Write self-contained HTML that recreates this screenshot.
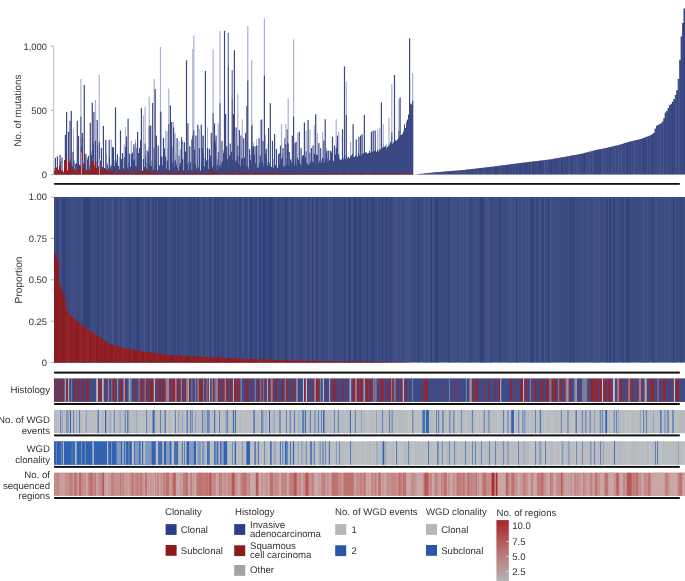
<!DOCTYPE html>
<html><head><meta charset="utf-8"><style>
html,body{margin:0;padding:0;background:#fff;width:685px;height:581px;overflow:hidden}
svg{display:block} text{text-rendering:geometricPrecision} svg{will-change:transform}
</style></head><body><svg width="685" height="581" viewBox="0 0 685 581"><path d="M54 168.1H55V171.9H54ZM55 171.5H56V173.2H55ZM56 173.1H57V173.2H56ZM57 170.8H58V171.1H57ZM59 169.3H60V172.9H59ZM63 171.5H64V171.9H63ZM66 157.6H67V164.1H66ZM67 170.8H68V172.6H67ZM68 159.9H69V162.9H68ZM69 162.3H70V165.2H69ZM73 129.6H74V161.3H73ZM74 160.5H75V171.9H74ZM75 171.2H76V171.5H75ZM81 138.0H82V146.9H81ZM84 153.4H85V157.3H84ZM85 157.9H86V162.9H85ZM86 170.6H87V171.1H86ZM87 157.3H88V159.6H87ZM89 165.5H90V172.0H89ZM91 150.4H92V154.7H91ZM93 142.6H94V144.2H93ZM94 164.9H95V170.2H94ZM95 164.6H96V164.6H95ZM96 160.9H97V167.7H96ZM99 143.7H100V162.4H99ZM101 156.0H102V159.7H101ZM103 170.2H104V171.9H103ZM104 170.6H105V171.0H104ZM105 171.6H106V172.4H105ZM106 153.8H107V168.8H106ZM107 162.6H108V164.7H107ZM108 168.0H109V168.9H108ZM110 166.6H111V167.3H110ZM111 169.2H112V171.4H111ZM112 158.0H113V158.1H112ZM113 147.0H114V148.1H113ZM114 160.5H115V165.9H114ZM116 159.3H117V162.6H116ZM119 156.9H120V168.9H119ZM122 156.0H123V161.3H122ZM123 168.3H124V168.5H123ZM124 160.9H125V169.4H124ZM125 127.0H126V146.9H125ZM127 166.5H128V168.3H127ZM128 163.1H129V170.2H128ZM131 151.2H132V159.0H131ZM133 159.3H134V160.7H133ZM134 147.7H135V159.4H134ZM135 139.6H136V143.3H135ZM137 169.1H138V170.3H137ZM141 167.2H142V168.2H141ZM143 143.7H144V163.2H143ZM145 155.5H146V157.6H145ZM146 162.4H147V168.8H146ZM147 168.1H148V169.1H147ZM148 147.9H149V152.3H148ZM151 160.6H152V165.9H151ZM152 169.8H153V171.3H152ZM154 160.6H155V169.9H154ZM155 159.6H156V164.9H155ZM158 158.4H159V169.0H158ZM162 157.1H163V165.6H162ZM163 161.7H164V166.4H163ZM168 165.7H169V170.0H168ZM169 170.0H170V170.5H169ZM171 143.8H172V152.9H171ZM172 147.0H173V162.4H172ZM173 121.7H174V143.6H173ZM174 133.9H175V166.9H174ZM175 152.6H176V156.7H175ZM176 163.6H177V165.2H176ZM179 163.4H180V166.3H179ZM180 162.6H181V163.1H180ZM182 140.1H183V142.3H182ZM184 164.3H185V168.3H184ZM186 150.3H187V168.4H186ZM188 161.6H189V170.0H188ZM189 146.2H190V166.3H189ZM193 160.0H194V165.8H193ZM194 148.7H195V149.7H194ZM195 163.8H196V164.6H195ZM196 167.5H197V169.2H196ZM197 157.3H198V167.6H197ZM198 166.4H199V167.8H198ZM199 165.0H200V167.1H199ZM201 159.4H202V164.0H201ZM202 136.3H203V148.6H202ZM203 152.9H204V165.9H203ZM204 158.0H205V166.4H204ZM205 125.1H206V138.0H205ZM207 165.7H208V166.1H207ZM208 159.4H209V169.1H208ZM209 167.2H210V167.9H209ZM211 159.3H212V161.3H211ZM212 166.1H213V167.4H212ZM213 141.9H214V165.4H213ZM214 139.3H215V141.3H214ZM215 139.9H216V143.1H215ZM216 165.4H217V170.0H216ZM217 159.3H218V164.4H217ZM218 169.2H219V169.9H218ZM219 165.7H220V165.8H219ZM220 160.6H221V167.0H220ZM223 150.1H224V152.9H223ZM224 127.0H225V136.3H224ZM225 148.5H226V161.5H225ZM228 163.4H229V168.4H228ZM232 159.8H233V160.1H232ZM233 167.6H234V168.4H233ZM236 160.2H237V160.3H236ZM238 156.0H239V163.8H238ZM240 164.7H241V167.0H240ZM241 149.1H242V158.8H241ZM242 136.0H243V139.5H242ZM245 159.8H246V160.9H245ZM248 166.7H249V168.9H248ZM250 154.7H251V160.0H250ZM251 163.0H252V163.9H251ZM252 123.4H253V150.9H252ZM253 142.4H254V146.8H253ZM255 162.3H256V164.0H255ZM256 139.1H257V145.4H256ZM257 145.4H258V167.4H257ZM260 142.3H261V158.8H260ZM261 163.1H262V163.1H261ZM262 160.4H263V163.0H262ZM263 164.4H264V167.1H263ZM264 143.6H265V153.6H264ZM265 134.8H266V153.6H265ZM267 161.8H268V165.4H267ZM269 162.1H270V164.4H269ZM270 163.0H271V167.9H270ZM272 165.2H273V167.1H272ZM273 158.9H274V167.4H273ZM276 156.1H277V159.5H276ZM279 164.8H280V164.9H279ZM280 158.4H281V160.2H280ZM281 163.1H282V166.7H281ZM282 153.8H283V156.7H282ZM284 165.6H285V166.1H284ZM286 158.8H287V165.2H286ZM287 149.7H288V150.1H287ZM288 165.1H289V166.2H288ZM289 165.6H290V166.4H289ZM291 160.9H292V162.4H291ZM292 163.1H293V164.2H292ZM293 157.0H294V166.2H293ZM294 163.3H295V166.0H294ZM295 159.5H296V160.3H295ZM296 163.8H297V165.4H296ZM298 159.9H299V160.0H298ZM301 158.9H302V166.0H301ZM303 154.8H304V155.1H303ZM304 162.2H305V165.3H304ZM310 161.8H311V162.1H310ZM312 161.3H313V161.5H312ZM314 160.9H315V163.4H314ZM315 163.1H316V164.7H315ZM317 157.4H318V158.1H317ZM319 160.6H320V160.7H319ZM321 159.4H322V162.4H321ZM322 155.9H323V156.0H322ZM323 159.3H324V162.4H323ZM325 158.5H326V159.2H325ZM326 147.9H327V152.5H326ZM327 158.2H328V162.0H327ZM329 159.7H330V160.3H329ZM331 151.7H332V153.1H331ZM333 161.0H334V161.1H333ZM337 152.2H338V159.6H337ZM338 153.5H339V156.5H338ZM339 157.9H340V159.0H339ZM340 159.6H341V160.0H340ZM343 157.4H344V159.3H343ZM344 157.2H345V157.3H344ZM345 155.6H346V158.4H345ZM346 156.2H347V158.7H346ZM347 156.9H348V158.7H347ZM348 156.8H349V156.8H348ZM351 155.0H352V155.3H351ZM354 157.0H355V157.0H354ZM357 156.0H358V156.7H357ZM359 155.0H360V155.6H359ZM364 153.8H365V154.3H364ZM365 152.3H366V152.6H365ZM366 152.3H367V152.4H366ZM370 152.6H371V152.7H370ZM372 151.5H373V152.1H372ZM375 149.1H376V151.1H375ZM378 151.2H379V151.5H378ZM380 149.2H381V149.7H380ZM381 144.1H382V144.4H381ZM383 142.9H384V143.6H383ZM385 145.3H386V145.7H385ZM386 144.3H387V148.2H386ZM389 144.0H390V145.7H389ZM390 141.2H391V142.1H390ZM391 143.2H392V143.7H391ZM392 143.7H393V144.0H392ZM394 141.9H395V142.3H394ZM395 140.0H396V140.4H395ZM397 139.0H398V139.2H397ZM399 136.4H400V136.6H399ZM400 134.8H401V135.1H400ZM403 129.9H404V132.0H403ZM404 124.0H405V124.3H404ZM405 128.0H406V128.0H405ZM406 120.5H407V122.4H406ZM408 114.4H409V114.5H408ZM410 103.1H411V104.1H410ZM411 104.4H412V104.5H411ZM412 99.9H413V102.8H412Z" fill="#aab1d2"/><path d="M54 171.9H55V174.5H54ZM55 173.2H56V174.5H55ZM56 173.2H57V174.5H56ZM57 171.1H58V174.5H57ZM58 171.2H59V174.5H58ZM59 172.9H60V174.5H59ZM60 161.6H61V174.5H60ZM61 171.3H62V174.5H61ZM62 173.1H63V174.5H62ZM63 171.9H64V174.5H63ZM64 170.0H65V174.5H64ZM65 171.5H66V174.5H65ZM66 164.1H67V174.5H66ZM67 172.6H68V174.5H67ZM68 162.9H69V174.5H68ZM69 165.2H70V174.5H69ZM70 158.9H71V174.5H70ZM71 170.6H72V174.5H71ZM72 166.4H73V174.5H72ZM73 161.3H74V174.5H73ZM74 171.9H75V174.5H74ZM75 171.5H76V174.5H75ZM76 163.1H77V174.5H76ZM77 165.3H78V174.5H77ZM78 169.6H79V174.5H78ZM79 164.8H80V174.5H79ZM80 167.4H81V174.5H80ZM81 146.9H82V174.5H81ZM82 172.3H83V174.5H82ZM83 163.5H84V174.5H83ZM84 157.3H85V174.5H84ZM85 162.9H86V174.5H85ZM86 171.1H87V174.5H86ZM87 159.6H88V174.5H87ZM88 168.3H89V174.5H88ZM89 172.0H90V174.5H89ZM90 153.4H91V174.5H90ZM91 154.7H92V174.5H91ZM92 168.7H93V174.5H92ZM93 144.2H94V174.5H93ZM94 170.2H95V174.5H94ZM95 164.6H96V174.5H95ZM96 167.7H97V174.5H96ZM97 145.0H98V174.5H97ZM98 166.0H99V174.5H98ZM99 162.4H100V174.5H99ZM100 160.4H101V174.5H100ZM101 159.7H102V174.5H101ZM102 171.6H103V174.5H102ZM103 171.9H104V174.5H103ZM104 171.0H105V174.5H104ZM105 172.4H106V174.5H105ZM106 168.8H107V174.5H106ZM107 164.7H108V174.5H107ZM108 168.9H109V174.5H108ZM109 157.2H110V174.5H109ZM110 167.3H111V174.5H110ZM111 171.4H112V174.5H111ZM112 158.1H113V174.5H112ZM113 148.1H114V174.5H113ZM114 165.9H115V174.5H114ZM115 141.5H116V174.5H115ZM116 162.6H117V174.5H116ZM117 170.7H118V174.5H117ZM118 166.0H119V174.5H118ZM119 168.9H120V174.5H119ZM120 138.5H121V174.5H120ZM121 158.9H122V174.5H121ZM122 161.3H123V174.5H122ZM123 168.5H124V174.5H123ZM124 169.4H125V174.5H124ZM125 146.9H126V174.5H125ZM126 136.6H127V174.5H126ZM127 168.3H128V174.5H127ZM128 170.2H129V174.5H128ZM129 153.5H130V174.5H129ZM130 166.7H131V174.5H130ZM131 159.0H132V174.5H131ZM132 152.6H133V174.5H132ZM133 160.7H134V174.5H133ZM134 159.4H135V174.5H134ZM135 143.3H136V174.5H135ZM136 148.3H137V174.5H136ZM137 170.3H138V174.5H137ZM138 152.9H139V174.5H138ZM139 170.4H140V174.5H139ZM140 140.3H141V174.5H140ZM141 168.2H142V174.5H141ZM142 171.5H143V174.5H142ZM143 163.2H144V174.5H143ZM144 167.1H145V174.5H144ZM145 157.6H146V174.5H145ZM146 168.8H147V174.5H146ZM147 169.1H148V174.5H147ZM148 152.3H149V174.5H148ZM149 164.5H150V174.5H149ZM150 167.1H151V174.5H150ZM151 165.9H152V174.5H151ZM152 171.3H153V174.5H152ZM153 171.4H154V174.5H153ZM154 169.9H155V174.5H154ZM155 164.9H156V174.5H155ZM156 164.9H157V174.5H156ZM157 170.5H158V174.5H157ZM158 169.0H159V174.5H158ZM159 165.6H160V174.5H159ZM160 159.9H161V174.5H160ZM161 166.6H162V174.5H161ZM162 165.6H163V174.5H162ZM163 166.4H164V174.5H163ZM164 148.5H165V174.5H164ZM165 154.5H166V174.5H165ZM166 168.8H167V174.5H166ZM167 148.2H168V174.5H167ZM168 170.0H169V174.5H168ZM169 170.5H170V174.5H169ZM170 162.2H171V174.5H170ZM171 152.9H172V174.5H171ZM172 162.4H173V174.5H172ZM173 143.6H174V174.5H173ZM174 166.9H175V174.5H174ZM175 156.7H176V174.5H175ZM176 165.2H177V174.5H176ZM177 167.9H178V174.5H177ZM178 170.8H179V174.5H178ZM179 166.3H180V174.5H179ZM180 163.1H181V174.5H180ZM181 137.2H182V174.5H181ZM182 142.3H183V174.5H182ZM183 170.5H184V174.5H183ZM184 168.3H185V174.5H184ZM185 151.4H186V174.5H185ZM186 168.4H187V174.5H186ZM187 164.0H188V174.5H187ZM188 170.0H189V174.5H188ZM189 166.3H190V174.5H189ZM190 162.6H191V174.5H190ZM191 170.0H192V174.5H191ZM192 170.1H193V174.5H192ZM193 165.8H194V174.5H193ZM194 149.7H195V174.5H194ZM195 164.6H196V174.5H195ZM196 169.2H197V174.5H196ZM197 167.6H198V174.5H197ZM198 167.8H199V174.5H198ZM199 167.1H200V174.5H199ZM200 170.4H201V174.5H200ZM201 164.0H202V174.5H201ZM202 148.6H203V174.5H202ZM203 165.9H204V174.5H203ZM204 166.4H205V174.5H204ZM205 138.0H206V174.5H205ZM206 160.5H207V174.5H206ZM207 166.1H208V174.5H207ZM208 169.1H209V174.5H208ZM209 167.9H210V174.5H209ZM210 155.5H211V174.5H210ZM211 161.3H212V174.5H211ZM212 167.4H213V174.5H212ZM213 165.4H214V174.5H213ZM214 141.3H215V174.5H214ZM215 143.1H216V174.5H215ZM216 170.0H217V174.5H216ZM217 164.4H218V174.5H217ZM218 169.9H219V174.5H218ZM219 165.8H220V174.5H219ZM220 167.0H221V174.5H220ZM221 163.8H222V174.5H221ZM222 161.3H223V174.5H222ZM223 152.9H224V174.5H223ZM224 136.3H225V174.5H224ZM225 161.5H226V174.5H225ZM226 151.9H227V174.5H226ZM227 159.1H228V174.5H227ZM228 168.4H229V174.5H228ZM229 155.2H230V174.5H229ZM230 155.6H231V174.5H230ZM231 151.7H232V174.5H231ZM232 160.1H233V174.5H232ZM233 168.4H234V174.5H233ZM234 155.0H235V174.5H234ZM235 161.5H236V174.5H235ZM236 160.3H237V174.5H236ZM237 156.6H238V174.5H237ZM238 163.8H239V174.5H238ZM239 168.8H240V174.5H239ZM240 167.0H241V174.5H240ZM241 158.8H242V174.5H241ZM242 139.5H243V174.5H242ZM243 164.0H244V174.5H243ZM244 157.5H245V174.5H244ZM245 160.9H246V174.5H245ZM246 166.8H247V174.5H246ZM247 166.2H248V174.5H247ZM248 168.9H249V174.5H248ZM249 160.1H250V174.5H249ZM250 160.0H251V174.5H250ZM251 163.9H252V174.5H251ZM252 150.9H253V174.5H252ZM253 146.8H254V174.5H253ZM254 155.1H255V174.5H254ZM255 164.0H256V174.5H255ZM256 145.4H257V174.5H256ZM257 167.4H258V174.5H257ZM258 167.4H259V174.5H258ZM259 162.8H260V174.5H259ZM260 158.8H261V174.5H260ZM261 163.1H262V174.5H261ZM262 163.0H263V174.5H262ZM263 167.1H264V174.5H263ZM264 153.6H265V174.5H264ZM265 153.6H266V174.5H265ZM266 158.2H267V174.5H266ZM267 165.4H268V174.5H267ZM268 128.1H269V174.5H268ZM269 164.4H270V174.5H269ZM270 167.9H271V174.5H270ZM271 167.0H272V174.5H271ZM272 167.1H273V174.5H272ZM273 167.4H274V174.5H273ZM274 161.5H275V174.5H274ZM275 165.0H276V174.5H275ZM276 159.5H277V174.5H276ZM277 167.8H278V174.5H277ZM278 166.2H279V174.5H278ZM279 164.9H280V174.5H279ZM280 160.2H281V174.5H280ZM281 166.7H282V174.5H281ZM282 156.7H283V174.5H282ZM283 166.7H284V174.5H283ZM284 166.1H285V174.5H284ZM285 166.7H286V174.5H285ZM286 165.2H287V174.5H286ZM287 150.1H288V174.5H287ZM288 166.2H289V174.5H288ZM289 166.4H290V174.5H289ZM290 164.0H291V174.5H290ZM291 162.4H292V174.5H291ZM292 164.2H293V174.5H292ZM293 166.2H294V174.5H293ZM294 166.0H295V174.5H294ZM295 160.3H296V174.5H295ZM296 165.4H297V174.5H296ZM297 157.0H298V174.5H297ZM298 160.0H299V174.5H298ZM299 162.4H300V174.5H299ZM300 164.1H301V174.5H300ZM301 166.0H302V174.5H301ZM302 160.7H303V174.5H302ZM303 155.1H304V174.5H303ZM304 165.3H305V174.5H304ZM305 157.2H306V174.5H305ZM306 162.5H307V174.5H306ZM307 163.7H308V174.5H307ZM308 165.3H309V174.5H308ZM309 164.6H310V174.5H309ZM310 162.1H311V174.5H310ZM311 164.3H312V174.5H311ZM312 161.5H313V174.5H312ZM313 162.7H314V174.5H313ZM314 163.4H315V174.5H314ZM315 164.7H316V174.5H315ZM316 155.1H317V174.5H316ZM317 158.1H318V174.5H317ZM318 163.6H319V174.5H318ZM319 160.7H320V174.5H319ZM320 162.1H321V174.5H320ZM321 162.4H322V174.5H321ZM322 156.0H323V174.5H322ZM323 162.4H324V174.5H323ZM324 162.7H325V174.5H324ZM325 159.2H326V174.5H325ZM326 152.5H327V174.5H326ZM327 162.0H328V174.5H327ZM328 161.6H329V174.5H328ZM329 160.3H330V174.5H329ZM330 160.6H331V174.5H330ZM331 153.1H332V174.5H331ZM332 161.1H333V174.5H332ZM333 161.1H334V174.5H333ZM334 159.9H335V174.5H334ZM335 154.7H336V174.5H335ZM336 143.0H337V174.5H336ZM337 159.6H338V174.5H337ZM338 156.5H339V174.5H338ZM339 159.0H340V174.5H339ZM340 160.0H341V174.5H340ZM341 159.5H342V174.5H341ZM342 159.6H343V174.5H342ZM343 159.3H344V174.5H343ZM344 157.3H345V174.5H344ZM345 158.4H346V174.5H345ZM346 158.7H347V174.5H346ZM347 158.7H348V174.5H347ZM348 156.8H349V174.5H348ZM349 158.3H350V174.5H349ZM350 157.9H351V174.5H350ZM351 155.3H352V174.5H351ZM352 154.1H353V174.5H352ZM353 157.3H354V174.5H353ZM354 157.0H355V174.5H354ZM355 155.5H356V174.5H355ZM356 155.7H357V174.5H356ZM357 156.7H358V174.5H357ZM358 152.7H359V174.5H358ZM359 155.6H360V174.5H359ZM360 155.2H361V174.5H360ZM361 155.5H362V174.5H361ZM362 153.8H363V174.5H362ZM363 153.3H364V174.5H363ZM364 154.3H365V174.5H364ZM365 152.6H366V174.5H365ZM366 152.4H367V174.5H366ZM367 153.7H368V174.5H367ZM368 152.9H369V174.5H368ZM369 150.7H370V174.5H369ZM370 152.7H371V174.5H370ZM371 152.1H372V174.5H371ZM372 152.1H373V174.5H372ZM373 151.5H374V174.5H373ZM374 150.9H375V174.5H374ZM375 151.1H376V174.5H375ZM376 151.8H377V174.5H376ZM377 151.5H378V174.5H377ZM378 151.5H379V174.5H378ZM379 151.1H380V174.5H379ZM380 149.7H381V174.5H380ZM381 144.4H382V174.5H381ZM382 147.8H383V174.5H382ZM383 143.6H384V174.5H383ZM384 146.8H385V174.5H384ZM385 145.7H386V174.5H385ZM386 148.2H387V174.5H386ZM387 146.8H388V174.5H387ZM388 146.5H389V174.5H388ZM389 145.7H390V174.5H389ZM390 142.1H391V174.5H390ZM391 143.7H392V174.5H391ZM392 144.0H393V174.5H392ZM393 142.3H394V174.5H393ZM394 142.3H395V174.5H394ZM395 140.4H396V174.5H395ZM396 140.6H397V174.5H396ZM397 139.2H398V174.5H397ZM398 138.5H399V174.5H398ZM399 136.6H400V174.5H399ZM400 135.1H401V174.5H400ZM401 134.9H402V174.5H401ZM402 133.6H403V174.5H402ZM403 132.0H404V174.5H403ZM404 124.3H405V174.5H404ZM405 128.0H406V174.5H405ZM406 122.4H407V174.5H406ZM407 119.4H408V174.5H407ZM408 114.5H409V174.5H408ZM409 109.4H410V174.5H409ZM410 104.1H411V174.5H410ZM411 104.5H412V174.5H411ZM412 102.8H413V174.5H412Z" fill="#3a4883"/><rect x="54.80" y="157.8" width="1.2" height="16.7" fill="#3a4883"/><rect x="56.80" y="156.2" width="1.2" height="18.3" fill="#3a4883"/><rect x="59.40" y="154.8" width="1.2" height="19.7" fill="#3a4883"/><rect x="61.40" y="157.4" width="1.2" height="17.1" fill="#3a4883"/><rect x="64.80" y="134.9" width="1.2" height="39.6" fill="#3a4883"/><rect x="66.00" y="111.9" width="1.2" height="62.6" fill="#3a4883"/><rect x="67.90" y="131.9" width="1.2" height="42.6" fill="#3a4883"/><rect x="69.40" y="120.9" width="1.2" height="53.6" fill="#3a4883"/><rect x="70.70" y="110.9" width="1.2" height="63.6" fill="#3a4883"/><rect x="72.40" y="151.8" width="1.2" height="22.7" fill="#3a4883"/><rect x="74.70" y="163.8" width="1.2" height="10.7" fill="#3a4883"/><rect x="76.70" y="120.9" width="1.2" height="53.6" fill="#3a4883"/><rect x="77.90" y="135.9" width="1.2" height="38.6" fill="#3a4883"/><rect x="80.30" y="79.0" width="1.2" height="37.6" fill="#aab1d2"/><rect x="80.30" y="116.6" width="1.2" height="57.9" fill="#3a4883"/><rect x="81.90" y="132.9" width="1.2" height="41.6" fill="#3a4883"/><rect x="83.70" y="85.0" width="1.2" height="89.5" fill="#3a4883"/><rect x="85.30" y="153.8" width="1.2" height="20.7" fill="#3a4883"/><rect x="87.90" y="155.8" width="1.2" height="18.7" fill="#3a4883"/><rect x="89.70" y="122.9" width="1.2" height="51.6" fill="#3a4883"/><rect x="91.70" y="102.9" width="1.2" height="71.6" fill="#3a4883"/><rect x="93.30" y="111.9" width="1.2" height="62.6" fill="#3a4883"/><rect x="94.90" y="99.9" width="1.2" height="40.7" fill="#aab1d2"/><rect x="94.90" y="140.6" width="1.2" height="33.9" fill="#3a4883"/><rect x="96.60" y="119.9" width="1.2" height="54.6" fill="#3a4883"/><rect x="98.60" y="75.0" width="1.2" height="66.9" fill="#aab1d2"/><rect x="98.60" y="141.9" width="1.2" height="32.6" fill="#3a4883"/><rect x="100.80" y="147.8" width="1.2" height="26.7" fill="#3a4883"/><rect x="102.80" y="125.9" width="1.2" height="48.6" fill="#3a4883"/><rect x="105.20" y="139.9" width="1.2" height="34.6" fill="#3a4883"/><rect x="108.60" y="139.9" width="1.2" height="34.6" fill="#3a4883"/><rect x="110.70" y="139.3" width="1.2" height="25.9" fill="#aab1d2"/><rect x="110.70" y="165.2" width="1.2" height="9.3" fill="#3a4883"/><rect x="111.90" y="146.9" width="1.2" height="27.6" fill="#3a4883"/><rect x="114.90" y="107.4" width="1.2" height="67.1" fill="#3a4883"/><rect x="116.90" y="154.4" width="1.2" height="20.1" fill="#3a4883"/><rect x="119.90" y="130.5" width="1.2" height="44.0" fill="#3a4883"/><rect x="122.00" y="153.0" width="1.2" height="21.5" fill="#3a4883"/><rect x="123.70" y="144.3" width="1.2" height="13.0" fill="#aab1d2"/><rect x="123.70" y="157.3" width="1.2" height="17.2" fill="#3a4883"/><rect x="126.00" y="150.6" width="1.2" height="23.9" fill="#3a4883"/><rect x="127.50" y="118.7" width="1.2" height="55.8" fill="#3a4883"/><rect x="130.70" y="140.6" width="1.2" height="13.6" fill="#aab1d2"/><rect x="130.70" y="154.2" width="1.2" height="20.3" fill="#3a4883"/><rect x="133.30" y="144.3" width="1.2" height="30.2" fill="#3a4883"/><rect x="135.30" y="144.3" width="1.2" height="22.0" fill="#aab1d2"/><rect x="135.30" y="166.3" width="1.2" height="8.2" fill="#3a4883"/><rect x="137.00" y="131.8" width="1.2" height="42.7" fill="#3a4883"/><rect x="139.00" y="148.1" width="1.2" height="26.4" fill="#3a4883"/><rect x="140.80" y="107.9" width="1.2" height="66.6" fill="#3a4883"/><rect x="142.80" y="115.4" width="1.2" height="43.7" fill="#aab1d2"/><rect x="142.80" y="159.1" width="1.2" height="15.4" fill="#3a4883"/><rect x="144.50" y="106.7" width="1.2" height="36.8" fill="#aab1d2"/><rect x="144.50" y="143.5" width="1.2" height="31.0" fill="#3a4883"/><rect x="146.60" y="150.6" width="1.2" height="23.9" fill="#3a4883"/><rect x="148.60" y="96.6" width="1.2" height="28.9" fill="#aab1d2"/><rect x="148.60" y="125.5" width="1.2" height="49.0" fill="#3a4883"/><rect x="150.10" y="125.5" width="1.2" height="49.0" fill="#3a4883"/><rect x="152.10" y="102.9" width="1.2" height="71.6" fill="#3a4883"/><rect x="153.60" y="79.0" width="1.2" height="68.8" fill="#aab1d2"/><rect x="153.60" y="147.8" width="1.2" height="26.7" fill="#3a4883"/><rect x="154.60" y="89.0" width="1.2" height="85.5" fill="#3a4883"/><rect x="155.80" y="135.6" width="1.2" height="38.9" fill="#3a4883"/><rect x="157.60" y="145.6" width="1.2" height="28.9" fill="#3a4883"/><rect x="159.90" y="47.1" width="1.2" height="64.4" fill="#aab1d2"/><rect x="159.90" y="111.5" width="1.2" height="63.0" fill="#3a4883"/><rect x="160.90" y="111.7" width="1.2" height="44.7" fill="#aab1d2"/><rect x="160.90" y="156.4" width="1.2" height="18.1" fill="#3a4883"/><rect x="162.90" y="138.0" width="1.2" height="36.5" fill="#3a4883"/><rect x="165.10" y="130.5" width="1.2" height="26.3" fill="#aab1d2"/><rect x="165.10" y="156.8" width="1.2" height="17.7" fill="#3a4883"/><rect x="166.60" y="131.4" width="1.2" height="29.3" fill="#aab1d2"/><rect x="166.60" y="160.7" width="1.2" height="13.8" fill="#3a4883"/><rect x="168.20" y="88.5" width="1.2" height="35.6" fill="#aab1d2"/><rect x="168.20" y="124.1" width="1.2" height="50.4" fill="#3a4883"/><rect x="169.80" y="105.4" width="1.2" height="69.1" fill="#3a4883"/><rect x="171.10" y="122.0" width="1.2" height="52.5" fill="#3a4883"/><rect x="173.00" y="127.4" width="1.2" height="47.1" fill="#3a4883"/><rect x="174.60" y="132.8" width="1.2" height="27.7" fill="#aab1d2"/><rect x="174.60" y="160.5" width="1.2" height="14.0" fill="#3a4883"/><rect x="176.50" y="138.2" width="1.2" height="36.3" fill="#3a4883"/><rect x="178.40" y="140.8" width="1.2" height="14.8" fill="#aab1d2"/><rect x="178.40" y="155.6" width="1.2" height="18.9" fill="#3a4883"/><rect x="180.50" y="148.9" width="1.2" height="25.6" fill="#3a4883"/><rect x="182.20" y="143.5" width="1.2" height="15.9" fill="#aab1d2"/><rect x="182.20" y="159.4" width="1.2" height="15.1" fill="#3a4883"/><rect x="183.80" y="142.2" width="1.2" height="32.3" fill="#3a4883"/><rect x="185.90" y="60.3" width="1.2" height="114.2" fill="#3a4883"/><rect x="187.30" y="123.4" width="1.2" height="51.1" fill="#3a4883"/><rect x="189.20" y="146.2" width="1.2" height="28.3" fill="#3a4883"/><rect x="191.30" y="139.5" width="1.2" height="35.0" fill="#3a4883"/><rect x="192.20" y="49.0" width="1.2" height="86.4" fill="#aab1d2"/><rect x="192.20" y="135.4" width="1.2" height="39.1" fill="#3a4883"/><rect x="193.20" y="35.3" width="1.2" height="94.9" fill="#aab1d2"/><rect x="193.20" y="130.2" width="1.2" height="44.3" fill="#3a4883"/><rect x="195.30" y="135.5" width="1.2" height="39.0" fill="#3a4883"/><rect x="197.20" y="124.7" width="1.2" height="49.8" fill="#3a4883"/><rect x="198.80" y="128.8" width="1.2" height="19.3" fill="#aab1d2"/><rect x="198.80" y="148.1" width="1.2" height="26.4" fill="#3a4883"/><rect x="200.70" y="124.7" width="1.2" height="49.8" fill="#3a4883"/><rect x="202.60" y="135.5" width="1.2" height="39.0" fill="#3a4883"/><rect x="204.80" y="71.0" width="1.2" height="103.5" fill="#3a4883"/><rect x="206.90" y="127.4" width="1.2" height="20.6" fill="#aab1d2"/><rect x="206.90" y="148.0" width="1.2" height="26.5" fill="#3a4883"/><rect x="208.80" y="148.9" width="1.2" height="25.6" fill="#3a4883"/><rect x="210.70" y="132.8" width="1.2" height="41.7" fill="#3a4883"/><rect x="212.50" y="49.4" width="1.2" height="63.8" fill="#aab1d2"/><rect x="212.50" y="113.2" width="1.2" height="61.3" fill="#3a4883"/><rect x="213.90" y="123.4" width="1.2" height="51.1" fill="#3a4883"/><rect x="215.50" y="135.5" width="1.2" height="39.0" fill="#3a4883"/><rect x="217.70" y="123.4" width="1.2" height="28.5" fill="#aab1d2"/><rect x="217.70" y="151.9" width="1.2" height="22.6" fill="#3a4883"/><rect x="219.40" y="30.8" width="1.2" height="72.3" fill="#aab1d2"/><rect x="219.40" y="103.1" width="1.2" height="71.4" fill="#3a4883"/><rect x="221.40" y="140.8" width="1.2" height="33.7" fill="#3a4883"/><rect x="223.90" y="30.8" width="1.2" height="143.7" fill="#3a4883"/><rect x="225.00" y="114.0" width="1.2" height="60.5" fill="#3a4883"/><rect x="226.10" y="146.2" width="1.2" height="28.3" fill="#3a4883"/><rect x="227.70" y="32.9" width="1.2" height="33.5" fill="#6872a8"/><rect x="227.70" y="66.4" width="1.2" height="108.1" fill="#3a4883"/><rect x="229.60" y="143.5" width="1.2" height="31.0" fill="#3a4883"/><rect x="231.60" y="70.0" width="1.2" height="28.6" fill="#6872a8"/><rect x="231.60" y="98.6" width="1.2" height="75.9" fill="#3a4883"/><rect x="232.80" y="114.0" width="1.2" height="60.5" fill="#3a4883"/><rect x="233.80" y="50.2" width="1.2" height="124.3" fill="#3a4883"/><rect x="235.50" y="127.4" width="1.2" height="47.1" fill="#3a4883"/><rect x="237.20" y="93.8" width="1.2" height="51.6" fill="#aab1d2"/><rect x="237.20" y="145.4" width="1.2" height="29.1" fill="#3a4883"/><rect x="238.80" y="130.0" width="1.2" height="44.5" fill="#3a4883"/><rect x="240.40" y="135.5" width="1.2" height="39.0" fill="#3a4883"/><rect x="241.70" y="119.4" width="1.2" height="39.1" fill="#aab1d2"/><rect x="241.70" y="158.5" width="1.2" height="16.0" fill="#3a4883"/><rect x="243.10" y="138.2" width="1.2" height="36.3" fill="#3a4883"/><rect x="245.00" y="132.8" width="1.2" height="41.7" fill="#3a4883"/><rect x="246.30" y="106.0" width="1.2" height="68.5" fill="#3a4883"/><rect x="247.20" y="26.0" width="1.2" height="54.4" fill="#aab1d2"/><rect x="247.20" y="80.4" width="1.2" height="94.1" fill="#3a4883"/><rect x="249.00" y="148.9" width="1.2" height="25.6" fill="#3a4883"/><rect x="251.10" y="59.7" width="1.2" height="66.0" fill="#aab1d2"/><rect x="251.10" y="125.7" width="1.2" height="48.8" fill="#3a4883"/><rect x="252.20" y="146.2" width="1.2" height="28.3" fill="#3a4883"/><rect x="254.40" y="146.2" width="1.2" height="28.3" fill="#3a4883"/><rect x="256.00" y="154.3" width="1.2" height="20.2" fill="#3a4883"/><rect x="258.40" y="138.2" width="1.2" height="36.3" fill="#3a4883"/><rect x="259.80" y="119.9" width="1.2" height="35.7" fill="#aab1d2"/><rect x="259.80" y="155.6" width="1.2" height="18.9" fill="#3a4883"/><rect x="261.10" y="119.4" width="1.2" height="55.1" fill="#3a4883"/><rect x="262.40" y="140.8" width="1.2" height="33.7" fill="#3a4883"/><rect x="263.80" y="18.5" width="1.2" height="57.0" fill="#aab1d2"/><rect x="263.80" y="75.5" width="1.2" height="99.0" fill="#3a4883"/><rect x="265.70" y="148.9" width="1.2" height="25.6" fill="#3a4883"/><rect x="267.80" y="143.5" width="1.2" height="31.0" fill="#3a4883"/><rect x="269.70" y="103.2" width="1.2" height="71.3" fill="#3a4883"/><rect x="271.90" y="140.8" width="1.2" height="33.7" fill="#3a4883"/><rect x="274.00" y="134.1" width="1.2" height="40.4" fill="#3a4883"/><rect x="275.90" y="148.9" width="1.2" height="25.6" fill="#3a4883"/><rect x="278.00" y="154.3" width="1.2" height="20.2" fill="#3a4883"/><rect x="279.20" y="153.0" width="1.2" height="21.5" fill="#3a4883"/><rect x="279.90" y="145.6" width="1.2" height="28.9" fill="#3a4883"/><rect x="280.90" y="124.2" width="1.2" height="34.5" fill="#aab1d2"/><rect x="280.90" y="158.7" width="1.2" height="15.8" fill="#3a4883"/><rect x="282.40" y="148.0" width="1.2" height="26.5" fill="#3a4883"/><rect x="284.40" y="138.0" width="1.2" height="36.5" fill="#3a4883"/><rect x="285.30" y="124.2" width="1.2" height="20.0" fill="#aab1d2"/><rect x="285.30" y="144.2" width="1.2" height="30.3" fill="#3a4883"/><rect x="286.70" y="129.3" width="1.2" height="45.2" fill="#3a4883"/><rect x="287.60" y="98.4" width="1.2" height="44.9" fill="#aab1d2"/><rect x="287.60" y="143.3" width="1.2" height="31.2" fill="#3a4883"/><rect x="288.70" y="151.9" width="1.2" height="22.6" fill="#3a4883"/><rect x="290.00" y="159.4" width="1.2" height="15.1" fill="#3a4883"/><rect x="291.70" y="135.6" width="1.2" height="38.9" fill="#3a4883"/><rect x="293.00" y="39.4" width="1.2" height="77.0" fill="#aab1d2"/><rect x="293.00" y="116.4" width="1.2" height="58.1" fill="#3a4883"/><rect x="294.50" y="143.1" width="1.2" height="31.4" fill="#3a4883"/><rect x="295.50" y="141.8" width="1.2" height="32.7" fill="#3a4883"/><rect x="297.00" y="133.0" width="1.2" height="24.9" fill="#aab1d2"/><rect x="297.00" y="157.9" width="1.2" height="16.6" fill="#3a4883"/><rect x="298.70" y="131.8" width="1.2" height="42.7" fill="#3a4883"/><rect x="300.50" y="148.1" width="1.2" height="26.4" fill="#3a4883"/><rect x="302.00" y="155.7" width="1.2" height="18.8" fill="#3a4883"/><rect x="303.80" y="122.5" width="1.2" height="52.0" fill="#3a4883"/><rect x="305.50" y="130.5" width="1.2" height="20.8" fill="#aab1d2"/><rect x="305.50" y="151.3" width="1.2" height="23.2" fill="#3a4883"/><rect x="307.50" y="120.0" width="1.2" height="54.5" fill="#3a4883"/><rect x="309.30" y="129.3" width="1.2" height="23.4" fill="#aab1d2"/><rect x="309.30" y="152.7" width="1.2" height="21.8" fill="#3a4883"/><rect x="310.80" y="148.1" width="1.2" height="26.4" fill="#3a4883"/><rect x="312.50" y="145.6" width="1.2" height="28.9" fill="#3a4883"/><rect x="313.80" y="124.7" width="1.2" height="29.0" fill="#aab1d2"/><rect x="313.80" y="153.7" width="1.2" height="20.8" fill="#3a4883"/><rect x="315.10" y="114.2" width="1.2" height="60.3" fill="#3a4883"/><rect x="316.80" y="133.0" width="1.2" height="21.6" fill="#aab1d2"/><rect x="316.80" y="154.6" width="1.2" height="19.9" fill="#3a4883"/><rect x="318.30" y="143.1" width="1.2" height="31.4" fill="#3a4883"/><rect x="320.10" y="148.1" width="1.2" height="26.4" fill="#3a4883"/><rect x="322.10" y="131.8" width="1.2" height="26.2" fill="#aab1d2"/><rect x="322.10" y="158.0" width="1.2" height="16.5" fill="#3a4883"/><rect x="323.30" y="140.6" width="1.2" height="33.9" fill="#3a4883"/><rect x="324.60" y="119.2" width="1.2" height="55.3" fill="#3a4883"/><rect x="326.40" y="150.6" width="1.2" height="23.9" fill="#3a4883"/><rect x="328.10" y="150.6" width="1.2" height="23.9" fill="#3a4883"/><rect x="330.10" y="150.6" width="1.2" height="23.9" fill="#3a4883"/><rect x="331.90" y="136.8" width="1.2" height="37.7" fill="#3a4883"/><rect x="333.90" y="145.6" width="1.2" height="28.9" fill="#3a4883"/><rect x="335.60" y="119.2" width="1.2" height="29.2" fill="#aab1d2"/><rect x="335.60" y="148.4" width="1.2" height="26.1" fill="#3a4883"/><rect x="336.90" y="135.6" width="1.2" height="38.9" fill="#3a4883"/><rect x="338.20" y="131.8" width="1.2" height="22.4" fill="#aab1d2"/><rect x="338.20" y="154.2" width="1.2" height="20.3" fill="#3a4883"/><rect x="341.90" y="129.3" width="1.2" height="45.2" fill="#3a4883"/><rect x="343.90" y="66.4" width="1.2" height="108.1" fill="#3a4883"/><rect x="345.70" y="81.5" width="1.2" height="33.4" fill="#aab1d2"/><rect x="345.70" y="114.9" width="1.2" height="59.6" fill="#3a4883"/><rect x="350.00" y="141.8" width="1.2" height="14.4" fill="#aab1d2"/><rect x="350.00" y="156.2" width="1.2" height="18.3" fill="#3a4883"/><rect x="352.50" y="124.2" width="1.2" height="50.3" fill="#3a4883"/><rect x="355.70" y="139.3" width="1.2" height="35.2" fill="#3a4883"/><rect x="358.30" y="136.8" width="1.2" height="37.7" fill="#3a4883"/><rect x="360.00" y="135.6" width="1.2" height="38.9" fill="#3a4883"/><rect x="361.50" y="134.3" width="1.2" height="40.2" fill="#3a4883"/><rect x="363.80" y="114.9" width="1.2" height="59.6" fill="#3a4883"/><rect x="370.80" y="131.8" width="1.2" height="42.7" fill="#3a4883"/><rect x="372.60" y="130.5" width="1.2" height="44.0" fill="#3a4883"/><rect x="374.60" y="130.5" width="1.2" height="44.0" fill="#3a4883"/><rect x="377.10" y="129.3" width="1.2" height="20.7" fill="#aab1d2"/><rect x="377.10" y="150.0" width="1.2" height="24.5" fill="#3a4883"/><rect x="379.10" y="128.0" width="1.2" height="20.7" fill="#aab1d2"/><rect x="379.10" y="148.7" width="1.2" height="25.8" fill="#3a4883"/><rect x="380.80" y="102.4" width="1.2" height="72.1" fill="#3a4883"/><rect x="382.60" y="124.2" width="1.2" height="23.2" fill="#aab1d2"/><rect x="382.60" y="147.4" width="1.2" height="27.1" fill="#3a4883"/><rect x="384.60" y="148.1" width="1.2" height="26.4" fill="#3a4883"/><rect x="388.40" y="118.0" width="1.2" height="26.7" fill="#aab1d2"/><rect x="388.40" y="144.7" width="1.2" height="29.8" fill="#3a4883"/><rect x="391.20" y="84.0" width="1.2" height="48.3" fill="#aab1d2"/><rect x="391.20" y="132.3" width="1.2" height="42.2" fill="#3a4883"/><rect x="393.90" y="75.0" width="1.2" height="99.5" fill="#3a4883"/><rect x="398.30" y="99.1" width="1.2" height="31.8" fill="#aab1d2"/><rect x="398.30" y="130.9" width="1.2" height="43.6" fill="#3a4883"/><rect x="399.50" y="97.4" width="1.2" height="77.1" fill="#3a4883"/><rect x="409.00" y="38.3" width="1.2" height="136.2" fill="#3a4883"/><rect x="412.10" y="73.2" width="1.2" height="27.6" fill="#aab1d2"/><rect x="412.10" y="100.8" width="1.2" height="73.7" fill="#3a4883"/><rect x="81" y="152.3" width="1" height="22.2" fill="#d98a84"/><rect x="99" y="158.4" width="1" height="16.1" fill="#d98a84"/><path d="M54 170.8H55V174.5H54ZM55 166.6H56V174.5H55ZM56 167.5H57V174.5H56ZM57 169.1H58V174.5H57ZM58 169.8H59V174.5H58ZM59 165.4H60V174.5H59ZM60 166.3H61V174.5H60ZM61 170.8H62V174.5H61ZM62 170.3H63V174.5H62ZM63 172.0H64V174.5H63ZM64 160.0H65V174.5H64ZM65 160.0H66V174.5H65ZM66 153.1H67V174.5H66ZM67 170.6H68V174.5H67ZM68 161.9H69V174.5H68ZM69 161.9H70V174.5H69ZM70 166.0H71V174.5H70ZM71 164.7H72V174.5H71ZM72 168.9H73V174.5H72ZM73 172.2H74V174.5H73ZM74 168.9H75V174.5H74ZM75 172.5H76V174.5H75ZM76 171.3H77V174.5H76ZM77 168.4H78V174.5H77ZM78 169.0H79V174.5H78ZM79 167.5H80V174.5H79ZM80 165.4H81V174.5H80ZM82 168.0H83V174.5H82ZM83 171.3H84V174.5H83ZM84 154.9H85V174.5H84ZM85 169.8H86V174.5H85ZM86 169.8H87V174.5H86ZM87 172.0H88V174.5H87ZM88 172.3H89V174.5H88ZM89 169.8H90V174.5H89ZM90 165.8H91V174.5H90ZM91 161.0H92V174.5H91ZM92 161.0H93V174.5H92ZM93 161.0H94V174.5H93ZM94 166.4H95V174.5H94ZM95 161.0H96V174.5H95ZM96 168.7H97V174.5H96ZM97 168.3H98V174.5H97ZM98 168.0H99V174.5H98ZM100 170.3H101V174.5H100ZM101 171.0H102V174.5H101ZM102 167.1H103V174.5H102ZM103 170.5H104V174.5H103ZM104 168.1H105V174.5H104ZM105 168.9H106V174.5H105ZM106 171.0H107V174.5H106ZM107 171.0H108V174.5H107ZM108 171.6H109V174.5H108ZM109 173.1H110V174.5H109ZM110 170.4H111V174.5H110ZM111 171.1H112V174.5H111ZM112 170.4H113V174.5H112ZM113 173.2H114V174.5H113ZM114 168.1H115V174.5H114ZM115 173.7H116V174.5H115ZM116 173.3H117V174.5H116ZM117 172.8H118V174.5H117ZM118 171.3H119V174.5H118ZM119 171.2H120V174.5H119ZM120 173.2H121V174.5H120ZM121 169.7H122V174.5H121ZM122 173.3H123V174.5H122ZM123 170.2H124V174.5H123ZM124 172.1H125V174.5H124ZM125 173.7H126V174.5H125ZM126 171.5H127V174.5H126ZM127 171.1H128V174.5H127ZM128 170.0H129V174.5H128ZM129 172.7H130V174.5H129ZM130 173.5H131V174.5H130ZM131 172.1H132V174.5H131ZM132 173.5H133V174.5H132ZM133 173.7H134V174.5H133ZM134 166.9H135V174.5H134ZM135 172.9H136V174.5H135ZM136 171.7H137V174.5H136ZM137 167.4H138V174.5H137ZM138 172.5H139V174.5H138ZM139 173.5H140V174.5H139ZM140 170.6H141V174.5H140ZM141 173.7H142V174.5H141ZM142 170.7H143V174.5H142ZM143 170.7H144V174.5H143ZM144 169.8H145V174.5H144ZM145 169.8H146V174.5H145ZM146 172.4H147V174.5H146ZM147 170.9H148V174.5H147ZM148 170.9H149V174.5H148ZM149 171.5H150V174.5H149ZM150 172.5H151V174.5H150ZM151 173.3H152V174.5H151ZM152 172.3H153V174.5H152ZM153 169.4H154V174.5H153ZM154 173.3H155V174.5H154ZM155 172.6H156V174.5H155ZM156 172.6H157V174.5H156ZM157 172.4H158V174.5H157ZM158 173.3H159V174.5H158ZM159 172.8H160V174.5H159ZM160 172.7H161V174.5H160ZM161 173.0H162V174.5H161ZM162 172.7H163V174.5H162ZM163 173.0H164V174.5H163ZM164 172.8H165V174.5H164ZM165 173.4H166V174.5H165ZM166 173.6H167V174.5H166ZM167 170.5H168V174.5H167ZM168 173.5H169V174.5H168ZM169 173.2H170V174.5H169ZM170 170.7H171V174.5H170ZM171 172.7H172V174.5H171ZM172 172.7H173V174.5H172ZM173 173.6H174V174.5H173ZM174 173.2H175V174.5H174ZM175 172.5H176V174.5H175ZM176 173.6H177V174.5H176ZM177 172.3H178V174.5H177ZM178 173.5H179V174.5H178ZM179 170.5H180V174.5H179ZM180 172.4H181V174.5H180ZM181 172.7H182V174.5H181ZM182 172.8H183V174.5H182ZM183 170.6H184V174.5H183ZM184 172.6H185V174.5H184ZM185 173.2H186V174.5H185ZM186 173.7H187V174.5H186ZM187 173.3H188V174.5H187ZM188 173.1H189V174.5H188ZM189 172.3H190V174.5H189ZM190 172.4H191V174.5H190ZM191 173.7H192V174.5H191ZM192 173.0H193V174.5H192ZM193 173.2H194V174.5H193ZM194 172.9H195V174.5H194ZM195 169.4H196V174.5H195ZM196 172.5H197V174.5H196ZM197 173.7H198V174.5H197ZM198 172.6H199V174.5H198ZM199 173.7H200V174.5H199ZM200 173.0H201V174.5H200ZM201 173.4H202V174.5H201ZM202 173.2H203V174.5H202ZM203 173.3H204V174.5H203ZM204 173.3H205V174.5H204ZM205 172.7H206V174.5H205ZM206 173.5H207V174.5H206ZM207 173.6H208V174.5H207ZM208 172.7H209V174.5H208ZM209 172.8H210V174.5H209ZM210 173.1H211V174.5H210ZM211 169.4H212V174.5H211ZM212 169.4H213V174.5H212ZM213 173.4H214V174.5H213ZM214 172.3H215V174.5H214ZM215 173.1H216V174.5H215ZM216 173.3H217V174.5H216ZM217 172.9H218V174.5H217ZM218 172.6H219V174.5H218ZM219 173.2H220V174.5H219ZM220 173.5H221V174.5H220ZM221 172.7H222V174.5H221ZM222 173.4H223V174.5H222ZM223 172.5H224V174.5H223ZM224 173.5H225V174.5H224ZM225 172.4H226V174.5H225ZM226 173.4H227V174.5H226ZM227 172.6H228V174.5H227ZM228 173.5H229V174.5H228ZM229 173.3H230V174.5H229ZM230 172.9H231V174.5H230ZM231 173.2H232V174.5H231ZM232 172.2H233V174.5H232ZM233 173.5H234V174.5H233ZM234 173.5H235V174.5H234ZM235 172.2H236V174.5H235ZM236 172.6H237V174.5H236ZM237 173.4H238V174.5H237ZM238 173.5H239V174.5H238ZM239 170.1H240V174.5H239ZM240 173.1H241V174.5H240ZM241 172.7H242V174.5H241ZM242 172.8H243V174.5H242ZM243 173.5H244V174.5H243ZM244 173.1H245V174.5H244ZM245 172.3H246V174.5H245ZM246 172.8H247V174.5H246ZM247 173.1H248V174.5H247ZM248 172.6H249V174.5H248ZM249 172.5H250V174.5H249ZM250 172.4H251V174.5H250ZM251 172.7H252V174.5H251ZM252 173.2H253V174.5H252ZM253 173.6H254V174.5H253ZM254 172.5H255V174.5H254ZM255 172.8H256V174.5H255ZM256 173.1H257V174.5H256ZM257 172.8H258V174.5H257ZM258 172.7H259V174.5H258ZM259 173.4H260V174.5H259ZM260 172.5H261V174.5H260ZM261 173.0H262V174.5H261ZM262 173.6H263V174.5H262ZM263 173.5H264V174.5H263ZM264 172.3H265V174.5H264ZM265 173.5H266V174.5H265ZM266 172.9H267V174.5H266ZM267 172.9H268V174.5H267ZM268 172.5H269V174.5H268ZM269 173.1H270V174.5H269ZM270 173.4H271V174.5H270ZM271 173.1H272V174.5H271ZM272 173.5H273V174.5H272ZM273 170.2H274V174.5H273ZM274 173.3H275V174.5H274ZM275 173.7H276V174.5H275ZM276 173.1H277V174.5H276ZM277 173.2H278V174.5H277ZM278 173.4H279V174.5H278ZM279 172.3H280V174.5H279ZM280 173.6H281V174.5H280ZM281 173.3H282V174.5H281ZM282 173.5H283V174.5H282ZM283 173.6H284V174.5H283ZM284 173.6H285V174.5H284ZM285 173.3H286V174.5H285ZM286 173.3H287V174.5H286ZM287 173.4H288V174.5H287ZM288 173.5H289V174.5H288ZM289 173.4H290V174.5H289ZM290 173.6H291V174.5H290ZM291 173.2H292V174.5H291ZM292 173.5H293V174.5H292ZM293 173.4H294V174.5H293ZM294 173.3H295V174.5H294ZM295 173.3H296V174.5H295ZM296 173.5H297V174.5H296ZM297 173.6H298V174.5H297ZM298 173.4H299V174.5H298ZM299 173.6H300V174.5H299ZM300 173.3H301V174.5H300ZM301 173.5H302V174.5H301ZM302 173.3H303V174.5H302ZM303 173.6H304V174.5H303ZM304 173.5H305V174.5H304ZM305 173.6H306V174.5H305ZM306 173.5H307V174.5H306ZM307 173.6H308V174.5H307ZM308 173.7H309V174.5H308ZM309 173.3H310V174.5H309ZM310 173.6H311V174.5H310ZM311 173.6H312V174.5H311ZM312 173.5H313V174.5H312ZM313 173.5H314V174.5H313ZM314 173.5H315V174.5H314ZM315 173.4H316V174.5H315ZM316 173.4H317V174.5H316ZM317 173.5H318V174.5H317ZM318 173.2H319V174.5H318ZM319 173.3H320V174.5H319ZM320 173.7H321V174.5H320ZM321 173.3H322V174.5H321ZM322 173.2H323V174.5H322ZM323 173.3H324V174.5H323ZM324 173.6H325V174.5H324ZM325 173.3H326V174.5H325ZM326 173.4H327V174.5H326ZM327 173.7H328V174.5H327ZM328 173.7H329V174.5H328ZM329 173.2H330V174.5H329ZM330 173.4H331V174.5H330ZM331 173.6H332V174.5H331ZM332 173.6H333V174.5H332ZM333 173.6H334V174.5H333ZM334 173.6H335V174.5H334ZM335 173.3H336V174.5H335ZM336 173.5H337V174.5H336ZM337 173.6H338V174.5H337ZM338 173.2H339V174.5H338ZM339 173.3H340V174.5H339ZM340 173.6H341V174.5H340ZM341 173.3H342V174.5H341ZM342 173.4H343V174.5H342ZM343 173.3H344V174.5H343ZM344 173.4H345V174.5H344ZM345 173.3H346V174.5H345ZM346 173.3H347V174.5H346ZM347 173.3H348V174.5H347ZM348 173.6H349V174.5H348ZM349 173.4H350V174.5H349ZM350 173.4H351V174.5H350ZM351 173.3H352V174.5H351ZM352 173.5H353V174.5H352ZM353 173.3H354V174.5H353ZM354 173.4H355V174.5H354ZM355 173.6H356V174.5H355ZM356 173.6H357V174.5H356ZM357 173.6H358V174.5H357ZM358 173.5H359V174.5H358ZM359 173.7H360V174.5H359ZM360 173.5H361V174.5H360ZM361 173.6H362V174.5H361ZM362 173.5H363V174.5H362ZM363 173.5H364V174.5H363ZM364 173.4H365V174.5H364ZM365 173.3H366V174.5H365ZM366 173.7H367V174.5H366ZM367 173.3H368V174.5H367ZM368 173.5H369V174.5H368ZM369 173.4H370V174.5H369ZM370 173.4H371V174.5H370ZM371 173.3H372V174.5H371ZM372 173.5H373V174.5H372ZM373 173.5H374V174.5H373ZM374 173.2H375V174.5H374ZM375 173.7H376V174.5H375ZM376 173.4H377V174.5H376ZM377 173.4H378V174.5H377ZM378 173.7H379V174.5H378ZM379 173.4H380V174.5H379ZM380 173.4H381V174.5H380ZM381 173.2H382V174.5H381ZM382 173.5H383V174.5H382ZM383 173.2H384V174.5H383ZM384 173.4H385V174.5H384ZM385 173.5H386V174.5H385ZM386 173.3H387V174.5H386ZM387 173.7H388V174.5H387ZM388 173.3H389V174.5H388ZM389 173.4H390V174.5H389ZM390 173.5H391V174.5H390ZM391 173.3H392V174.5H391ZM392 173.5H393V174.5H392ZM393 173.5H394V174.5H393ZM394 173.4H395V174.5H394ZM395 173.3H396V174.5H395ZM396 173.6H397V174.5H396ZM397 173.5H398V174.5H397ZM398 173.5H399V174.5H398ZM399 173.4H400V174.5H399ZM400 173.3H401V174.5H400ZM401 173.6H402V174.5H401ZM402 173.3H403V174.5H402ZM403 173.5H404V174.5H403ZM404 173.4H405V174.5H404ZM405 173.6H406V174.5H405ZM406 173.4H407V174.5H406ZM407 173.2H408V174.5H407ZM408 173.4H409V174.5H408ZM409 173.3H410V174.5H409ZM410 173.5H411V174.5H410ZM411 173.5H412V174.5H411ZM412 173.6H413V174.5H412Z" fill="#911f23"/><path d="M413.80 174.4h1.95V174.5h-1.95Z" fill="#414e87"/><path d="M415.25 174.3h1.95V174.5h-1.95Z" fill="#414e87"/><path d="M416.70 174.1h1.95V174.5h-1.95Z" fill="#3d4a85"/><path d="M418.15 174.0h1.95V174.5h-1.95Z" fill="#3b4883"/><path d="M419.60 173.8h1.95V174.5h-1.95Z" fill="#323f7a"/><path d="M421.05 173.7h1.95V174.5h-1.95Z" fill="#3d4a85"/><path d="M422.50 173.5h1.95V174.5h-1.95Z" fill="#414e87"/><path d="M423.95 173.4h1.95V174.5h-1.95Z" fill="#3b4883"/><path d="M425.40 173.2h1.95V174.5h-1.95Z" fill="#3b4883"/><path d="M426.85 173.1h1.95V174.5h-1.95Z" fill="#3b4883"/><path d="M428.30 172.9h1.95V174.5h-1.95Z" fill="#3b4883"/><path d="M429.75 172.8h1.95V174.5h-1.95Z" fill="#3d4a85"/><path d="M431.20 172.6h1.95V174.5h-1.95Z" fill="#414e87"/><path d="M432.65 172.5h1.95V174.5h-1.95Z" fill="#414e87"/><path d="M434.10 172.3h1.95V174.5h-1.95Z" fill="#3d4a85"/><path d="M435.55 172.2h1.95V174.5h-1.95Z" fill="#3d4a85"/><path d="M437.00 172.1h1.95V174.5h-1.95Z" fill="#414e87"/><path d="M438.45 172.0h1.95V174.5h-1.95Z" fill="#414e87"/><path d="M439.90 171.9h1.95V174.5h-1.95Z" fill="#414e87"/><path d="M441.35 171.8h1.95V174.5h-1.95Z" fill="#323f7a"/><path d="M442.80 171.6h1.95V174.5h-1.95Z" fill="#414e87"/><path d="M444.25 171.5h1.95V174.5h-1.95Z" fill="#323f7a"/><path d="M445.70 171.4h1.95V174.5h-1.95Z" fill="#3b4883"/><path d="M447.15 171.3h1.95V174.5h-1.95Z" fill="#323f7a"/><path d="M448.60 171.2h1.95V174.5h-1.95Z" fill="#36437e"/><path d="M450.05 171.0h1.95V174.5h-1.95Z" fill="#3d4a85"/><path d="M451.50 170.9h1.95V174.5h-1.95Z" fill="#3b4883"/><path d="M452.95 170.8h1.95V174.5h-1.95Z" fill="#3b4883"/><path d="M454.40 170.7h1.95V174.5h-1.95Z" fill="#3b4883"/><path d="M455.85 170.6h1.95V174.5h-1.95Z" fill="#3d4a85"/><path d="M457.30 170.4h1.95V174.5h-1.95Z" fill="#3d4a85"/><path d="M458.75 170.3h1.95V174.5h-1.95Z" fill="#414e87"/><path d="M460.20 170.2h1.95V174.5h-1.95Z" fill="#36437e"/><path d="M461.65 170.1h1.95V174.5h-1.95Z" fill="#3d4a85"/><path d="M463.10 170.0h1.95V174.5h-1.95Z" fill="#3d4a85"/><path d="M464.55 169.8h1.95V174.5h-1.95Z" fill="#414e87"/><path d="M466.00 169.6h1.95V174.5h-1.95Z" fill="#3b4883"/><path d="M467.45 169.4h1.95V174.5h-1.95Z" fill="#3b4883"/><path d="M468.90 169.3h1.95V174.5h-1.95Z" fill="#36437e"/><path d="M470.35 169.1h1.95V174.5h-1.95Z" fill="#3b4883"/><path d="M471.80 168.9h1.95V174.5h-1.95Z" fill="#36437e"/><path d="M473.25 168.8h1.95V174.5h-1.95Z" fill="#414e87"/><path d="M474.70 168.6h1.95V174.5h-1.95Z" fill="#3d4a85"/><path d="M476.15 168.4h1.95V174.5h-1.95Z" fill="#3b4883"/><path d="M477.60 168.3h1.95V174.5h-1.95Z" fill="#414e87"/><path d="M479.05 168.1h1.95V174.5h-1.95Z" fill="#3b4883"/><path d="M480.50 167.9h1.95V174.5h-1.95Z" fill="#3b4883"/><path d="M481.95 167.8h1.95V174.5h-1.95Z" fill="#3d4a85"/><path d="M483.40 167.6h1.95V174.5h-1.95Z" fill="#414e87"/><path d="M484.85 167.4h1.95V174.5h-1.95Z" fill="#3d4a85"/><path d="M486.30 167.2h1.95V174.5h-1.95Z" fill="#36437e"/><path d="M487.75 167.1h1.95V174.5h-1.95Z" fill="#3b4883"/><path d="M489.20 166.9h1.95V174.5h-1.95Z" fill="#36437e"/><path d="M490.65 166.7h1.95V174.5h-1.95Z" fill="#414e87"/><path d="M492.10 166.6h1.95V174.5h-1.95Z" fill="#3d4a85"/><path d="M493.55 166.4h1.95V174.5h-1.95Z" fill="#3d4a85"/><path d="M495.00 166.2h1.95V174.5h-1.95Z" fill="#36437e"/><path d="M496.45 166.0h1.95V174.5h-1.95Z" fill="#36437e"/><path d="M497.90 165.8h1.95V174.5h-1.95Z" fill="#3b4883"/><path d="M499.35 165.6h1.95V174.5h-1.95Z" fill="#414e87"/><path d="M500.80 165.4h1.95V174.5h-1.95Z" fill="#3b4883"/><path d="M502.25 165.2h1.95V174.5h-1.95Z" fill="#3b4883"/><path d="M503.70 165.1h1.95V174.5h-1.95Z" fill="#3b4883"/><path d="M505.15 164.9h1.95V174.5h-1.95Z" fill="#3b4883"/><path d="M506.60 164.7h1.95V174.5h-1.95Z" fill="#323f7a"/><path d="M508.05 164.5h1.95V174.5h-1.95Z" fill="#3b4883"/><path d="M509.50 164.3h1.95V174.5h-1.95Z" fill="#3d4a85"/><path d="M510.95 164.1h1.95V174.5h-1.95Z" fill="#3b4883"/><path d="M512.40 163.9h1.95V174.5h-1.95Z" fill="#3d4a85"/><path d="M513.85 163.7h1.95V174.5h-1.95Z" fill="#3b4883"/><path d="M515.30 163.6h1.95V174.5h-1.95Z" fill="#3b4883"/><path d="M516.75 163.4h1.95V174.5h-1.95Z" fill="#323f7a"/><path d="M518.20 163.2h1.95V174.5h-1.95Z" fill="#3b4883"/><path d="M519.65 163.0h1.95V174.5h-1.95Z" fill="#323f7a"/><path d="M521.10 162.8h1.95V174.5h-1.95Z" fill="#3b4883"/><path d="M522.55 162.6h1.95V174.5h-1.95Z" fill="#3b4883"/><path d="M524.00 162.4h1.95V174.5h-1.95Z" fill="#3d4a85"/><path d="M525.45 162.3h1.95V174.5h-1.95Z" fill="#323f7a"/><path d="M526.90 162.1h1.95V174.5h-1.95Z" fill="#3d4a85"/><path d="M528.35 161.9h1.95V174.5h-1.95Z" fill="#323f7a"/><path d="M529.80 161.8h1.95V174.5h-1.95Z" fill="#3b4883"/><path d="M531.25 161.6h1.95V174.5h-1.95Z" fill="#414e87"/><path d="M532.70 161.4h1.95V174.5h-1.95Z" fill="#323f7a"/><path d="M534.15 161.2h1.95V174.5h-1.95Z" fill="#36437e"/><path d="M535.60 161.1h1.95V174.5h-1.95Z" fill="#3d4a85"/><path d="M537.05 160.9h1.95V174.5h-1.95Z" fill="#3b4883"/><path d="M538.50 160.7h1.95V174.5h-1.95Z" fill="#3d4a85"/><path d="M539.95 160.5h1.95V174.5h-1.95Z" fill="#323f7a"/><path d="M541.40 160.4h1.95V174.5h-1.95Z" fill="#3b4883"/><path d="M542.85 160.2h1.95V174.5h-1.95Z" fill="#3b4883"/><path d="M544.30 160.0h1.95V174.5h-1.95Z" fill="#414e87"/><path d="M545.75 159.8h1.95V174.5h-1.95Z" fill="#3d4a85"/><path d="M547.20 159.7h1.95V174.5h-1.95Z" fill="#3b4883"/><path d="M548.65 159.5h1.95V174.5h-1.95Z" fill="#3b4883"/><path d="M550.10 159.3h1.95V174.5h-1.95Z" fill="#323f7a"/><path d="M551.55 159.1h1.95V174.5h-1.95Z" fill="#3b4883"/><path d="M553.00 158.8h1.95V174.5h-1.95Z" fill="#3d4a85"/><path d="M554.45 158.5h1.95V174.5h-1.95Z" fill="#36437e"/><path d="M555.90 158.3h1.95V174.5h-1.95Z" fill="#3b4883"/><path d="M557.35 158.0h1.95V174.5h-1.95Z" fill="#36437e"/><path d="M558.80 157.8h1.95V174.5h-1.95Z" fill="#414e87"/><path d="M560.25 157.5h1.95V174.5h-1.95Z" fill="#36437e"/><path d="M561.70 157.2h1.95V174.5h-1.95Z" fill="#323f7a"/><path d="M563.15 157.0h1.95V174.5h-1.95Z" fill="#3b4883"/><path d="M564.60 156.7h1.95V174.5h-1.95Z" fill="#3d4a85"/><path d="M566.05 156.4h1.95V174.5h-1.95Z" fill="#36437e"/><path d="M567.50 156.2h1.95V174.5h-1.95Z" fill="#414e87"/><path d="M568.95 155.9h1.95V174.5h-1.95Z" fill="#414e87"/><path d="M570.40 155.6h1.95V174.5h-1.95Z" fill="#36437e"/><path d="M571.85 155.4h1.95V174.5h-1.95Z" fill="#36437e"/><path d="M573.30 155.1h1.95V174.5h-1.95Z" fill="#3d4a85"/><path d="M574.75 154.9h1.95V174.5h-1.95Z" fill="#3d4a85"/><path d="M576.20 154.6h1.95V174.5h-1.95Z" fill="#3d4a85"/><path d="M577.65 154.3h1.95V174.5h-1.95Z" fill="#414e87"/><path d="M579.10 154.1h1.95V174.5h-1.95Z" fill="#3b4883"/><path d="M580.55 153.7h1.95V174.5h-1.95Z" fill="#3b4883"/><path d="M582.00 153.4h1.95V174.5h-1.95Z" fill="#3d4a85"/><path d="M583.45 153.0h1.95V174.5h-1.95Z" fill="#323f7a"/><path d="M584.90 152.6h1.95V174.5h-1.95Z" fill="#3d4a85"/><path d="M586.35 152.3h1.95V174.5h-1.95Z" fill="#3b4883"/><path d="M587.80 151.9h1.95V174.5h-1.95Z" fill="#414e87"/><path d="M589.25 151.5h1.95V174.5h-1.95Z" fill="#3d4a85"/><path d="M590.70 151.2h1.95V174.5h-1.95Z" fill="#3d4a85"/><path d="M592.15 150.8h1.95V174.5h-1.95Z" fill="#414e87"/><path d="M593.60 150.4h1.95V174.5h-1.95Z" fill="#3b4883"/><path d="M595.05 150.1h1.95V174.5h-1.95Z" fill="#36437e"/><path d="M596.50 149.7h1.95V174.5h-1.95Z" fill="#3d4a85"/><path d="M597.95 149.4h1.95V174.5h-1.95Z" fill="#36437e"/><path d="M599.40 149.1h1.95V174.5h-1.95Z" fill="#323f7a"/><path d="M600.85 148.9h1.95V174.5h-1.95Z" fill="#414e87"/><path d="M602.30 148.6h1.95V174.5h-1.95Z" fill="#3d4a85"/><path d="M603.75 148.3h1.95V174.5h-1.95Z" fill="#3d4a85"/><path d="M605.20 148.0h1.95V174.5h-1.95Z" fill="#3b4883"/><path d="M606.65 147.6h1.95V174.5h-1.95Z" fill="#3b4883"/><path d="M608.10 147.3h1.95V174.5h-1.95Z" fill="#3b4883"/><path d="M609.55 147.0h1.95V174.5h-1.95Z" fill="#36437e"/><path d="M611.00 146.6h1.95V174.5h-1.95Z" fill="#414e87"/><path d="M612.45 146.3h1.95V174.5h-1.95Z" fill="#3d4a85"/><path d="M613.90 145.9h1.95V174.5h-1.95Z" fill="#3d4a85"/><path d="M615.35 145.6h1.95V174.5h-1.95Z" fill="#3b4883"/><path d="M616.80 145.3h1.95V174.5h-1.95Z" fill="#3d4a85"/><path d="M618.25 144.9h1.95V174.5h-1.95Z" fill="#3d4a85"/><path d="M619.70 144.4h1.95V174.5h-1.95Z" fill="#3d4a85"/><path d="M621.15 144.0h1.95V174.5h-1.95Z" fill="#414e87"/><path d="M622.60 143.5h1.95V174.5h-1.95Z" fill="#3b4883"/><path d="M624.05 143.1h1.95V174.5h-1.95Z" fill="#3d4a85"/><path d="M625.50 142.7h1.95V174.5h-1.95Z" fill="#3d4a85"/><path d="M626.95 142.2h1.95V174.5h-1.95Z" fill="#323f7a"/><path d="M628.40 141.8h1.95V174.5h-1.95Z" fill="#3d4a85"/><path d="M629.85 141.4h1.95V174.5h-1.95Z" fill="#36437e"/><path d="M631.30 141.0h1.95V174.5h-1.95Z" fill="#3b4883"/><path d="M632.75 140.7h1.95V174.5h-1.95Z" fill="#414e87"/><path d="M634.20 140.4h1.95V174.5h-1.95Z" fill="#3d4a85"/><path d="M635.65 140.0h1.95V174.5h-1.95Z" fill="#3b4883"/><path d="M637.10 139.7h1.95V174.5h-1.95Z" fill="#3d4a85"/><path d="M638.55 139.4h1.95V174.5h-1.95Z" fill="#3d4a85"/><path d="M640.00 138.9h1.95V174.5h-1.95Z" fill="#3b4883"/><path d="M641.45 138.4h1.95V174.5h-1.95Z" fill="#414e87"/><path d="M642.90 137.9h1.95V174.5h-1.95Z" fill="#323f7a"/><path d="M644.35 137.4h1.95V174.5h-1.95Z" fill="#36437e"/><path d="M645.80 136.8h1.95V174.5h-1.95Z" fill="#3b4883"/><path d="M647.25 136.3h1.95V174.5h-1.95Z" fill="#3b4883"/><path d="M648.70 135.7h1.95V174.5h-1.95Z" fill="#3d4a85"/><path d="M650.15 135.1h1.95V174.5h-1.95Z" fill="#3d4a85"/><path d="M651.60 134.1h1.95V174.5h-1.95Z" fill="#36437e"/><path d="M653.05 133.0h1.95V174.5h-1.95Z" fill="#3b4883"/><path d="M654.50 128.6h1.95V174.5h-1.95Z" fill="#3d4a85"/><path d="M655.95 125.8h1.95V174.5h-1.95Z" fill="#3d4a85"/><path d="M657.40 125.0h1.95V174.5h-1.95Z" fill="#3b4883"/><path d="M658.85 124.1h1.95V174.5h-1.95Z" fill="#414e87"/><path d="M660.30 123.3h1.95V174.5h-1.95Z" fill="#3d4a85"/><path d="M661.75 121.6h1.95V174.5h-1.95Z" fill="#3d4a85"/><path d="M663.20 118.3h1.95V174.5h-1.95Z" fill="#414e87"/><path d="M664.65 112.5h1.95V174.5h-1.95Z" fill="#36437e"/><path d="M666.10 111.0h1.95V174.5h-1.95Z" fill="#414e87"/><path d="M667.55 108.0h1.95V174.5h-1.95Z" fill="#3b4883"/><path d="M669.00 105.3h1.95V174.5h-1.95Z" fill="#3b4883"/><path d="M670.45 103.8h1.95V174.5h-1.95Z" fill="#3b4883"/><path d="M671.90 101.7h1.95V174.5h-1.95Z" fill="#323f7a"/><path d="M673.35 99.0h1.95V174.5h-1.95Z" fill="#36437e"/><path d="M674.80 94.9h1.95V174.5h-1.95Z" fill="#414e87"/><path d="M676.25 90.3h1.95V174.5h-1.95Z" fill="#36437e"/><path d="M677.70 78.9h1.95V174.5h-1.95Z" fill="#414e87"/><path d="M679.15 59.8h1.95V174.5h-1.95Z" fill="#3b4883"/><path d="M680.60 36.4h1.95V174.5h-1.95Z" fill="#3b4883"/><path d="M682.05 23.1h1.95V174.5h-1.95Z" fill="#3d4a85"/><path d="M683.50 8.4h1.50V174.5h-1.50Z" fill="#36437e"/><path d="M684.95 8.0h0.05V174.5h-0.05Z" fill="#3b4883"/><line x1="53.7" y1="46.2" x2="53.7" y2="174.5" stroke="#b4b4b4" stroke-width="0.9"/><line x1="50.8" y1="46.2" x2="53.7" y2="46.2" stroke="#9a9a9a" stroke-width="0.8"/><line x1="50.8" y1="110.35" x2="53.7" y2="110.35" stroke="#9a9a9a" stroke-width="0.8"/><line x1="50.8" y1="174.5" x2="53.7" y2="174.5" stroke="#9a9a9a" stroke-width="0.8"/><g font-family='"Liberation Sans", sans-serif' font-size="9.4" fill="#333" text-anchor="end"><text x="46.9" y="49.6">1,000</text><text x="46.9" y="113.8">500</text><text x="46.9" y="177.9">0</text></g><text transform="translate(21.4,110.6) rotate(-90)" font-family='"Liberation Sans", sans-serif' font-size="9.9" fill="#333" text-anchor="middle">No. of mutations</text><rect x="54" y="197.0" width="631" height="165.6" fill="#3d4b83"/><path d="M56.90 197.0h1.01V362.6h-1.01ZM62.70 197.0h1.01V362.6h-1.01ZM64.15 197.0h1.01V362.6h-1.01ZM83.00 197.0h1.01V362.6h-1.01ZM84.45 197.0h1.01V362.6h-1.01ZM85.90 197.0h1.01V362.6h-1.01ZM87.35 197.0h1.01V362.6h-1.01ZM88.80 197.0h1.01V362.6h-1.01ZM97.50 197.0h1.01V362.6h-1.01ZM101.85 197.0h1.01V362.6h-1.01ZM114.90 197.0h1.01V362.6h-1.01ZM120.70 197.0h1.01V362.6h-1.01ZM129.40 197.0h1.01V362.6h-1.01ZM136.65 197.0h1.01V362.6h-1.01ZM138.10 197.0h1.01V362.6h-1.01ZM148.25 197.0h1.01V362.6h-1.01ZM152.60 197.0h1.01V362.6h-1.01ZM155.50 197.0h1.01V362.6h-1.01ZM158.40 197.0h1.01V362.6h-1.01ZM161.30 197.0h1.01V362.6h-1.01ZM164.20 197.0h1.01V362.6h-1.01ZM165.65 197.0h1.01V362.6h-1.01ZM174.35 197.0h1.01V362.6h-1.01ZM177.25 197.0h1.01V362.6h-1.01ZM190.30 197.0h1.01V362.6h-1.01ZM193.20 197.0h1.01V362.6h-1.01ZM197.55 197.0h1.01V362.6h-1.01ZM203.35 197.0h1.01V362.6h-1.01ZM209.15 197.0h1.01V362.6h-1.01ZM214.95 197.0h1.01V362.6h-1.01ZM217.85 197.0h1.01V362.6h-1.01ZM222.20 197.0h1.01V362.6h-1.01ZM228.00 197.0h1.01V362.6h-1.01ZM235.25 197.0h1.01V362.6h-1.01ZM239.60 197.0h1.01V362.6h-1.01ZM245.40 197.0h1.01V362.6h-1.01ZM249.75 197.0h1.01V362.6h-1.01ZM251.20 197.0h1.01V362.6h-1.01ZM255.55 197.0h1.01V362.6h-1.01ZM259.90 197.0h1.01V362.6h-1.01ZM262.80 197.0h1.01V362.6h-1.01ZM264.25 197.0h1.01V362.6h-1.01ZM268.60 197.0h1.01V362.6h-1.01ZM270.05 197.0h1.01V362.6h-1.01ZM271.50 197.0h1.01V362.6h-1.01ZM277.30 197.0h1.01V362.6h-1.01ZM284.55 197.0h1.01V362.6h-1.01ZM286.00 197.0h1.01V362.6h-1.01ZM291.80 197.0h1.01V362.6h-1.01ZM300.50 197.0h1.01V362.6h-1.01ZM307.75 197.0h1.01V362.6h-1.01ZM312.10 197.0h1.01V362.6h-1.01ZM316.45 197.0h1.01V362.6h-1.01ZM322.25 197.0h1.01V362.6h-1.01ZM333.85 197.0h1.01V362.6h-1.01ZM344.00 197.0h1.01V362.6h-1.01ZM348.35 197.0h1.01V362.6h-1.01ZM349.80 197.0h1.01V362.6h-1.01ZM354.15 197.0h1.01V362.6h-1.01ZM355.60 197.0h1.01V362.6h-1.01ZM358.50 197.0h1.01V362.6h-1.01ZM359.95 197.0h1.01V362.6h-1.01ZM367.20 197.0h1.01V362.6h-1.01ZM371.55 197.0h1.01V362.6h-1.01ZM373.00 197.0h1.01V362.6h-1.01ZM378.80 197.0h1.01V362.6h-1.01ZM381.70 197.0h1.01V362.6h-1.01ZM386.05 197.0h1.01V362.6h-1.01ZM390.40 197.0h1.01V362.6h-1.01ZM417.95 197.0h1.01V362.6h-1.01ZM431.00 197.0h1.01V362.6h-1.01ZM435.35 197.0h1.01V362.6h-1.01ZM436.80 197.0h1.01V362.6h-1.01ZM448.40 197.0h1.01V362.6h-1.01ZM470.15 197.0h1.01V362.6h-1.01ZM480.30 197.0h1.01V362.6h-1.01ZM481.75 197.0h1.01V362.6h-1.01ZM483.20 197.0h1.01V362.6h-1.01ZM490.45 197.0h1.01V362.6h-1.01ZM499.15 197.0h1.01V362.6h-1.01ZM516.55 197.0h1.01V362.6h-1.01ZM531.05 197.0h1.01V362.6h-1.01ZM532.50 197.0h1.01V362.6h-1.01ZM536.85 197.0h1.01V362.6h-1.01ZM542.65 197.0h1.01V362.6h-1.01ZM548.45 197.0h1.01V362.6h-1.01ZM570.20 197.0h1.01V362.6h-1.01ZM573.10 197.0h1.01V362.6h-1.01ZM606.45 197.0h1.01V362.6h-1.01ZM609.35 197.0h1.01V362.6h-1.01ZM613.70 197.0h1.01V362.6h-1.01ZM622.40 197.0h1.01V362.6h-1.01ZM626.75 197.0h1.01V362.6h-1.01ZM628.20 197.0h1.01V362.6h-1.01ZM652.85 197.0h1.01V362.6h-1.01ZM673.15 197.0h1.01V362.6h-1.01ZM680.40 197.0h1.01V362.6h-1.01Z" fill="#303e79"/><path d="M59.80 197.0h1.01V362.6h-1.01ZM71.40 197.0h1.01V362.6h-1.01ZM74.30 197.0h1.01V362.6h-1.01ZM81.55 197.0h1.01V362.6h-1.01ZM100.40 197.0h1.01V362.6h-1.01ZM104.75 197.0h1.01V362.6h-1.01ZM112.00 197.0h1.01V362.6h-1.01ZM113.45 197.0h1.01V362.6h-1.01ZM119.25 197.0h1.01V362.6h-1.01ZM122.15 197.0h1.01V362.6h-1.01ZM123.60 197.0h1.01V362.6h-1.01ZM143.90 197.0h1.01V362.6h-1.01ZM149.70 197.0h1.01V362.6h-1.01ZM151.15 197.0h1.01V362.6h-1.01ZM156.95 197.0h1.01V362.6h-1.01ZM168.55 197.0h1.01V362.6h-1.01ZM175.80 197.0h1.01V362.6h-1.01ZM184.50 197.0h1.01V362.6h-1.01ZM191.75 197.0h1.01V362.6h-1.01ZM200.45 197.0h1.01V362.6h-1.01ZM201.90 197.0h1.01V362.6h-1.01ZM204.80 197.0h1.01V362.6h-1.01ZM207.70 197.0h1.01V362.6h-1.01ZM212.05 197.0h1.01V362.6h-1.01ZM225.10 197.0h1.01V362.6h-1.01ZM226.55 197.0h1.01V362.6h-1.01ZM229.45 197.0h1.01V362.6h-1.01ZM236.70 197.0h1.01V362.6h-1.01ZM242.50 197.0h1.01V362.6h-1.01ZM248.30 197.0h1.01V362.6h-1.01ZM257.00 197.0h1.01V362.6h-1.01ZM275.85 197.0h1.01V362.6h-1.01ZM288.90 197.0h1.01V362.6h-1.01ZM294.70 197.0h1.01V362.6h-1.01ZM306.30 197.0h1.01V362.6h-1.01ZM310.65 197.0h1.01V362.6h-1.01ZM313.55 197.0h1.01V362.6h-1.01ZM319.35 197.0h1.01V362.6h-1.01ZM328.05 197.0h1.01V362.6h-1.01ZM330.95 197.0h1.01V362.6h-1.01ZM346.90 197.0h1.01V362.6h-1.01ZM351.25 197.0h1.01V362.6h-1.01ZM377.35 197.0h1.01V362.6h-1.01ZM380.25 197.0h1.01V362.6h-1.01ZM394.75 197.0h1.01V362.6h-1.01ZM396.20 197.0h1.01V362.6h-1.01ZM400.55 197.0h1.01V362.6h-1.01ZM404.90 197.0h1.01V362.6h-1.01ZM406.35 197.0h1.01V362.6h-1.01ZM407.80 197.0h1.01V362.6h-1.01ZM409.25 197.0h1.01V362.6h-1.01ZM423.75 197.0h1.01V362.6h-1.01ZM425.20 197.0h1.01V362.6h-1.01ZM428.10 197.0h1.01V362.6h-1.01ZM432.45 197.0h1.01V362.6h-1.01ZM451.30 197.0h1.01V362.6h-1.01ZM454.20 197.0h1.01V362.6h-1.01ZM460.00 197.0h1.01V362.6h-1.01ZM462.90 197.0h1.01V362.6h-1.01ZM465.80 197.0h1.01V362.6h-1.01ZM467.25 197.0h1.01V362.6h-1.01ZM475.95 197.0h1.01V362.6h-1.01ZM484.65 197.0h1.01V362.6h-1.01ZM486.10 197.0h1.01V362.6h-1.01ZM487.55 197.0h1.01V362.6h-1.01ZM489.00 197.0h1.01V362.6h-1.01ZM507.85 197.0h1.01V362.6h-1.01ZM509.30 197.0h1.01V362.6h-1.01ZM510.75 197.0h1.01V362.6h-1.01ZM513.65 197.0h1.01V362.6h-1.01ZM518.00 197.0h1.01V362.6h-1.01ZM520.90 197.0h1.01V362.6h-1.01ZM525.25 197.0h1.01V362.6h-1.01ZM528.15 197.0h1.01V362.6h-1.01ZM535.40 197.0h1.01V362.6h-1.01ZM538.30 197.0h1.01V362.6h-1.01ZM539.75 197.0h1.01V362.6h-1.01ZM544.10 197.0h1.01V362.6h-1.01ZM549.90 197.0h1.01V362.6h-1.01ZM551.35 197.0h1.01V362.6h-1.01ZM581.80 197.0h1.01V362.6h-1.01ZM587.60 197.0h1.01V362.6h-1.01ZM593.40 197.0h1.01V362.6h-1.01ZM594.85 197.0h1.01V362.6h-1.01ZM597.75 197.0h1.01V362.6h-1.01ZM599.20 197.0h1.01V362.6h-1.01ZM605.00 197.0h1.01V362.6h-1.01ZM607.90 197.0h1.01V362.6h-1.01ZM616.60 197.0h1.01V362.6h-1.01ZM623.85 197.0h1.01V362.6h-1.01ZM642.70 197.0h1.01V362.6h-1.01ZM644.15 197.0h1.01V362.6h-1.01ZM647.05 197.0h1.01V362.6h-1.01ZM654.30 197.0h1.01V362.6h-1.01ZM655.75 197.0h1.01V362.6h-1.01ZM664.45 197.0h1.01V362.6h-1.01ZM668.80 197.0h1.01V362.6h-1.01ZM674.60 197.0h1.01V362.6h-1.01Z" fill="#47558b"/><rect x="54.00" y="253.4" width="1.95" height="109.2" fill="#8e1d21"/><rect x="55.45" y="256.8" width="1.95" height="105.8" fill="#8e1d21"/><rect x="56.90" y="260.6" width="1.95" height="102.1" fill="#8a1b1f"/><rect x="58.35" y="283.3" width="1.95" height="79.3" fill="#911f23"/><rect x="59.80" y="287.2" width="1.95" height="75.4" fill="#911f23"/><rect x="61.25" y="291.5" width="1.95" height="71.1" fill="#8a1b1f"/><rect x="62.70" y="295.9" width="1.95" height="66.7" fill="#8a1b1f"/><rect x="64.15" y="301.0" width="1.95" height="61.6" fill="#911f23"/><rect x="65.60" y="309.0" width="1.95" height="53.6" fill="#911f23"/><rect x="67.05" y="313.2" width="1.95" height="49.4" fill="#962528"/><rect x="68.50" y="314.5" width="1.95" height="48.1" fill="#962528"/><rect x="69.95" y="315.7" width="1.95" height="46.9" fill="#911f23"/><rect x="71.40" y="317.0" width="1.95" height="45.6" fill="#8e1d21"/><rect x="72.85" y="318.2" width="1.95" height="44.4" fill="#962528"/><rect x="74.30" y="319.4" width="1.95" height="43.2" fill="#911f23"/><rect x="75.75" y="320.6" width="1.95" height="42.0" fill="#8a1b1f"/><rect x="77.20" y="321.8" width="1.95" height="40.8" fill="#8e1d21"/><rect x="78.65" y="323.0" width="1.95" height="39.6" fill="#911f23"/><rect x="80.10" y="324.2" width="1.95" height="38.4" fill="#962528"/><rect x="81.55" y="325.4" width="1.95" height="37.2" fill="#911f23"/><rect x="83.00" y="326.7" width="1.95" height="35.9" fill="#911f23"/><rect x="84.45" y="327.9" width="1.95" height="34.7" fill="#8e1d21"/><rect x="85.90" y="328.9" width="1.95" height="33.7" fill="#962528"/><rect x="87.35" y="329.8" width="1.95" height="32.8" fill="#962528"/><rect x="88.80" y="330.7" width="1.95" height="31.9" fill="#911f23"/><rect x="90.25" y="331.6" width="1.95" height="31.0" fill="#8a1b1f"/><rect x="91.70" y="332.5" width="1.95" height="30.1" fill="#962528"/><rect x="93.15" y="333.4" width="1.95" height="29.2" fill="#911f23"/><rect x="94.60" y="334.3" width="1.95" height="28.3" fill="#962528"/><rect x="96.05" y="335.2" width="1.95" height="27.4" fill="#8a1b1f"/><rect x="97.50" y="336.2" width="1.95" height="26.4" fill="#8e1d21"/><rect x="98.95" y="337.1" width="1.95" height="25.5" fill="#962528"/><rect x="100.40" y="338.0" width="1.95" height="24.6" fill="#8a1b1f"/><rect x="101.85" y="338.9" width="1.95" height="23.7" fill="#911f23"/><rect x="103.30" y="339.9" width="1.95" height="22.7" fill="#911f23"/><rect x="104.75" y="341.4" width="1.95" height="21.2" fill="#8e1d21"/><rect x="106.20" y="342.8" width="1.95" height="19.8" fill="#911f23"/><rect x="107.65" y="343.4" width="1.95" height="19.2" fill="#911f23"/><rect x="109.10" y="343.9" width="1.95" height="18.7" fill="#911f23"/><rect x="110.55" y="344.4" width="1.95" height="18.2" fill="#8a1b1f"/><rect x="112.00" y="344.8" width="1.95" height="17.8" fill="#8e1d21"/><rect x="113.45" y="345.3" width="1.95" height="17.3" fill="#962528"/><rect x="114.90" y="345.8" width="1.95" height="16.8" fill="#8e1d21"/><rect x="116.35" y="346.3" width="1.95" height="16.3" fill="#911f23"/><rect x="117.80" y="346.6" width="1.95" height="16.0" fill="#911f23"/><rect x="119.25" y="347.0" width="1.95" height="15.6" fill="#8e1d21"/><rect x="120.70" y="347.4" width="1.95" height="15.2" fill="#911f23"/><rect x="122.15" y="347.8" width="1.95" height="14.8" fill="#962528"/><rect x="123.60" y="348.2" width="1.95" height="14.4" fill="#911f23"/><rect x="125.05" y="348.5" width="1.95" height="14.1" fill="#911f23"/><rect x="126.50" y="348.9" width="1.95" height="13.7" fill="#911f23"/><rect x="127.95" y="349.3" width="1.95" height="13.3" fill="#911f23"/><rect x="129.40" y="349.5" width="1.95" height="13.1" fill="#8e1d21"/><rect x="130.85" y="349.7" width="1.95" height="12.9" fill="#962528"/><rect x="132.30" y="349.9" width="1.95" height="12.7" fill="#911f23"/><rect x="133.75" y="350.1" width="1.95" height="12.5" fill="#8a1b1f"/><rect x="135.20" y="350.3" width="1.95" height="12.3" fill="#8a1b1f"/><rect x="136.65" y="350.5" width="1.95" height="12.1" fill="#911f23"/><rect x="138.10" y="350.7" width="1.95" height="11.9" fill="#8e1d21"/><rect x="139.55" y="350.9" width="1.95" height="11.7" fill="#962528"/><rect x="141.00" y="351.1" width="1.95" height="11.5" fill="#8e1d21"/><rect x="142.45" y="351.3" width="1.95" height="11.3" fill="#8a1b1f"/><rect x="143.90" y="351.5" width="1.95" height="11.1" fill="#962528"/><rect x="145.35" y="351.7" width="1.95" height="10.9" fill="#911f23"/><rect x="146.80" y="351.9" width="1.95" height="10.7" fill="#911f23"/><rect x="148.25" y="352.1" width="1.95" height="10.5" fill="#8e1d21"/><rect x="149.70" y="352.3" width="1.95" height="10.3" fill="#8e1d21"/><rect x="151.15" y="352.5" width="1.95" height="10.1" fill="#911f23"/><rect x="152.60" y="352.7" width="1.95" height="9.9" fill="#8e1d21"/><rect x="154.05" y="353.0" width="1.95" height="9.6" fill="#8e1d21"/><rect x="155.50" y="353.2" width="1.95" height="9.4" fill="#911f23"/><rect x="156.95" y="353.4" width="1.95" height="9.2" fill="#962528"/><rect x="158.40" y="353.7" width="1.95" height="8.9" fill="#8e1d21"/><rect x="159.85" y="353.9" width="1.95" height="8.7" fill="#8a1b1f"/><rect x="161.30" y="354.1" width="1.95" height="8.5" fill="#8e1d21"/><rect x="162.75" y="354.3" width="1.95" height="8.3" fill="#911f23"/><rect x="164.20" y="354.4" width="1.95" height="8.2" fill="#8a1b1f"/><rect x="165.65" y="354.5" width="1.95" height="8.1" fill="#962528"/><rect x="167.10" y="354.7" width="1.95" height="7.9" fill="#911f23"/><rect x="168.55" y="354.8" width="1.95" height="7.8" fill="#911f23"/><rect x="170.00" y="355.0" width="1.95" height="7.6" fill="#8e1d21"/><rect x="171.45" y="355.1" width="1.95" height="7.5" fill="#8a1b1f"/><rect x="172.90" y="355.2" width="1.95" height="7.4" fill="#8e1d21"/><rect x="174.35" y="355.3" width="1.95" height="7.3" fill="#911f23"/><rect x="175.80" y="355.4" width="1.95" height="7.2" fill="#911f23"/><rect x="177.25" y="355.5" width="1.95" height="7.1" fill="#911f23"/><rect x="178.70" y="355.6" width="1.95" height="7.0" fill="#911f23"/><rect x="180.15" y="355.7" width="1.95" height="6.9" fill="#8e1d21"/><rect x="181.60" y="355.8" width="1.95" height="6.8" fill="#911f23"/><rect x="183.05" y="355.9" width="1.95" height="6.7" fill="#962528"/><rect x="184.50" y="356.0" width="1.95" height="6.6" fill="#911f23"/><rect x="185.95" y="356.0" width="1.95" height="6.6" fill="#8a1b1f"/><rect x="187.40" y="356.1" width="1.95" height="6.5" fill="#8a1b1f"/><rect x="188.85" y="356.2" width="1.95" height="6.4" fill="#8a1b1f"/><rect x="190.30" y="356.3" width="1.95" height="6.3" fill="#911f23"/><rect x="191.75" y="356.4" width="1.95" height="6.2" fill="#911f23"/><rect x="193.20" y="356.5" width="1.95" height="6.1" fill="#8e1d21"/><rect x="194.65" y="356.5" width="1.95" height="6.1" fill="#911f23"/><rect x="196.10" y="356.6" width="1.95" height="6.0" fill="#911f23"/><rect x="197.55" y="356.7" width="1.95" height="5.9" fill="#911f23"/><rect x="199.00" y="356.8" width="1.95" height="5.8" fill="#911f23"/><rect x="200.45" y="356.9" width="1.95" height="5.7" fill="#911f23"/><rect x="201.90" y="356.9" width="1.95" height="5.7" fill="#911f23"/><rect x="203.35" y="357.0" width="1.95" height="5.6" fill="#962528"/><rect x="204.80" y="357.1" width="1.95" height="5.5" fill="#911f23"/><rect x="206.25" y="357.1" width="1.95" height="5.5" fill="#911f23"/><rect x="207.70" y="357.2" width="1.95" height="5.4" fill="#962528"/><rect x="209.15" y="357.3" width="1.95" height="5.3" fill="#911f23"/><rect x="210.60" y="357.3" width="1.95" height="5.3" fill="#911f23"/><rect x="212.05" y="357.4" width="1.95" height="5.2" fill="#8e1d21"/><rect x="213.50" y="357.5" width="1.95" height="5.1" fill="#911f23"/><rect x="214.95" y="357.6" width="1.95" height="5.0" fill="#8a1b1f"/><rect x="216.40" y="357.6" width="1.95" height="5.0" fill="#8e1d21"/><rect x="217.85" y="357.7" width="1.95" height="4.9" fill="#8e1d21"/><rect x="219.30" y="357.8" width="1.95" height="4.8" fill="#911f23"/><rect x="220.75" y="357.8" width="1.95" height="4.8" fill="#911f23"/><rect x="222.20" y="357.9" width="1.95" height="4.7" fill="#962528"/><rect x="223.65" y="358.0" width="1.95" height="4.6" fill="#8a1b1f"/><rect x="225.10" y="358.0" width="1.95" height="4.6" fill="#8e1d21"/><rect x="226.55" y="358.1" width="1.95" height="4.5" fill="#911f23"/><rect x="228.00" y="358.2" width="1.95" height="4.4" fill="#8e1d21"/><rect x="229.45" y="358.2" width="1.95" height="4.4" fill="#8a1b1f"/><rect x="230.90" y="358.3" width="1.95" height="4.3" fill="#911f23"/><rect x="232.35" y="358.4" width="1.95" height="4.2" fill="#8a1b1f"/><rect x="233.80" y="358.5" width="1.95" height="4.1" fill="#911f23"/><rect x="235.25" y="358.5" width="1.95" height="4.1" fill="#962528"/><rect x="236.70" y="358.6" width="1.95" height="4.0" fill="#911f23"/><rect x="238.15" y="358.7" width="1.95" height="3.9" fill="#8e1d21"/><rect x="239.60" y="358.7" width="1.95" height="3.9" fill="#962528"/><rect x="241.05" y="358.8" width="1.95" height="3.8" fill="#8a1b1f"/><rect x="242.50" y="358.9" width="1.95" height="3.7" fill="#911f23"/><rect x="243.95" y="358.9" width="1.95" height="3.7" fill="#962528"/><rect x="245.40" y="359.0" width="1.95" height="3.6" fill="#911f23"/><rect x="246.85" y="359.1" width="1.95" height="3.5" fill="#8e1d21"/><rect x="248.30" y="359.2" width="1.95" height="3.4" fill="#911f23"/><rect x="249.75" y="359.2" width="1.95" height="3.4" fill="#8a1b1f"/><rect x="251.20" y="359.3" width="1.95" height="3.3" fill="#8a1b1f"/><rect x="252.65" y="359.3" width="1.95" height="3.3" fill="#911f23"/><rect x="254.10" y="359.3" width="1.95" height="3.3" fill="#8e1d21"/><rect x="255.55" y="359.4" width="1.95" height="3.2" fill="#8a1b1f"/><rect x="257.00" y="359.4" width="1.95" height="3.2" fill="#962528"/><rect x="258.45" y="359.5" width="1.95" height="3.1" fill="#962528"/><rect x="259.90" y="359.5" width="1.95" height="3.1" fill="#911f23"/><rect x="261.35" y="359.6" width="1.95" height="3.0" fill="#8a1b1f"/><rect x="262.80" y="359.6" width="1.95" height="3.0" fill="#911f23"/><rect x="264.25" y="359.6" width="1.95" height="3.0" fill="#911f23"/><rect x="265.70" y="359.7" width="1.95" height="2.9" fill="#8e1d21"/><rect x="267.15" y="359.7" width="1.95" height="2.9" fill="#911f23"/><rect x="268.60" y="359.8" width="1.95" height="2.8" fill="#962528"/><rect x="270.05" y="359.8" width="1.95" height="2.8" fill="#911f23"/><rect x="271.50" y="359.9" width="1.95" height="2.7" fill="#962528"/><rect x="272.95" y="359.9" width="1.95" height="2.7" fill="#911f23"/><rect x="274.40" y="360.0" width="1.95" height="2.6" fill="#8a1b1f"/><rect x="275.85" y="360.0" width="1.95" height="2.6" fill="#911f23"/><rect x="277.30" y="360.0" width="1.95" height="2.6" fill="#911f23"/><rect x="278.75" y="360.1" width="1.95" height="2.5" fill="#911f23"/><rect x="280.20" y="360.1" width="1.95" height="2.5" fill="#911f23"/><rect x="281.65" y="360.2" width="1.95" height="2.4" fill="#911f23"/><rect x="283.10" y="360.2" width="1.95" height="2.4" fill="#962528"/><rect x="284.55" y="360.3" width="1.95" height="2.3" fill="#911f23"/><rect x="286.00" y="360.3" width="1.95" height="2.3" fill="#8a1b1f"/><rect x="287.45" y="360.3" width="1.95" height="2.3" fill="#8e1d21"/><rect x="288.90" y="360.4" width="1.95" height="2.2" fill="#8e1d21"/><rect x="290.35" y="360.4" width="1.95" height="2.2" fill="#8e1d21"/><rect x="291.80" y="360.5" width="1.95" height="2.1" fill="#8e1d21"/><rect x="293.25" y="360.5" width="1.95" height="2.1" fill="#911f23"/><rect x="294.70" y="360.6" width="1.95" height="2.0" fill="#911f23"/><rect x="296.15" y="360.6" width="1.95" height="2.0" fill="#911f23"/><rect x="297.60" y="360.6" width="1.95" height="2.0" fill="#962528"/><rect x="299.05" y="360.7" width="1.95" height="1.9" fill="#962528"/><rect x="300.50" y="360.7" width="1.95" height="1.9" fill="#911f23"/><rect x="301.95" y="360.7" width="1.95" height="1.9" fill="#8a1b1f"/><rect x="303.40" y="360.8" width="1.95" height="1.8" fill="#962528"/><rect x="304.85" y="360.8" width="1.95" height="1.8" fill="#962528"/><rect x="306.30" y="360.8" width="1.95" height="1.8" fill="#911f23"/><rect x="307.75" y="360.8" width="1.95" height="1.8" fill="#8e1d21"/><rect x="309.20" y="360.9" width="1.95" height="1.7" fill="#911f23"/><rect x="310.65" y="360.9" width="1.95" height="1.7" fill="#962528"/><rect x="312.10" y="360.9" width="1.95" height="1.7" fill="#911f23"/><rect x="313.55" y="360.9" width="1.95" height="1.7" fill="#911f23"/><rect x="315.00" y="361.0" width="1.95" height="1.6" fill="#8e1d21"/><rect x="316.45" y="361.0" width="1.95" height="1.6" fill="#8e1d21"/><rect x="317.90" y="361.0" width="1.95" height="1.6" fill="#962528"/><rect x="319.35" y="361.0" width="1.95" height="1.6" fill="#911f23"/><rect x="320.80" y="361.0" width="1.95" height="1.6" fill="#911f23"/><rect x="322.25" y="361.1" width="1.95" height="1.5" fill="#911f23"/><rect x="323.70" y="361.1" width="1.95" height="1.5" fill="#911f23"/><rect x="325.15" y="361.1" width="1.95" height="1.5" fill="#911f23"/><rect x="326.60" y="361.1" width="1.95" height="1.5" fill="#8a1b1f"/><rect x="328.05" y="361.2" width="1.95" height="1.4" fill="#911f23"/><rect x="329.50" y="361.2" width="1.95" height="1.4" fill="#911f23"/><rect x="330.95" y="361.2" width="1.95" height="1.4" fill="#962528"/><rect x="332.40" y="361.2" width="1.95" height="1.4" fill="#911f23"/><rect x="333.85" y="361.3" width="1.95" height="1.3" fill="#8e1d21"/><rect x="335.30" y="361.3" width="1.95" height="1.3" fill="#962528"/><rect x="336.75" y="361.3" width="1.95" height="1.3" fill="#962528"/><rect x="338.20" y="361.3" width="1.95" height="1.3" fill="#911f23"/><rect x="339.65" y="361.3" width="1.95" height="1.3" fill="#8a1b1f"/><rect x="341.10" y="361.4" width="1.95" height="1.2" fill="#962528"/><rect x="342.55" y="361.4" width="1.95" height="1.2" fill="#911f23"/><rect x="344.00" y="361.4" width="1.95" height="1.2" fill="#911f23"/><rect x="345.45" y="361.4" width="1.95" height="1.2" fill="#8e1d21"/><rect x="346.90" y="361.5" width="1.95" height="1.1" fill="#8e1d21"/><rect x="348.35" y="361.5" width="1.95" height="1.1" fill="#911f23"/><rect x="349.80" y="361.5" width="1.95" height="1.1" fill="#911f23"/><rect x="351.25" y="361.5" width="1.95" height="1.1" fill="#8e1d21"/><rect x="352.70" y="361.6" width="1.95" height="1.0" fill="#962528"/><rect x="354.15" y="361.6" width="1.95" height="1.0" fill="#911f23"/><rect x="355.60" y="361.6" width="1.95" height="1.0" fill="#911f23"/><rect x="357.05" y="361.6" width="1.95" height="1.0" fill="#911f23"/><rect x="358.50" y="361.6" width="1.95" height="1.0" fill="#8e1d21"/><rect x="359.95" y="361.7" width="1.95" height="0.9" fill="#911f23"/><rect x="361.40" y="361.7" width="1.95" height="0.9" fill="#8e1d21"/><rect x="362.85" y="361.7" width="1.95" height="0.9" fill="#8e1d21"/><rect x="364.30" y="361.7" width="1.95" height="0.9" fill="#911f23"/><rect x="365.75" y="361.8" width="1.95" height="0.8" fill="#962528"/><rect x="367.20" y="361.8" width="1.95" height="0.8" fill="#8a1b1f"/><rect x="368.65" y="361.8" width="1.95" height="0.8" fill="#8e1d21"/><rect x="370.10" y="361.8" width="1.95" height="0.8" fill="#8e1d21"/><rect x="371.55" y="361.9" width="1.95" height="0.7" fill="#911f23"/><rect x="373.00" y="361.9" width="1.95" height="0.7" fill="#911f23"/><rect x="374.45" y="361.9" width="1.95" height="0.7" fill="#8e1d21"/><rect x="375.90" y="361.9" width="1.95" height="0.7" fill="#8a1b1f"/><rect x="377.35" y="361.9" width="1.95" height="0.7" fill="#8e1d21"/><rect x="378.80" y="362.0" width="1.95" height="0.6" fill="#962528"/><rect x="380.25" y="362.0" width="1.95" height="0.6" fill="#8e1d21"/><rect x="381.70" y="362.0" width="1.95" height="0.6" fill="#8e1d21"/><rect x="383.15" y="362.0" width="1.95" height="0.6" fill="#962528"/><rect x="384.60" y="362.1" width="1.95" height="0.5" fill="#8a1b1f"/><rect x="386.05" y="362.1" width="1.95" height="0.5" fill="#911f23"/><rect x="387.50" y="362.1" width="1.95" height="0.5" fill="#962528"/><rect x="388.95" y="362.1" width="1.95" height="0.5" fill="#8a1b1f"/><rect x="390.40" y="362.2" width="1.95" height="0.4" fill="#8a1b1f"/><rect x="391.85" y="362.2" width="1.95" height="0.4" fill="#8e1d21"/><rect x="393.30" y="362.2" width="1.95" height="0.4" fill="#911f23"/><rect x="394.75" y="362.2" width="1.95" height="0.4" fill="#8e1d21"/><rect x="396.20" y="362.3" width="1.95" height="0.3" fill="#911f23"/><rect x="397.65" y="362.3" width="1.95" height="0.3" fill="#962528"/><rect x="399.10" y="362.3" width="1.95" height="0.3" fill="#8e1d21"/><rect x="400.55" y="362.3" width="1.95" height="0.3" fill="#911f23"/><rect x="402.00" y="362.3" width="1.95" height="0.3" fill="#962528"/><rect x="403.45" y="362.4" width="1.95" height="0.2" fill="#8e1d21"/><rect x="404.90" y="362.4" width="1.95" height="0.2" fill="#962528"/><line x1="50.8" y1="197.0" x2="54" y2="197.0" stroke="#9a9a9a" stroke-width="0.8"/><text x="47" y="200.4" font-family='"Liberation Sans", sans-serif' font-size="9.4" fill="#333" text-anchor="end">1.00</text><line x1="50.8" y1="238.4" x2="54" y2="238.4" stroke="#9a9a9a" stroke-width="0.8"/><text x="47" y="241.8" font-family='"Liberation Sans", sans-serif' font-size="9.4" fill="#333" text-anchor="end">0.75</text><line x1="50.8" y1="279.8" x2="54" y2="279.8" stroke="#9a9a9a" stroke-width="0.8"/><text x="47" y="283.2" font-family='"Liberation Sans", sans-serif' font-size="9.4" fill="#333" text-anchor="end">0.50</text><line x1="50.8" y1="321.2" x2="54" y2="321.2" stroke="#9a9a9a" stroke-width="0.8"/><text x="47" y="324.6" font-family='"Liberation Sans", sans-serif' font-size="9.4" fill="#333" text-anchor="end">0.25</text><line x1="50.8" y1="362.6" x2="54" y2="362.6" stroke="#9a9a9a" stroke-width="0.8"/><text x="47" y="366.0" font-family='"Liberation Sans", sans-serif' font-size="9.4" fill="#333" text-anchor="end">0</text><text transform="translate(22.2,280) rotate(-90)" font-family='"Liberation Sans", sans-serif' font-size="10.2" fill="#333" text-anchor="middle">Proportion</text><rect x="54.1" y="183.0" width="625.7" height="1.8" fill="#121212"/><rect x="54.1" y="371.6" width="625.7" height="2" fill="#121212"/><rect x="54.1" y="403.0" width="625.7" height="2" fill="#121212"/><rect x="54.1" y="434.4" width="625.7" height="2" fill="#121212"/><rect x="54.1" y="465.9" width="625.7" height="2" fill="#121212"/><rect x="54.1" y="497.0" width="625.7" height="2" fill="#121212"/><rect x="54" y="378.6" width="631" height="23.2" fill="#3b4c92"/><rect x="53.93" y="378.6" width="1.64" height="23.19999999999999" fill="#9a2326"/><rect x="55.57" y="378.6" width="0.93" height="23.19999999999999" fill="#3d4c88"/><rect x="56.50" y="378.6" width="0.93" height="23.19999999999999" fill="#9a2326"/><rect x="57.44" y="378.6" width="1.17" height="23.19999999999999" fill="#3d4c88"/><rect x="58.61" y="378.6" width="1.17" height="23.19999999999999" fill="#9a2326"/><rect x="59.77" y="378.6" width="1.17" height="23.19999999999999" fill="#3d4c88"/><rect x="60.94" y="378.6" width="2.34" height="23.19999999999999" fill="#9a2326"/><rect x="63.28" y="378.6" width="1.40" height="23.19999999999999" fill="#3d4c88"/><rect x="64.68" y="378.6" width="1.40" height="23.19999999999999" fill="#a3a6aa"/><rect x="66.08" y="378.6" width="0.93" height="23.19999999999999" fill="#6d3a5e"/><rect x="67.01" y="378.6" width="1.17" height="23.19999999999999" fill="#9a2326"/><rect x="68.18" y="378.6" width="1.17" height="23.19999999999999" fill="#c3c6cd"/><rect x="69.35" y="378.6" width="1.75" height="23.19999999999999" fill="#3d4c88"/><rect x="71.10" y="378.6" width="1.17" height="23.19999999999999" fill="#75819f"/><rect x="72.27" y="378.6" width="1.75" height="23.19999999999999" fill="#3d4c88"/><rect x="74.02" y="378.6" width="1.17" height="23.19999999999999" fill="#9a2326"/><rect x="75.19" y="378.6" width="2.92" height="23.19999999999999" fill="#6d3a5e"/><rect x="78.11" y="378.6" width="1.17" height="23.19999999999999" fill="#9a2326"/><rect x="79.28" y="378.6" width="1.75" height="23.19999999999999" fill="#3d4c88"/><rect x="81.03" y="378.6" width="1.75" height="23.19999999999999" fill="#6d3a5e"/><rect x="82.78" y="378.6" width="1.17" height="23.19999999999999" fill="#9a2326"/><rect x="83.95" y="378.6" width="2.34" height="23.19999999999999" fill="#3d4c88"/><rect x="86.28" y="378.6" width="2.92" height="23.19999999999999" fill="#9a2326"/><rect x="89.20" y="378.6" width="7.01" height="23.19999999999999" fill="#3d4c88"/><rect x="96.21" y="378.6" width="1.75" height="23.19999999999999" fill="#c3c6cd"/><rect x="97.96" y="378.6" width="1.17" height="23.19999999999999" fill="#9a2326"/><rect x="99.13" y="378.6" width="1.75" height="23.19999999999999" fill="#6d3a5e"/><rect x="100.88" y="378.6" width="1.17" height="23.19999999999999" fill="#9a2326"/><rect x="102.05" y="378.6" width="1.75" height="23.19999999999999" fill="#c3c6cd"/><rect x="103.80" y="378.6" width="1.75" height="23.19999999999999" fill="#3d4c88"/><rect x="105.55" y="378.6" width="0.93" height="23.19999999999999" fill="#9a2326"/><rect x="106.49" y="378.6" width="1.40" height="23.19999999999999" fill="#3d4c88"/><rect x="107.89" y="378.6" width="1.17" height="23.19999999999999" fill="#bd7673"/><rect x="109.06" y="378.6" width="2.34" height="23.19999999999999" fill="#3d4c88"/><rect x="111.39" y="378.6" width="1.17" height="23.19999999999999" fill="#75819f"/><rect x="112.56" y="378.6" width="1.40" height="23.19999999999999" fill="#9a2326"/><rect x="113.96" y="378.6" width="2.10" height="23.19999999999999" fill="#6d3a5e"/><rect x="116.07" y="378.6" width="1.17" height="23.19999999999999" fill="#3d4c88"/><rect x="117.23" y="378.6" width="1.17" height="23.19999999999999" fill="#a3a6aa"/><rect x="118.40" y="378.6" width="2.34" height="23.19999999999999" fill="#6d3a5e"/><rect x="120.74" y="378.6" width="1.75" height="23.19999999999999" fill="#9a2326"/><rect x="122.49" y="378.6" width="1.17" height="23.19999999999999" fill="#3d4c88"/><rect x="123.66" y="378.6" width="1.17" height="23.19999999999999" fill="#c3c6cd"/><rect x="124.82" y="378.6" width="1.17" height="23.19999999999999" fill="#9a2326"/><rect x="125.99" y="378.6" width="2.69" height="23.19999999999999" fill="#3d4c88"/><rect x="128.68" y="378.6" width="1.40" height="23.19999999999999" fill="#a3a6aa"/><rect x="130.08" y="378.6" width="1.75" height="23.19999999999999" fill="#75819f"/><rect x="131.83" y="378.6" width="1.17" height="23.19999999999999" fill="#3d4c88"/><rect x="133.00" y="378.6" width="1.17" height="23.19999999999999" fill="#6d3a5e"/><rect x="134.17" y="378.6" width="1.17" height="23.19999999999999" fill="#9a2326"/><rect x="135.34" y="378.6" width="3.27" height="23.19999999999999" fill="#3d4c88"/><rect x="138.61" y="378.6" width="1.17" height="23.19999999999999" fill="#bd7673"/><rect x="139.77" y="378.6" width="1.40" height="23.19999999999999" fill="#6d3a5e"/><rect x="141.18" y="378.6" width="1.17" height="23.19999999999999" fill="#9a2326"/><rect x="142.34" y="378.6" width="2.34" height="23.19999999999999" fill="#6d3a5e"/><rect x="144.68" y="378.6" width="1.17" height="23.19999999999999" fill="#bd7673"/><rect x="145.85" y="378.6" width="1.17" height="23.19999999999999" fill="#9a2326"/><rect x="147.01" y="378.6" width="1.75" height="23.19999999999999" fill="#3d4c88"/><rect x="148.77" y="378.6" width="1.75" height="23.19999999999999" fill="#6d3a5e"/><rect x="150.52" y="378.6" width="3.27" height="23.19999999999999" fill="#9a2326"/><rect x="153.79" y="378.6" width="1.17" height="23.19999999999999" fill="#c3c6cd"/><rect x="154.96" y="378.6" width="1.40" height="23.19999999999999" fill="#3d4c88"/><rect x="156.36" y="378.6" width="2.92" height="23.19999999999999" fill="#6d3a5e"/><rect x="159.28" y="378.6" width="1.75" height="23.19999999999999" fill="#9a2326"/><rect x="161.03" y="378.6" width="1.75" height="23.19999999999999" fill="#3d4c88"/><rect x="162.78" y="378.6" width="1.17" height="23.19999999999999" fill="#9a2326"/><rect x="163.95" y="378.6" width="1.75" height="23.19999999999999" fill="#6d3a5e"/><rect x="165.70" y="378.6" width="3.50" height="23.19999999999999" fill="#bd7673"/><rect x="169.20" y="378.6" width="1.17" height="23.19999999999999" fill="#3d4c88"/><rect x="170.37" y="378.6" width="2.92" height="23.19999999999999" fill="#6d3a5e"/><rect x="173.29" y="378.6" width="1.75" height="23.19999999999999" fill="#9a2326"/><rect x="175.04" y="378.6" width="1.75" height="23.19999999999999" fill="#bd7673"/><rect x="176.80" y="378.6" width="1.17" height="23.19999999999999" fill="#6d3a5e"/><rect x="177.96" y="378.6" width="1.17" height="23.19999999999999" fill="#9a2326"/><rect x="179.13" y="378.6" width="1.75" height="23.19999999999999" fill="#3d4c88"/><rect x="180.88" y="378.6" width="1.17" height="23.19999999999999" fill="#bd7673"/><rect x="182.05" y="378.6" width="1.17" height="23.19999999999999" fill="#9a2326"/><rect x="183.22" y="378.6" width="1.75" height="23.19999999999999" fill="#3d4c88"/><rect x="184.97" y="378.6" width="1.17" height="23.19999999999999" fill="#6d3a5e"/><rect x="186.14" y="378.6" width="1.75" height="23.19999999999999" fill="#bd7673"/><rect x="187.89" y="378.6" width="1.17" height="23.19999999999999" fill="#a3a6aa"/><rect x="189.06" y="378.6" width="1.17" height="23.19999999999999" fill="#9a2326"/><rect x="190.23" y="378.6" width="1.17" height="23.19999999999999" fill="#3d4c88"/><rect x="191.39" y="378.6" width="1.17" height="23.19999999999999" fill="#75819f"/><rect x="192.56" y="378.6" width="1.17" height="23.19999999999999" fill="#6d3a5e"/><rect x="193.73" y="378.6" width="1.17" height="23.19999999999999" fill="#3d4c88"/><rect x="194.90" y="378.6" width="1.17" height="23.19999999999999" fill="#75819f"/><rect x="196.07" y="378.6" width="1.17" height="23.19999999999999" fill="#6d3a5e"/><rect x="197.23" y="378.6" width="1.75" height="23.19999999999999" fill="#75819f"/><rect x="198.99" y="378.6" width="2.92" height="23.19999999999999" fill="#9a2326"/><rect x="201.91" y="378.6" width="1.17" height="23.19999999999999" fill="#6d3a5e"/><rect x="203.07" y="378.6" width="1.17" height="23.19999999999999" fill="#75819f"/><rect x="204.24" y="378.6" width="1.17" height="23.19999999999999" fill="#6d3a5e"/><rect x="205.41" y="378.6" width="1.17" height="23.19999999999999" fill="#3d4c88"/><rect x="206.58" y="378.6" width="1.17" height="23.19999999999999" fill="#bd7673"/><rect x="207.74" y="378.6" width="1.17" height="23.19999999999999" fill="#9a2326"/><rect x="208.91" y="378.6" width="1.17" height="23.19999999999999" fill="#c3c6cd"/><rect x="210.08" y="378.6" width="1.40" height="23.19999999999999" fill="#3d4c88"/><rect x="211.48" y="378.6" width="1.52" height="23.19999999999999" fill="#75819f"/><rect x="213.00" y="378.6" width="1.75" height="23.19999999999999" fill="#9a2326"/><rect x="214.75" y="378.6" width="0.82" height="23.19999999999999" fill="#c3c6cd"/><rect x="215.57" y="378.6" width="0.93" height="23.19999999999999" fill="#3d4c88"/><rect x="216.50" y="378.6" width="1.17" height="23.19999999999999" fill="#c3c6cd"/><rect x="217.67" y="378.6" width="1.75" height="23.19999999999999" fill="#9a2326"/><rect x="219.42" y="378.6" width="1.52" height="23.19999999999999" fill="#6d3a5e"/><rect x="220.94" y="378.6" width="1.40" height="23.19999999999999" fill="#3d4c88"/><rect x="222.34" y="378.6" width="1.17" height="23.19999999999999" fill="#9a2326"/><rect x="223.51" y="378.6" width="1.17" height="23.19999999999999" fill="#6d3a5e"/><rect x="224.68" y="378.6" width="1.40" height="23.19999999999999" fill="#bd7673"/><rect x="226.08" y="378.6" width="1.52" height="23.19999999999999" fill="#9a2326"/><rect x="227.60" y="378.6" width="1.75" height="23.19999999999999" fill="#6d3a5e"/><rect x="229.35" y="378.6" width="1.17" height="23.19999999999999" fill="#3d4c88"/><rect x="230.52" y="378.6" width="1.17" height="23.19999999999999" fill="#9a2326"/><rect x="231.69" y="378.6" width="1.40" height="23.19999999999999" fill="#6d3a5e"/><rect x="233.09" y="378.6" width="0.93" height="23.19999999999999" fill="#c3c6cd"/><rect x="234.02" y="378.6" width="1.75" height="23.19999999999999" fill="#9a2326"/><rect x="235.77" y="378.6" width="1.75" height="23.19999999999999" fill="#6d3a5e"/><rect x="237.53" y="378.6" width="1.75" height="23.19999999999999" fill="#9a2326"/><rect x="239.28" y="378.6" width="1.17" height="23.19999999999999" fill="#6d3a5e"/><rect x="240.45" y="378.6" width="1.75" height="23.19999999999999" fill="#75819f"/><rect x="242.20" y="378.6" width="1.40" height="23.19999999999999" fill="#3d4c88"/><rect x="243.60" y="378.6" width="1.52" height="23.19999999999999" fill="#6d3a5e"/><rect x="245.12" y="378.6" width="1.17" height="23.19999999999999" fill="#3d4c88"/><rect x="246.28" y="378.6" width="1.75" height="23.19999999999999" fill="#9a2326"/><rect x="248.04" y="378.6" width="1.75" height="23.19999999999999" fill="#6d3a5e"/><rect x="249.79" y="378.6" width="1.75" height="23.19999999999999" fill="#3d4c88"/><rect x="251.54" y="378.6" width="1.75" height="23.19999999999999" fill="#6d3a5e"/><rect x="253.29" y="378.6" width="1.52" height="23.19999999999999" fill="#3d4c88"/><rect x="254.81" y="378.6" width="1.17" height="23.19999999999999" fill="#75819f"/><rect x="255.98" y="378.6" width="1.40" height="23.19999999999999" fill="#3d4c88"/><rect x="257.38" y="378.6" width="1.75" height="23.19999999999999" fill="#9a2326"/><rect x="259.13" y="378.6" width="1.17" height="23.19999999999999" fill="#3d4c88"/><rect x="260.30" y="378.6" width="1.17" height="23.19999999999999" fill="#bd7673"/><rect x="261.47" y="378.6" width="1.75" height="23.19999999999999" fill="#6d3a5e"/><rect x="263.22" y="378.6" width="1.17" height="23.19999999999999" fill="#75819f"/><rect x="264.39" y="378.6" width="1.17" height="23.19999999999999" fill="#9a2326"/><rect x="265.55" y="378.6" width="1.40" height="23.19999999999999" fill="#3d4c88"/><rect x="266.96" y="378.6" width="0.93" height="23.19999999999999" fill="#c3c6cd"/><rect x="267.89" y="378.6" width="1.17" height="23.19999999999999" fill="#3d4c88"/><rect x="269.06" y="378.6" width="1.75" height="23.19999999999999" fill="#9a2326"/><rect x="270.81" y="378.6" width="0.58" height="23.19999999999999" fill="#c3c6cd"/><rect x="271.39" y="378.6" width="1.40" height="23.19999999999999" fill="#bd7673"/><rect x="272.80" y="378.6" width="0.93" height="23.19999999999999" fill="#9a2326"/><rect x="273.73" y="378.6" width="1.75" height="23.19999999999999" fill="#3d4c88"/><rect x="275.48" y="378.6" width="1.52" height="23.19999999999999" fill="#9a2326"/><rect x="277.00" y="378.6" width="1.40" height="23.19999999999999" fill="#6d3a5e"/><rect x="278.40" y="378.6" width="3.50" height="23.19999999999999" fill="#3d4c88"/><rect x="281.91" y="378.6" width="1.75" height="23.19999999999999" fill="#9a2326"/><rect x="283.66" y="378.6" width="1.17" height="23.19999999999999" fill="#6d3a5e"/><rect x="284.82" y="378.6" width="1.17" height="23.19999999999999" fill="#75819f"/><rect x="285.99" y="378.6" width="1.17" height="23.19999999999999" fill="#9a2326"/><rect x="287.16" y="378.6" width="1.75" height="23.19999999999999" fill="#6d3a5e"/><rect x="288.91" y="378.6" width="1.75" height="23.19999999999999" fill="#3d4c88"/><rect x="290.66" y="378.6" width="2.34" height="23.19999999999999" fill="#6d3a5e"/><rect x="293.00" y="378.6" width="3.50" height="23.19999999999999" fill="#6d3a5e"/><rect x="296.50" y="378.6" width="1.17" height="23.19999999999999" fill="#c3c6cd"/><rect x="297.67" y="378.6" width="5.26" height="23.19999999999999" fill="#3d4c88"/><rect x="302.93" y="378.6" width="1.17" height="23.19999999999999" fill="#c3c6cd"/><rect x="304.09" y="378.6" width="1.75" height="23.19999999999999" fill="#9a2326"/><rect x="305.85" y="378.6" width="1.17" height="23.19999999999999" fill="#c3c6cd"/><rect x="307.01" y="378.6" width="2.34" height="23.19999999999999" fill="#3d4c88"/><rect x="309.35" y="378.6" width="1.17" height="23.19999999999999" fill="#6d3a5e"/><rect x="310.52" y="378.6" width="1.75" height="23.19999999999999" fill="#3d4c88"/><rect x="312.27" y="378.6" width="2.34" height="23.19999999999999" fill="#6d3a5e"/><rect x="314.61" y="378.6" width="1.17" height="23.19999999999999" fill="#c3c6cd"/><rect x="315.77" y="378.6" width="2.92" height="23.19999999999999" fill="#9a2326"/><rect x="318.69" y="378.6" width="1.17" height="23.19999999999999" fill="#6d3a5e"/><rect x="319.86" y="378.6" width="1.17" height="23.19999999999999" fill="#75819f"/><rect x="321.03" y="378.6" width="1.75" height="23.19999999999999" fill="#3d4c88"/><rect x="322.78" y="378.6" width="1.17" height="23.19999999999999" fill="#c3c6cd"/><rect x="323.95" y="378.6" width="1.75" height="23.19999999999999" fill="#3d4c88"/><rect x="325.70" y="378.6" width="1.17" height="23.19999999999999" fill="#6d3a5e"/><rect x="326.87" y="378.6" width="2.34" height="23.19999999999999" fill="#3d4c88"/><rect x="329.20" y="378.6" width="1.17" height="23.19999999999999" fill="#c3c6cd"/><rect x="330.37" y="378.6" width="1.17" height="23.19999999999999" fill="#9a2326"/><rect x="331.54" y="378.6" width="1.75" height="23.19999999999999" fill="#3d4c88"/><rect x="333.29" y="378.6" width="2.34" height="23.19999999999999" fill="#9a2326"/><rect x="335.63" y="378.6" width="1.75" height="23.19999999999999" fill="#6d3a5e"/><rect x="337.38" y="378.6" width="1.75" height="23.19999999999999" fill="#3d4c88"/><rect x="339.13" y="378.6" width="1.75" height="23.19999999999999" fill="#6d3a5e"/><rect x="340.88" y="378.6" width="1.75" height="23.19999999999999" fill="#3d4c88"/><rect x="342.64" y="378.6" width="1.17" height="23.19999999999999" fill="#9a2326"/><rect x="343.80" y="378.6" width="1.75" height="23.19999999999999" fill="#3d4c88"/><rect x="345.55" y="378.6" width="1.75" height="23.19999999999999" fill="#6d3a5e"/><rect x="347.31" y="378.6" width="1.75" height="23.19999999999999" fill="#3d4c88"/><rect x="349.06" y="378.6" width="1.17" height="23.19999999999999" fill="#75819f"/><rect x="350.23" y="378.6" width="1.17" height="23.19999999999999" fill="#c3c6cd"/><rect x="351.39" y="378.6" width="2.34" height="23.19999999999999" fill="#6d3a5e"/><rect x="353.73" y="378.6" width="1.75" height="23.19999999999999" fill="#9a2326"/><rect x="355.48" y="378.6" width="1.17" height="23.19999999999999" fill="#c3c6cd"/><rect x="356.65" y="378.6" width="1.75" height="23.19999999999999" fill="#9a2326"/><rect x="358.40" y="378.6" width="1.75" height="23.19999999999999" fill="#6d3a5e"/><rect x="360.15" y="378.6" width="1.75" height="23.19999999999999" fill="#9a2326"/><rect x="361.91" y="378.6" width="1.75" height="23.19999999999999" fill="#6d3a5e"/><rect x="363.66" y="378.6" width="1.17" height="23.19999999999999" fill="#c3c6cd"/><rect x="364.82" y="378.6" width="1.17" height="23.19999999999999" fill="#3d4c88"/><rect x="365.99" y="378.6" width="2.34" height="23.19999999999999" fill="#9a2326"/><rect x="368.33" y="378.6" width="1.75" height="23.19999999999999" fill="#6d3a5e"/><rect x="370.08" y="378.6" width="1.17" height="23.19999999999999" fill="#9a2326"/><rect x="371.25" y="378.6" width="1.75" height="23.19999999999999" fill="#6d3a5e"/><rect x="373.00" y="378.6" width="1.75" height="23.19999999999999" fill="#75819f"/><rect x="374.75" y="378.6" width="0.82" height="23.19999999999999" fill="#9a2326"/><rect x="375.57" y="378.6" width="0.93" height="23.19999999999999" fill="#c3c6cd"/><rect x="376.50" y="378.6" width="1.75" height="23.19999999999999" fill="#3d4c88"/><rect x="378.26" y="378.6" width="2.34" height="23.19999999999999" fill="#6d3a5e"/><rect x="380.59" y="378.6" width="2.92" height="23.19999999999999" fill="#9a2326"/><rect x="383.51" y="378.6" width="1.17" height="23.19999999999999" fill="#6d3a5e"/><rect x="384.68" y="378.6" width="1.75" height="23.19999999999999" fill="#3d4c88"/><rect x="386.43" y="378.6" width="1.17" height="23.19999999999999" fill="#6d3a5e"/><rect x="387.60" y="378.6" width="1.17" height="23.19999999999999" fill="#9a2326"/><rect x="388.77" y="378.6" width="1.17" height="23.19999999999999" fill="#3d4c88"/><rect x="389.93" y="378.6" width="1.17" height="23.19999999999999" fill="#9a2326"/><rect x="391.10" y="378.6" width="1.17" height="23.19999999999999" fill="#bd7673"/><rect x="392.27" y="378.6" width="1.75" height="23.19999999999999" fill="#6d3a5e"/><rect x="394.02" y="378.6" width="1.75" height="23.19999999999999" fill="#75819f"/><rect x="395.77" y="378.6" width="1.17" height="23.19999999999999" fill="#3d4c88"/><rect x="396.94" y="378.6" width="1.17" height="23.19999999999999" fill="#9a2326"/><rect x="398.11" y="378.6" width="1.75" height="23.19999999999999" fill="#3d4c88"/><rect x="399.86" y="378.6" width="2.92" height="23.19999999999999" fill="#6d3a5e"/><rect x="402.78" y="378.6" width="1.17" height="23.19999999999999" fill="#c3c6cd"/><rect x="403.95" y="378.6" width="1.17" height="23.19999999999999" fill="#3d4c88"/><rect x="405.12" y="378.6" width="1.75" height="23.19999999999999" fill="#9a2326"/><rect x="406.87" y="378.6" width="5.26" height="23.19999999999999" fill="#3d4c88"/><rect x="412.12" y="378.6" width="1.17" height="23.19999999999999" fill="#75819f"/><rect x="413.29" y="378.6" width="8.18" height="23.19999999999999" fill="#3d4c88"/><rect x="421.47" y="378.6" width="1.17" height="23.19999999999999" fill="#9a2326"/><rect x="422.64" y="378.6" width="1.17" height="23.19999999999999" fill="#3d4c88"/><rect x="423.80" y="378.6" width="1.17" height="23.19999999999999" fill="#6d3a5e"/><rect x="424.97" y="378.6" width="2.92" height="23.19999999999999" fill="#9a2326"/><rect x="427.89" y="378.6" width="15.18" height="23.19999999999999" fill="#3d4c88"/><rect x="443.07" y="378.6" width="1.75" height="23.19999999999999" fill="#6d3a5e"/><rect x="444.82" y="378.6" width="4.09" height="23.19999999999999" fill="#3d4c88"/><rect x="448.91" y="378.6" width="1.17" height="23.19999999999999" fill="#75819f"/><rect x="450.08" y="378.6" width="2.92" height="23.19999999999999" fill="#3d4c88"/><rect x="453.00" y="378.6" width="1.17" height="23.19999999999999" fill="#6d3a5e"/><rect x="454.17" y="378.6" width="2.34" height="23.19999999999999" fill="#3d4c88"/><rect x="456.50" y="378.6" width="2.34" height="23.19999999999999" fill="#6d3a5e"/><rect x="458.84" y="378.6" width="7.01" height="23.19999999999999" fill="#3d4c88"/><rect x="465.85" y="378.6" width="1.17" height="23.19999999999999" fill="#75819f"/><rect x="467.01" y="378.6" width="2.34" height="23.19999999999999" fill="#3d4c88"/><rect x="469.35" y="378.6" width="1.17" height="23.19999999999999" fill="#bd7673"/><rect x="470.52" y="378.6" width="1.17" height="23.19999999999999" fill="#c3c6cd"/><rect x="471.69" y="378.6" width="4.67" height="23.19999999999999" fill="#6d3a5e"/><rect x="476.36" y="378.6" width="1.75" height="23.19999999999999" fill="#9a2326"/><rect x="478.11" y="378.6" width="5.84" height="23.19999999999999" fill="#3d4c88"/><rect x="483.95" y="378.6" width="2.34" height="23.19999999999999" fill="#6d3a5e"/><rect x="486.28" y="378.6" width="1.75" height="23.19999999999999" fill="#3d4c88"/><rect x="488.04" y="378.6" width="1.17" height="23.19999999999999" fill="#9a2326"/><rect x="489.20" y="378.6" width="5.26" height="23.19999999999999" fill="#3d4c88"/><rect x="494.46" y="378.6" width="1.17" height="23.19999999999999" fill="#9a2326"/><rect x="495.63" y="378.6" width="1.75" height="23.19999999999999" fill="#3d4c88"/><rect x="497.38" y="378.6" width="1.75" height="23.19999999999999" fill="#6d3a5e"/><rect x="499.13" y="378.6" width="1.17" height="23.19999999999999" fill="#9a2326"/><rect x="500.30" y="378.6" width="1.17" height="23.19999999999999" fill="#c3c6cd"/><rect x="501.47" y="378.6" width="8.76" height="23.19999999999999" fill="#3d4c88"/><rect x="510.23" y="378.6" width="2.34" height="23.19999999999999" fill="#9a2326"/><rect x="512.56" y="378.6" width="2.34" height="23.19999999999999" fill="#3d4c88"/><rect x="514.90" y="378.6" width="1.75" height="23.19999999999999" fill="#6d3a5e"/><rect x="516.65" y="378.6" width="3.50" height="23.19999999999999" fill="#3d4c88"/><rect x="520.15" y="378.6" width="2.92" height="23.19999999999999" fill="#9a2326"/><rect x="523.07" y="378.6" width="1.17" height="23.19999999999999" fill="#c3c6cd"/><rect x="524.24" y="378.6" width="1.17" height="23.19999999999999" fill="#3d4c88"/><rect x="525.41" y="378.6" width="1.17" height="23.19999999999999" fill="#9a2326"/><rect x="526.58" y="378.6" width="1.75" height="23.19999999999999" fill="#6d3a5e"/><rect x="528.33" y="378.6" width="1.75" height="23.19999999999999" fill="#3d4c88"/><rect x="530.08" y="378.6" width="0.93" height="23.19999999999999" fill="#bd7673"/><rect x="531.01" y="378.6" width="1.99" height="23.19999999999999" fill="#3d4c88"/><rect x="533.00" y="378.6" width="1.75" height="23.19999999999999" fill="#6d3a5e"/><rect x="534.75" y="378.6" width="1.17" height="23.19999999999999" fill="#9a2326"/><rect x="535.92" y="378.6" width="1.75" height="23.19999999999999" fill="#3d4c88"/><rect x="537.67" y="378.6" width="1.17" height="23.19999999999999" fill="#6d3a5e"/><rect x="538.84" y="378.6" width="1.17" height="23.19999999999999" fill="#3d4c88"/><rect x="540.01" y="378.6" width="1.75" height="23.19999999999999" fill="#9a2326"/><rect x="541.76" y="378.6" width="1.17" height="23.19999999999999" fill="#3d4c88"/><rect x="542.93" y="378.6" width="1.17" height="23.19999999999999" fill="#9a2326"/><rect x="544.09" y="378.6" width="1.75" height="23.19999999999999" fill="#3d4c88"/><rect x="545.85" y="378.6" width="1.75" height="23.19999999999999" fill="#9a2326"/><rect x="547.60" y="378.6" width="1.75" height="23.19999999999999" fill="#6d3a5e"/><rect x="549.35" y="378.6" width="1.17" height="23.19999999999999" fill="#bd7673"/><rect x="550.52" y="378.6" width="1.17" height="23.19999999999999" fill="#75819f"/><rect x="551.69" y="378.6" width="1.17" height="23.19999999999999" fill="#9a2326"/><rect x="552.85" y="378.6" width="1.17" height="23.19999999999999" fill="#6d3a5e"/><rect x="554.02" y="378.6" width="2.34" height="23.19999999999999" fill="#9a2326"/><rect x="556.36" y="378.6" width="1.75" height="23.19999999999999" fill="#3d4c88"/><rect x="558.11" y="378.6" width="1.17" height="23.19999999999999" fill="#bd7673"/><rect x="559.28" y="378.6" width="1.75" height="23.19999999999999" fill="#6d3a5e"/><rect x="561.03" y="378.6" width="1.17" height="23.19999999999999" fill="#9a2326"/><rect x="562.20" y="378.6" width="1.75" height="23.19999999999999" fill="#3d4c88"/><rect x="563.95" y="378.6" width="1.75" height="23.19999999999999" fill="#6d3a5e"/><rect x="565.70" y="378.6" width="1.75" height="23.19999999999999" fill="#bd7673"/><rect x="567.45" y="378.6" width="1.17" height="23.19999999999999" fill="#c3c6cd"/><rect x="568.62" y="378.6" width="3.50" height="23.19999999999999" fill="#6d3a5e"/><rect x="572.12" y="378.6" width="1.75" height="23.19999999999999" fill="#3d4c88"/><rect x="573.88" y="378.6" width="1.75" height="23.19999999999999" fill="#75819f"/><rect x="575.63" y="378.6" width="1.17" height="23.19999999999999" fill="#c3c6cd"/><rect x="576.80" y="378.6" width="2.34" height="23.19999999999999" fill="#3d4c88"/><rect x="579.13" y="378.6" width="1.75" height="23.19999999999999" fill="#6d3a5e"/><rect x="580.88" y="378.6" width="1.17" height="23.19999999999999" fill="#3d4c88"/><rect x="582.05" y="378.6" width="5.26" height="23.19999999999999" fill="#75819f"/><rect x="587.31" y="378.6" width="1.75" height="23.19999999999999" fill="#6d3a5e"/><rect x="589.06" y="378.6" width="1.75" height="23.19999999999999" fill="#3d4c88"/><rect x="590.81" y="378.6" width="4.09" height="23.19999999999999" fill="#9a2326"/><rect x="594.90" y="378.6" width="1.75" height="23.19999999999999" fill="#6d3a5e"/><rect x="596.65" y="378.6" width="1.75" height="23.19999999999999" fill="#9a2326"/><rect x="598.40" y="378.6" width="1.75" height="23.19999999999999" fill="#6d3a5e"/><rect x="600.15" y="378.6" width="1.75" height="23.19999999999999" fill="#9a2326"/><rect x="601.91" y="378.6" width="1.17" height="23.19999999999999" fill="#c3c6cd"/><rect x="603.07" y="378.6" width="1.75" height="23.19999999999999" fill="#6d3a5e"/><rect x="604.82" y="378.6" width="1.75" height="23.19999999999999" fill="#9a2326"/><rect x="606.58" y="378.6" width="1.75" height="23.19999999999999" fill="#6d3a5e"/><rect x="608.33" y="378.6" width="1.75" height="23.19999999999999" fill="#9a2326"/><rect x="610.08" y="378.6" width="2.92" height="23.19999999999999" fill="#6d3a5e"/><rect x="613.00" y="378.6" width="1.93" height="23.19999999999999" fill="#c3c6cd"/><rect x="614.93" y="378.6" width="1.17" height="23.19999999999999" fill="#3d4c88"/><rect x="616.09" y="378.6" width="1.17" height="23.19999999999999" fill="#3d4c88"/><rect x="617.26" y="378.6" width="1.75" height="23.19999999999999" fill="#bd7673"/><rect x="619.01" y="378.6" width="1.75" height="23.19999999999999" fill="#6d3a5e"/><rect x="620.77" y="378.6" width="1.75" height="23.19999999999999" fill="#9a2326"/><rect x="622.52" y="378.6" width="3.50" height="23.19999999999999" fill="#3d4c88"/><rect x="626.02" y="378.6" width="2.34" height="23.19999999999999" fill="#6d3a5e"/><rect x="628.36" y="378.6" width="1.75" height="23.19999999999999" fill="#bd7673"/><rect x="630.11" y="378.6" width="1.75" height="23.19999999999999" fill="#6d3a5e"/><rect x="631.86" y="378.6" width="1.17" height="23.19999999999999" fill="#9a2326"/><rect x="633.03" y="378.6" width="2.34" height="23.19999999999999" fill="#3d4c88"/><rect x="635.36" y="378.6" width="1.75" height="23.19999999999999" fill="#6d3a5e"/><rect x="637.12" y="378.6" width="1.75" height="23.19999999999999" fill="#3d4c88"/><rect x="638.87" y="378.6" width="2.34" height="23.19999999999999" fill="#bd7673"/><rect x="641.20" y="378.6" width="1.75" height="23.19999999999999" fill="#6d3a5e"/><rect x="642.96" y="378.6" width="1.75" height="23.19999999999999" fill="#3d4c88"/><rect x="644.71" y="378.6" width="1.17" height="23.19999999999999" fill="#c3c6cd"/><rect x="645.88" y="378.6" width="1.17" height="23.19999999999999" fill="#bd7673"/><rect x="647.04" y="378.6" width="2.34" height="23.19999999999999" fill="#3d4c88"/><rect x="649.38" y="378.6" width="1.75" height="23.19999999999999" fill="#6d3a5e"/><rect x="651.13" y="378.6" width="2.92" height="23.19999999999999" fill="#9a2326"/><rect x="654.05" y="378.6" width="2.34" height="23.19999999999999" fill="#3d4c88"/><rect x="656.39" y="378.6" width="1.17" height="23.19999999999999" fill="#6d3a5e"/><rect x="657.55" y="378.6" width="1.17" height="23.19999999999999" fill="#bd7673"/><rect x="658.72" y="378.6" width="2.34" height="23.19999999999999" fill="#3d4c88"/><rect x="661.06" y="378.6" width="2.34" height="23.19999999999999" fill="#6d3a5e"/><rect x="663.39" y="378.6" width="2.34" height="23.19999999999999" fill="#9a2326"/><rect x="665.73" y="378.6" width="2.34" height="23.19999999999999" fill="#3d4c88"/><rect x="668.07" y="378.6" width="1.75" height="23.19999999999999" fill="#6d3a5e"/><rect x="669.82" y="378.6" width="1.75" height="23.19999999999999" fill="#3d4c88"/><rect x="671.57" y="378.6" width="2.34" height="23.19999999999999" fill="#6d3a5e"/><rect x="673.91" y="378.6" width="1.17" height="23.19999999999999" fill="#c3c6cd"/><rect x="675.07" y="378.6" width="1.17" height="23.19999999999999" fill="#3d4c88"/><rect x="676.24" y="378.6" width="2.92" height="23.19999999999999" fill="#9a2326"/><rect x="679.16" y="378.6" width="5.84" height="23.19999999999999" fill="#3d4c88"/><rect x="54" y="410.0" width="631" height="23.2" fill="#babdc0"/><rect x="55.45" y="410.0" width="1.00" height="23.19999999999999" fill="#b2b8c4"/><rect x="56.90" y="410.0" width="1.00" height="23.19999999999999" fill="#b2b8c4"/><rect x="58.35" y="410.0" width="1.00" height="23.19999999999999" fill="#c2c4c6"/><rect x="61.25" y="410.0" width="1.00" height="23.19999999999999" fill="#b2b8c4"/><rect x="62.70" y="410.0" width="1.00" height="23.19999999999999" fill="#c2c4c6"/><rect x="64.15" y="410.0" width="1.00" height="23.19999999999999" fill="#b2b8c4"/><rect x="68.50" y="410.0" width="1.00" height="23.19999999999999" fill="#b2b8c4"/><rect x="69.95" y="410.0" width="1.00" height="23.19999999999999" fill="#b2b8c4"/><rect x="75.75" y="410.0" width="1.00" height="23.19999999999999" fill="#c2c4c6"/><rect x="77.20" y="410.0" width="1.00" height="23.19999999999999" fill="#c2c4c6"/><rect x="80.10" y="410.0" width="1.00" height="23.19999999999999" fill="#b2b8c4"/><rect x="83.00" y="410.0" width="1.00" height="23.19999999999999" fill="#c2c4c6"/><rect x="88.80" y="410.0" width="1.00" height="23.19999999999999" fill="#b2b8c4"/><rect x="97.50" y="410.0" width="1.00" height="23.19999999999999" fill="#b2b8c4"/><rect x="98.95" y="410.0" width="1.00" height="23.19999999999999" fill="#c2c4c6"/><rect x="100.40" y="410.0" width="1.00" height="23.19999999999999" fill="#c2c4c6"/><rect x="101.85" y="410.0" width="1.00" height="23.19999999999999" fill="#b2b8c4"/><rect x="103.30" y="410.0" width="1.00" height="23.19999999999999" fill="#b2b8c4"/><rect x="104.75" y="410.0" width="1.00" height="23.19999999999999" fill="#c2c4c6"/><rect x="106.20" y="410.0" width="1.00" height="23.19999999999999" fill="#b2b8c4"/><rect x="110.55" y="410.0" width="1.00" height="23.19999999999999" fill="#b2b8c4"/><rect x="112.00" y="410.0" width="1.00" height="23.19999999999999" fill="#c2c4c6"/><rect x="114.90" y="410.0" width="1.00" height="23.19999999999999" fill="#c2c4c6"/><rect x="116.35" y="410.0" width="1.00" height="23.19999999999999" fill="#b2b8c4"/><rect x="117.80" y="410.0" width="1.00" height="23.19999999999999" fill="#b2b8c4"/><rect x="119.25" y="410.0" width="1.00" height="23.19999999999999" fill="#b2b8c4"/><rect x="123.60" y="410.0" width="1.00" height="23.19999999999999" fill="#b2b8c4"/><rect x="129.40" y="410.0" width="1.00" height="23.19999999999999" fill="#b2b8c4"/><rect x="133.75" y="410.0" width="1.00" height="23.19999999999999" fill="#b2b8c4"/><rect x="136.65" y="410.0" width="1.00" height="23.19999999999999" fill="#b2b8c4"/><rect x="145.35" y="410.0" width="1.00" height="23.19999999999999" fill="#c2c4c6"/><rect x="146.80" y="410.0" width="1.00" height="23.19999999999999" fill="#b2b8c4"/><rect x="148.25" y="410.0" width="1.00" height="23.19999999999999" fill="#b2b8c4"/><rect x="149.70" y="410.0" width="1.00" height="23.19999999999999" fill="#b2b8c4"/><rect x="154.05" y="410.0" width="1.00" height="23.19999999999999" fill="#c2c4c6"/><rect x="155.50" y="410.0" width="1.00" height="23.19999999999999" fill="#b2b8c4"/><rect x="161.30" y="410.0" width="1.00" height="23.19999999999999" fill="#b2b8c4"/><rect x="167.10" y="410.0" width="1.00" height="23.19999999999999" fill="#c2c4c6"/><rect x="168.55" y="410.0" width="1.00" height="23.19999999999999" fill="#b2b8c4"/><rect x="171.45" y="410.0" width="1.00" height="23.19999999999999" fill="#c2c4c6"/><rect x="172.90" y="410.0" width="1.00" height="23.19999999999999" fill="#c2c4c6"/><rect x="175.80" y="410.0" width="1.00" height="23.19999999999999" fill="#c2c4c6"/><rect x="178.70" y="410.0" width="1.00" height="23.19999999999999" fill="#b2b8c4"/><rect x="180.15" y="410.0" width="1.00" height="23.19999999999999" fill="#b2b8c4"/><rect x="193.20" y="410.0" width="1.00" height="23.19999999999999" fill="#b2b8c4"/><rect x="194.65" y="410.0" width="1.00" height="23.19999999999999" fill="#c2c4c6"/><rect x="197.55" y="410.0" width="1.00" height="23.19999999999999" fill="#b2b8c4"/><rect x="200.45" y="410.0" width="1.00" height="23.19999999999999" fill="#b2b8c4"/><rect x="204.80" y="410.0" width="1.00" height="23.19999999999999" fill="#b2b8c4"/><rect x="206.25" y="410.0" width="1.00" height="23.19999999999999" fill="#b2b8c4"/><rect x="209.15" y="410.0" width="1.00" height="23.19999999999999" fill="#b2b8c4"/><rect x="212.05" y="410.0" width="1.00" height="23.19999999999999" fill="#b2b8c4"/><rect x="219.30" y="410.0" width="1.00" height="23.19999999999999" fill="#c2c4c6"/><rect x="225.10" y="410.0" width="1.00" height="23.19999999999999" fill="#c2c4c6"/><rect x="232.35" y="410.0" width="1.00" height="23.19999999999999" fill="#b2b8c4"/><rect x="233.80" y="410.0" width="1.00" height="23.19999999999999" fill="#c2c4c6"/><rect x="238.15" y="410.0" width="1.00" height="23.19999999999999" fill="#c2c4c6"/><rect x="239.60" y="410.0" width="1.00" height="23.19999999999999" fill="#b2b8c4"/><rect x="241.05" y="410.0" width="1.00" height="23.19999999999999" fill="#b2b8c4"/><rect x="242.50" y="410.0" width="1.00" height="23.19999999999999" fill="#c2c4c6"/><rect x="255.55" y="410.0" width="1.00" height="23.19999999999999" fill="#b2b8c4"/><rect x="259.90" y="410.0" width="1.00" height="23.19999999999999" fill="#c2c4c6"/><rect x="267.15" y="410.0" width="1.00" height="23.19999999999999" fill="#c2c4c6"/><rect x="268.60" y="410.0" width="1.00" height="23.19999999999999" fill="#c2c4c6"/><rect x="271.50" y="410.0" width="1.00" height="23.19999999999999" fill="#b2b8c4"/><rect x="272.95" y="410.0" width="1.00" height="23.19999999999999" fill="#b2b8c4"/><rect x="277.30" y="410.0" width="1.00" height="23.19999999999999" fill="#b2b8c4"/><rect x="280.20" y="410.0" width="1.00" height="23.19999999999999" fill="#c2c4c6"/><rect x="287.45" y="410.0" width="1.00" height="23.19999999999999" fill="#c2c4c6"/><rect x="288.90" y="410.0" width="1.00" height="23.19999999999999" fill="#b2b8c4"/><rect x="290.35" y="410.0" width="1.00" height="23.19999999999999" fill="#b2b8c4"/><rect x="294.70" y="410.0" width="1.00" height="23.19999999999999" fill="#b2b8c4"/><rect x="297.60" y="410.0" width="1.00" height="23.19999999999999" fill="#c2c4c6"/><rect x="299.05" y="410.0" width="1.00" height="23.19999999999999" fill="#b2b8c4"/><rect x="301.95" y="410.0" width="1.00" height="23.19999999999999" fill="#c2c4c6"/><rect x="306.30" y="410.0" width="1.00" height="23.19999999999999" fill="#b2b8c4"/><rect x="309.20" y="410.0" width="1.00" height="23.19999999999999" fill="#b2b8c4"/><rect x="313.55" y="410.0" width="1.00" height="23.19999999999999" fill="#b2b8c4"/><rect x="316.45" y="410.0" width="1.00" height="23.19999999999999" fill="#b2b8c4"/><rect x="325.15" y="410.0" width="1.00" height="23.19999999999999" fill="#b2b8c4"/><rect x="329.50" y="410.0" width="1.00" height="23.19999999999999" fill="#b2b8c4"/><rect x="332.40" y="410.0" width="1.00" height="23.19999999999999" fill="#c2c4c6"/><rect x="333.85" y="410.0" width="1.00" height="23.19999999999999" fill="#b2b8c4"/><rect x="339.65" y="410.0" width="1.00" height="23.19999999999999" fill="#b2b8c4"/><rect x="342.55" y="410.0" width="1.00" height="23.19999999999999" fill="#b2b8c4"/><rect x="344.00" y="410.0" width="1.00" height="23.19999999999999" fill="#b2b8c4"/><rect x="345.45" y="410.0" width="1.00" height="23.19999999999999" fill="#c2c4c6"/><rect x="346.90" y="410.0" width="1.00" height="23.19999999999999" fill="#b2b8c4"/><rect x="349.80" y="410.0" width="1.00" height="23.19999999999999" fill="#b2b8c4"/><rect x="351.25" y="410.0" width="1.00" height="23.19999999999999" fill="#c2c4c6"/><rect x="364.30" y="410.0" width="1.00" height="23.19999999999999" fill="#b2b8c4"/><rect x="367.20" y="410.0" width="1.00" height="23.19999999999999" fill="#c2c4c6"/><rect x="373.00" y="410.0" width="1.00" height="23.19999999999999" fill="#b2b8c4"/><rect x="374.45" y="410.0" width="1.00" height="23.19999999999999" fill="#c2c4c6"/><rect x="380.25" y="410.0" width="1.00" height="23.19999999999999" fill="#b2b8c4"/><rect x="383.15" y="410.0" width="1.00" height="23.19999999999999" fill="#b2b8c4"/><rect x="387.50" y="410.0" width="1.00" height="23.19999999999999" fill="#b2b8c4"/><rect x="391.85" y="410.0" width="1.00" height="23.19999999999999" fill="#c2c4c6"/><rect x="393.30" y="410.0" width="1.00" height="23.19999999999999" fill="#b2b8c4"/><rect x="399.10" y="410.0" width="1.00" height="23.19999999999999" fill="#b2b8c4"/><rect x="400.55" y="410.0" width="1.00" height="23.19999999999999" fill="#b2b8c4"/><rect x="402.00" y="410.0" width="1.00" height="23.19999999999999" fill="#b2b8c4"/><rect x="404.90" y="410.0" width="1.00" height="23.19999999999999" fill="#b2b8c4"/><rect x="407.80" y="410.0" width="1.00" height="23.19999999999999" fill="#c2c4c6"/><rect x="410.70" y="410.0" width="1.00" height="23.19999999999999" fill="#c2c4c6"/><rect x="412.15" y="410.0" width="1.00" height="23.19999999999999" fill="#b2b8c4"/><rect x="420.85" y="410.0" width="1.00" height="23.19999999999999" fill="#b2b8c4"/><rect x="422.30" y="410.0" width="1.00" height="23.19999999999999" fill="#c2c4c6"/><rect x="423.75" y="410.0" width="1.00" height="23.19999999999999" fill="#b2b8c4"/><rect x="429.55" y="410.0" width="1.00" height="23.19999999999999" fill="#b2b8c4"/><rect x="431.00" y="410.0" width="1.00" height="23.19999999999999" fill="#b2b8c4"/><rect x="435.35" y="410.0" width="1.00" height="23.19999999999999" fill="#c2c4c6"/><rect x="438.25" y="410.0" width="1.00" height="23.19999999999999" fill="#b2b8c4"/><rect x="441.15" y="410.0" width="1.00" height="23.19999999999999" fill="#c2c4c6"/><rect x="445.50" y="410.0" width="1.00" height="23.19999999999999" fill="#b2b8c4"/><rect x="446.95" y="410.0" width="1.00" height="23.19999999999999" fill="#c2c4c6"/><rect x="448.40" y="410.0" width="1.00" height="23.19999999999999" fill="#b2b8c4"/><rect x="452.75" y="410.0" width="1.00" height="23.19999999999999" fill="#b2b8c4"/><rect x="454.20" y="410.0" width="1.00" height="23.19999999999999" fill="#b2b8c4"/><rect x="455.65" y="410.0" width="1.00" height="23.19999999999999" fill="#c2c4c6"/><rect x="460.00" y="410.0" width="1.00" height="23.19999999999999" fill="#c2c4c6"/><rect x="461.45" y="410.0" width="1.00" height="23.19999999999999" fill="#c2c4c6"/><rect x="462.90" y="410.0" width="1.00" height="23.19999999999999" fill="#b2b8c4"/><rect x="465.80" y="410.0" width="1.00" height="23.19999999999999" fill="#c2c4c6"/><rect x="467.25" y="410.0" width="1.00" height="23.19999999999999" fill="#b2b8c4"/><rect x="471.60" y="410.0" width="1.00" height="23.19999999999999" fill="#b2b8c4"/><rect x="473.05" y="410.0" width="1.00" height="23.19999999999999" fill="#b2b8c4"/><rect x="475.95" y="410.0" width="1.00" height="23.19999999999999" fill="#c2c4c6"/><rect x="477.40" y="410.0" width="1.00" height="23.19999999999999" fill="#c2c4c6"/><rect x="480.30" y="410.0" width="1.00" height="23.19999999999999" fill="#c2c4c6"/><rect x="487.55" y="410.0" width="1.00" height="23.19999999999999" fill="#b2b8c4"/><rect x="497.70" y="410.0" width="1.00" height="23.19999999999999" fill="#c2c4c6"/><rect x="499.15" y="410.0" width="1.00" height="23.19999999999999" fill="#c2c4c6"/><rect x="506.40" y="410.0" width="1.00" height="23.19999999999999" fill="#c2c4c6"/><rect x="513.65" y="410.0" width="1.00" height="23.19999999999999" fill="#c2c4c6"/><rect x="518.00" y="410.0" width="1.00" height="23.19999999999999" fill="#b2b8c4"/><rect x="519.45" y="410.0" width="1.00" height="23.19999999999999" fill="#c2c4c6"/><rect x="520.90" y="410.0" width="1.00" height="23.19999999999999" fill="#c2c4c6"/><rect x="525.25" y="410.0" width="1.00" height="23.19999999999999" fill="#c2c4c6"/><rect x="526.70" y="410.0" width="1.00" height="23.19999999999999" fill="#b2b8c4"/><rect x="528.15" y="410.0" width="1.00" height="23.19999999999999" fill="#b2b8c4"/><rect x="529.60" y="410.0" width="1.00" height="23.19999999999999" fill="#c2c4c6"/><rect x="531.05" y="410.0" width="1.00" height="23.19999999999999" fill="#b2b8c4"/><rect x="532.50" y="410.0" width="1.00" height="23.19999999999999" fill="#b2b8c4"/><rect x="539.75" y="410.0" width="1.00" height="23.19999999999999" fill="#c2c4c6"/><rect x="541.20" y="410.0" width="1.00" height="23.19999999999999" fill="#b2b8c4"/><rect x="542.65" y="410.0" width="1.00" height="23.19999999999999" fill="#b2b8c4"/><rect x="544.10" y="410.0" width="1.00" height="23.19999999999999" fill="#c2c4c6"/><rect x="545.55" y="410.0" width="1.00" height="23.19999999999999" fill="#c2c4c6"/><rect x="551.35" y="410.0" width="1.00" height="23.19999999999999" fill="#c2c4c6"/><rect x="555.70" y="410.0" width="1.00" height="23.19999999999999" fill="#b2b8c4"/><rect x="557.15" y="410.0" width="1.00" height="23.19999999999999" fill="#b2b8c4"/><rect x="561.50" y="410.0" width="1.00" height="23.19999999999999" fill="#c2c4c6"/><rect x="567.30" y="410.0" width="1.00" height="23.19999999999999" fill="#b2b8c4"/><rect x="571.65" y="410.0" width="1.00" height="23.19999999999999" fill="#c2c4c6"/><rect x="573.10" y="410.0" width="1.00" height="23.19999999999999" fill="#c2c4c6"/><rect x="574.55" y="410.0" width="1.00" height="23.19999999999999" fill="#b2b8c4"/><rect x="576.00" y="410.0" width="1.00" height="23.19999999999999" fill="#b2b8c4"/><rect x="577.45" y="410.0" width="1.00" height="23.19999999999999" fill="#c2c4c6"/><rect x="580.35" y="410.0" width="1.00" height="23.19999999999999" fill="#b2b8c4"/><rect x="581.80" y="410.0" width="1.00" height="23.19999999999999" fill="#c2c4c6"/><rect x="583.25" y="410.0" width="1.00" height="23.19999999999999" fill="#b2b8c4"/><rect x="589.05" y="410.0" width="1.00" height="23.19999999999999" fill="#b2b8c4"/><rect x="594.85" y="410.0" width="1.00" height="23.19999999999999" fill="#b2b8c4"/><rect x="599.20" y="410.0" width="1.00" height="23.19999999999999" fill="#c2c4c6"/><rect x="600.65" y="410.0" width="1.00" height="23.19999999999999" fill="#b2b8c4"/><rect x="602.10" y="410.0" width="1.00" height="23.19999999999999" fill="#b2b8c4"/><rect x="609.35" y="410.0" width="1.00" height="23.19999999999999" fill="#b2b8c4"/><rect x="610.80" y="410.0" width="1.00" height="23.19999999999999" fill="#c2c4c6"/><rect x="618.05" y="410.0" width="1.00" height="23.19999999999999" fill="#c2c4c6"/><rect x="619.50" y="410.0" width="1.00" height="23.19999999999999" fill="#b2b8c4"/><rect x="622.40" y="410.0" width="1.00" height="23.19999999999999" fill="#b2b8c4"/><rect x="625.30" y="410.0" width="1.00" height="23.19999999999999" fill="#c2c4c6"/><rect x="629.65" y="410.0" width="1.00" height="23.19999999999999" fill="#c2c4c6"/><rect x="632.55" y="410.0" width="1.00" height="23.19999999999999" fill="#b2b8c4"/><rect x="638.35" y="410.0" width="1.00" height="23.19999999999999" fill="#b2b8c4"/><rect x="642.70" y="410.0" width="1.00" height="23.19999999999999" fill="#c2c4c6"/><rect x="644.15" y="410.0" width="1.00" height="23.19999999999999" fill="#b2b8c4"/><rect x="645.60" y="410.0" width="1.00" height="23.19999999999999" fill="#b2b8c4"/><rect x="647.05" y="410.0" width="1.00" height="23.19999999999999" fill="#b2b8c4"/><rect x="649.95" y="410.0" width="1.00" height="23.19999999999999" fill="#b2b8c4"/><rect x="661.55" y="410.0" width="1.00" height="23.19999999999999" fill="#c2c4c6"/><rect x="664.45" y="410.0" width="1.00" height="23.19999999999999" fill="#c2c4c6"/><rect x="670.25" y="410.0" width="1.00" height="23.19999999999999" fill="#c2c4c6"/><rect x="676.05" y="410.0" width="1.00" height="23.19999999999999" fill="#c2c4c6"/><rect x="680.40" y="410.0" width="1.00" height="23.19999999999999" fill="#b2b8c4"/><rect x="681.85" y="410.0" width="1.00" height="23.19999999999999" fill="#b2b8c4"/><rect x="60.05" y="410.0" width="0.70" height="23.19999999999999" fill="#4570b6"/><rect x="62.25" y="410.0" width="0.70" height="23.19999999999999" fill="#7f97c2"/><rect x="66.50" y="410.0" width="1.00" height="23.19999999999999" fill="#4570b6"/><rect x="68.05" y="410.0" width="0.70" height="23.19999999999999" fill="#7f97c2"/><rect x="70.00" y="410.0" width="1.00" height="23.19999999999999" fill="#3363b2"/><rect x="73.15" y="410.0" width="0.70" height="23.19999999999999" fill="#4570b6"/><rect x="76.35" y="410.0" width="0.70" height="23.19999999999999" fill="#7f97c2"/><rect x="79.20" y="410.0" width="0.80" height="23.19999999999999" fill="#4570b6"/><rect x="85.90" y="410.0" width="0.80" height="23.19999999999999" fill="#7f97c2"/><rect x="97.70" y="410.0" width="1.00" height="23.19999999999999" fill="#3363b2"/><rect x="105.00" y="410.0" width="1.20" height="23.19999999999999" fill="#3363b2"/><rect x="109.65" y="410.0" width="0.70" height="23.19999999999999" fill="#7f97c2"/><rect x="113.90" y="410.0" width="0.80" height="23.19999999999999" fill="#4570b6"/><rect x="119.75" y="410.0" width="0.70" height="23.19999999999999" fill="#7f97c2"/><rect x="124.80" y="410.0" width="0.80" height="23.19999999999999" fill="#4570b6"/><rect x="127.20" y="410.0" width="1.20" height="23.19999999999999" fill="#4570b6"/><rect x="135.90" y="410.0" width="0.60" height="23.19999999999999" fill="#7f97c2"/><rect x="146.00" y="410.0" width="0.80" height="23.19999999999999" fill="#4570b6"/><rect x="152.60" y="410.0" width="2.00" height="23.19999999999999" fill="#3363b2"/><rect x="160.00" y="410.0" width="0.80" height="23.19999999999999" fill="#4570b6"/><rect x="164.60" y="410.0" width="1.00" height="23.19999999999999" fill="#3363b2"/><rect x="174.90" y="410.0" width="0.80" height="23.19999999999999" fill="#4570b6"/><rect x="178.45" y="410.0" width="0.70" height="23.19999999999999" fill="#7f97c2"/><rect x="182.25" y="410.0" width="0.70" height="23.19999999999999" fill="#7f97c2"/><rect x="186.70" y="410.0" width="1.00" height="23.19999999999999" fill="#3363b2"/><rect x="190.10" y="410.0" width="0.80" height="23.19999999999999" fill="#4570b6"/><rect x="191.70" y="410.0" width="0.80" height="23.19999999999999" fill="#4570b6"/><rect x="195.05" y="410.0" width="0.70" height="23.19999999999999" fill="#7f97c2"/><rect x="202.00" y="410.0" width="0.80" height="23.19999999999999" fill="#4570b6"/><rect x="203.85" y="410.0" width="0.70" height="23.19999999999999" fill="#7f97c2"/><rect x="206.90" y="410.0" width="0.80" height="23.19999999999999" fill="#4570b6"/><rect x="208.40" y="410.0" width="1.00" height="23.19999999999999" fill="#3363b2"/><rect x="214.20" y="410.0" width="1.00" height="23.19999999999999" fill="#3363b2"/><rect x="219.00" y="410.0" width="0.80" height="23.19999999999999" fill="#4570b6"/><rect x="225.50" y="410.0" width="1.20" height="23.19999999999999" fill="#7f97c2"/><rect x="227.10" y="410.0" width="0.80" height="23.19999999999999" fill="#4570b6"/><rect x="232.90" y="410.0" width="1.00" height="23.19999999999999" fill="#3363b2"/><rect x="234.80" y="410.0" width="1.00" height="23.19999999999999" fill="#3363b2"/><rect x="253.40" y="410.0" width="1.40" height="23.19999999999999" fill="#4570b6"/><rect x="261.10" y="410.0" width="0.80" height="23.19999999999999" fill="#4570b6"/><rect x="262.50" y="410.0" width="0.80" height="23.19999999999999" fill="#4570b6"/><rect x="265.65" y="410.0" width="0.70" height="23.19999999999999" fill="#7f97c2"/><rect x="269.00" y="410.0" width="1.00" height="23.19999999999999" fill="#3363b2"/><rect x="273.85" y="410.0" width="0.70" height="23.19999999999999" fill="#7f97c2"/><rect x="279.50" y="410.0" width="1.00" height="23.19999999999999" fill="#3363b2"/><rect x="286.10" y="410.0" width="0.80" height="23.19999999999999" fill="#4570b6"/><rect x="289.80" y="410.0" width="0.80" height="23.19999999999999" fill="#4570b6"/><rect x="294.00" y="410.0" width="0.80" height="23.19999999999999" fill="#4570b6"/><rect x="298.55" y="410.0" width="0.70" height="23.19999999999999" fill="#7f97c2"/><rect x="302.00" y="410.0" width="0.80" height="23.19999999999999" fill="#4570b6"/><rect x="303.20" y="410.0" width="0.80" height="23.19999999999999" fill="#4570b6"/><rect x="304.80" y="410.0" width="1.20" height="23.19999999999999" fill="#4570b6"/><rect x="309.90" y="410.0" width="0.80" height="23.19999999999999" fill="#4570b6"/><rect x="314.60" y="410.0" width="0.80" height="23.19999999999999" fill="#4570b6"/><rect x="318.10" y="410.0" width="0.80" height="23.19999999999999" fill="#4570b6"/><rect x="321.10" y="410.0" width="0.80" height="23.19999999999999" fill="#4570b6"/><rect x="323.10" y="410.0" width="1.40" height="23.19999999999999" fill="#3363b2"/><rect x="333.90" y="410.0" width="0.80" height="23.19999999999999" fill="#4570b6"/><rect x="337.90" y="410.0" width="0.80" height="23.19999999999999" fill="#4570b6"/><rect x="349.90" y="410.0" width="1.00" height="23.19999999999999" fill="#3363b2"/><rect x="354.90" y="410.0" width="0.80" height="23.19999999999999" fill="#4570b6"/><rect x="361.15" y="410.0" width="0.70" height="23.19999999999999" fill="#7f97c2"/><rect x="375.95" y="410.0" width="0.70" height="23.19999999999999" fill="#7f97c2"/><rect x="382.10" y="410.0" width="0.80" height="23.19999999999999" fill="#4570b6"/><rect x="389.10" y="410.0" width="0.80" height="23.19999999999999" fill="#4570b6"/><rect x="391.70" y="410.0" width="0.80" height="23.19999999999999" fill="#4570b6"/><rect x="412.40" y="410.0" width="0.80" height="23.19999999999999" fill="#4570b6"/><rect x="422.40" y="410.0" width="2.60" height="23.19999999999999" fill="#4570b6"/><rect x="425.90" y="410.0" width="3.00" height="23.19999999999999" fill="#3363b2"/><rect x="436.00" y="410.0" width="0.80" height="23.19999999999999" fill="#4570b6"/><rect x="438.30" y="410.0" width="0.80" height="23.19999999999999" fill="#4570b6"/><rect x="442.40" y="410.0" width="1.00" height="23.19999999999999" fill="#3363b2"/><rect x="449.50" y="410.0" width="0.80" height="23.19999999999999" fill="#4570b6"/><rect x="453.50" y="410.0" width="0.80" height="23.19999999999999" fill="#4570b6"/><rect x="460.90" y="410.0" width="0.80" height="23.19999999999999" fill="#4570b6"/><rect x="471.90" y="410.0" width="0.80" height="23.19999999999999" fill="#4570b6"/><rect x="483.80" y="410.0" width="0.80" height="23.19999999999999" fill="#4570b6"/><rect x="488.60" y="410.0" width="0.80" height="23.19999999999999" fill="#4570b6"/><rect x="503.10" y="410.0" width="0.80" height="23.19999999999999" fill="#4570b6"/><rect x="507.15" y="410.0" width="1.70" height="23.19999999999999" fill="#7f97c2"/><rect x="511.20" y="410.0" width="2.80" height="23.19999999999999" fill="#3363b2"/><rect x="518.40" y="410.0" width="0.80" height="23.19999999999999" fill="#4570b6"/><rect x="522.40" y="410.0" width="0.80" height="23.19999999999999" fill="#4570b6"/><rect x="524.50" y="410.0" width="0.80" height="23.19999999999999" fill="#4570b6"/><rect x="535.00" y="410.0" width="0.80" height="23.19999999999999" fill="#4570b6"/><rect x="539.80" y="410.0" width="1.00" height="23.19999999999999" fill="#3363b2"/><rect x="560.90" y="410.0" width="0.80" height="23.19999999999999" fill="#4570b6"/><rect x="567.60" y="410.0" width="0.80" height="23.19999999999999" fill="#4570b6"/><rect x="575.70" y="410.0" width="1.00" height="23.19999999999999" fill="#3363b2"/><rect x="581.90" y="410.0" width="0.80" height="23.19999999999999" fill="#4570b6"/><rect x="584.95" y="410.0" width="1.70" height="23.19999999999999" fill="#7f97c2"/><rect x="589.80" y="410.0" width="0.80" height="23.19999999999999" fill="#4570b6"/><rect x="594.25" y="410.0" width="0.70" height="23.19999999999999" fill="#7f97c2"/><rect x="599.80" y="410.0" width="0.80" height="23.19999999999999" fill="#4570b6"/><rect x="601.90" y="410.0" width="0.80" height="23.19999999999999" fill="#4570b6"/><rect x="605.30" y="410.0" width="1.80" height="23.19999999999999" fill="#3363b2"/><rect x="613.80" y="410.0" width="0.80" height="23.19999999999999" fill="#4570b6"/><rect x="616.00" y="410.0" width="0.80" height="23.19999999999999" fill="#4570b6"/><rect x="618.25" y="410.0" width="0.70" height="23.19999999999999" fill="#7f97c2"/><rect x="640.15" y="410.0" width="0.70" height="23.19999999999999" fill="#7f97c2"/><rect x="643.00" y="410.0" width="0.80" height="23.19999999999999" fill="#4570b6"/><rect x="645.90" y="410.0" width="0.80" height="23.19999999999999" fill="#4570b6"/><rect x="652.95" y="410.0" width="0.70" height="23.19999999999999" fill="#7f97c2"/><rect x="660.30" y="410.0" width="1.20" height="23.19999999999999" fill="#3363b2"/><rect x="664.60" y="410.0" width="0.80" height="23.19999999999999" fill="#4570b6"/><rect x="667.40" y="410.0" width="1.20" height="23.19999999999999" fill="#4570b6"/><rect x="672.50" y="410.0" width="1.00" height="23.19999999999999" fill="#3363b2"/><rect x="54" y="441.3" width="631" height="23.5" fill="#babdc0"/><rect x="55.45" y="441.3" width="1.00" height="23.5" fill="#c2c4c6"/><rect x="58.35" y="441.3" width="1.00" height="23.5" fill="#b2b8c4"/><rect x="61.25" y="441.3" width="1.00" height="23.5" fill="#b2b8c4"/><rect x="62.70" y="441.3" width="1.00" height="23.5" fill="#b2b8c4"/><rect x="64.15" y="441.3" width="1.00" height="23.5" fill="#b2b8c4"/><rect x="65.60" y="441.3" width="1.00" height="23.5" fill="#b2b8c4"/><rect x="69.95" y="441.3" width="1.00" height="23.5" fill="#b2b8c4"/><rect x="72.85" y="441.3" width="1.00" height="23.5" fill="#c2c4c6"/><rect x="74.30" y="441.3" width="1.00" height="23.5" fill="#b2b8c4"/><rect x="75.75" y="441.3" width="1.00" height="23.5" fill="#b2b8c4"/><rect x="80.10" y="441.3" width="1.00" height="23.5" fill="#b2b8c4"/><rect x="81.55" y="441.3" width="1.00" height="23.5" fill="#b2b8c4"/><rect x="84.45" y="441.3" width="1.00" height="23.5" fill="#b2b8c4"/><rect x="90.25" y="441.3" width="1.00" height="23.5" fill="#c2c4c6"/><rect x="94.60" y="441.3" width="1.00" height="23.5" fill="#c2c4c6"/><rect x="97.50" y="441.3" width="1.00" height="23.5" fill="#b2b8c4"/><rect x="100.40" y="441.3" width="1.00" height="23.5" fill="#b2b8c4"/><rect x="106.20" y="441.3" width="1.00" height="23.5" fill="#b2b8c4"/><rect x="114.90" y="441.3" width="1.00" height="23.5" fill="#b2b8c4"/><rect x="116.35" y="441.3" width="1.00" height="23.5" fill="#c2c4c6"/><rect x="117.80" y="441.3" width="1.00" height="23.5" fill="#c2c4c6"/><rect x="120.70" y="441.3" width="1.00" height="23.5" fill="#b2b8c4"/><rect x="122.15" y="441.3" width="1.00" height="23.5" fill="#b2b8c4"/><rect x="126.50" y="441.3" width="1.00" height="23.5" fill="#c2c4c6"/><rect x="129.40" y="441.3" width="1.00" height="23.5" fill="#b2b8c4"/><rect x="132.30" y="441.3" width="1.00" height="23.5" fill="#b2b8c4"/><rect x="136.65" y="441.3" width="1.00" height="23.5" fill="#c2c4c6"/><rect x="141.00" y="441.3" width="1.00" height="23.5" fill="#c2c4c6"/><rect x="142.45" y="441.3" width="1.00" height="23.5" fill="#c2c4c6"/><rect x="146.80" y="441.3" width="1.00" height="23.5" fill="#b2b8c4"/><rect x="155.50" y="441.3" width="1.00" height="23.5" fill="#b2b8c4"/><rect x="158.40" y="441.3" width="1.00" height="23.5" fill="#c2c4c6"/><rect x="162.75" y="441.3" width="1.00" height="23.5" fill="#b2b8c4"/><rect x="167.10" y="441.3" width="1.00" height="23.5" fill="#c2c4c6"/><rect x="168.55" y="441.3" width="1.00" height="23.5" fill="#b2b8c4"/><rect x="170.00" y="441.3" width="1.00" height="23.5" fill="#b2b8c4"/><rect x="172.90" y="441.3" width="1.00" height="23.5" fill="#b2b8c4"/><rect x="175.80" y="441.3" width="1.00" height="23.5" fill="#b2b8c4"/><rect x="178.70" y="441.3" width="1.00" height="23.5" fill="#b2b8c4"/><rect x="180.15" y="441.3" width="1.00" height="23.5" fill="#b2b8c4"/><rect x="183.05" y="441.3" width="1.00" height="23.5" fill="#b2b8c4"/><rect x="184.50" y="441.3" width="1.00" height="23.5" fill="#c2c4c6"/><rect x="191.75" y="441.3" width="1.00" height="23.5" fill="#b2b8c4"/><rect x="193.20" y="441.3" width="1.00" height="23.5" fill="#b2b8c4"/><rect x="197.55" y="441.3" width="1.00" height="23.5" fill="#b2b8c4"/><rect x="200.45" y="441.3" width="1.00" height="23.5" fill="#b2b8c4"/><rect x="203.35" y="441.3" width="1.00" height="23.5" fill="#b2b8c4"/><rect x="204.80" y="441.3" width="1.00" height="23.5" fill="#b2b8c4"/><rect x="207.70" y="441.3" width="1.00" height="23.5" fill="#c2c4c6"/><rect x="210.60" y="441.3" width="1.00" height="23.5" fill="#b2b8c4"/><rect x="213.50" y="441.3" width="1.00" height="23.5" fill="#b2b8c4"/><rect x="216.40" y="441.3" width="1.00" height="23.5" fill="#b2b8c4"/><rect x="219.30" y="441.3" width="1.00" height="23.5" fill="#b2b8c4"/><rect x="223.65" y="441.3" width="1.00" height="23.5" fill="#b2b8c4"/><rect x="225.10" y="441.3" width="1.00" height="23.5" fill="#c2c4c6"/><rect x="229.45" y="441.3" width="1.00" height="23.5" fill="#c2c4c6"/><rect x="230.90" y="441.3" width="1.00" height="23.5" fill="#b2b8c4"/><rect x="236.70" y="441.3" width="1.00" height="23.5" fill="#c2c4c6"/><rect x="238.15" y="441.3" width="1.00" height="23.5" fill="#b2b8c4"/><rect x="239.60" y="441.3" width="1.00" height="23.5" fill="#c2c4c6"/><rect x="241.05" y="441.3" width="1.00" height="23.5" fill="#b2b8c4"/><rect x="242.50" y="441.3" width="1.00" height="23.5" fill="#b2b8c4"/><rect x="248.30" y="441.3" width="1.00" height="23.5" fill="#c2c4c6"/><rect x="249.75" y="441.3" width="1.00" height="23.5" fill="#b2b8c4"/><rect x="262.80" y="441.3" width="1.00" height="23.5" fill="#c2c4c6"/><rect x="264.25" y="441.3" width="1.00" height="23.5" fill="#c2c4c6"/><rect x="268.60" y="441.3" width="1.00" height="23.5" fill="#c2c4c6"/><rect x="270.05" y="441.3" width="1.00" height="23.5" fill="#c2c4c6"/><rect x="272.95" y="441.3" width="1.00" height="23.5" fill="#b2b8c4"/><rect x="275.85" y="441.3" width="1.00" height="23.5" fill="#b2b8c4"/><rect x="280.20" y="441.3" width="1.00" height="23.5" fill="#c2c4c6"/><rect x="283.10" y="441.3" width="1.00" height="23.5" fill="#c2c4c6"/><rect x="284.55" y="441.3" width="1.00" height="23.5" fill="#b2b8c4"/><rect x="286.00" y="441.3" width="1.00" height="23.5" fill="#b2b8c4"/><rect x="287.45" y="441.3" width="1.00" height="23.5" fill="#b2b8c4"/><rect x="293.25" y="441.3" width="1.00" height="23.5" fill="#b2b8c4"/><rect x="296.15" y="441.3" width="1.00" height="23.5" fill="#c2c4c6"/><rect x="300.50" y="441.3" width="1.00" height="23.5" fill="#c2c4c6"/><rect x="303.40" y="441.3" width="1.00" height="23.5" fill="#b2b8c4"/><rect x="312.10" y="441.3" width="1.00" height="23.5" fill="#b2b8c4"/><rect x="316.45" y="441.3" width="1.00" height="23.5" fill="#c2c4c6"/><rect x="319.35" y="441.3" width="1.00" height="23.5" fill="#c2c4c6"/><rect x="325.15" y="441.3" width="1.00" height="23.5" fill="#c2c4c6"/><rect x="329.50" y="441.3" width="1.00" height="23.5" fill="#b2b8c4"/><rect x="332.40" y="441.3" width="1.00" height="23.5" fill="#c2c4c6"/><rect x="341.10" y="441.3" width="1.00" height="23.5" fill="#b2b8c4"/><rect x="342.55" y="441.3" width="1.00" height="23.5" fill="#b2b8c4"/><rect x="351.25" y="441.3" width="1.00" height="23.5" fill="#b2b8c4"/><rect x="352.70" y="441.3" width="1.00" height="23.5" fill="#b2b8c4"/><rect x="362.85" y="441.3" width="1.00" height="23.5" fill="#b2b8c4"/><rect x="364.30" y="441.3" width="1.00" height="23.5" fill="#c2c4c6"/><rect x="368.65" y="441.3" width="1.00" height="23.5" fill="#b2b8c4"/><rect x="370.10" y="441.3" width="1.00" height="23.5" fill="#b2b8c4"/><rect x="371.55" y="441.3" width="1.00" height="23.5" fill="#c2c4c6"/><rect x="373.00" y="441.3" width="1.00" height="23.5" fill="#b2b8c4"/><rect x="374.45" y="441.3" width="1.00" height="23.5" fill="#c2c4c6"/><rect x="380.25" y="441.3" width="1.00" height="23.5" fill="#b2b8c4"/><rect x="381.70" y="441.3" width="1.00" height="23.5" fill="#c2c4c6"/><rect x="391.85" y="441.3" width="1.00" height="23.5" fill="#b2b8c4"/><rect x="394.75" y="441.3" width="1.00" height="23.5" fill="#c2c4c6"/><rect x="397.65" y="441.3" width="1.00" height="23.5" fill="#b2b8c4"/><rect x="399.10" y="441.3" width="1.00" height="23.5" fill="#c2c4c6"/><rect x="400.55" y="441.3" width="1.00" height="23.5" fill="#c2c4c6"/><rect x="402.00" y="441.3" width="1.00" height="23.5" fill="#c2c4c6"/><rect x="403.45" y="441.3" width="1.00" height="23.5" fill="#b2b8c4"/><rect x="404.90" y="441.3" width="1.00" height="23.5" fill="#b2b8c4"/><rect x="407.80" y="441.3" width="1.00" height="23.5" fill="#b2b8c4"/><rect x="409.25" y="441.3" width="1.00" height="23.5" fill="#b2b8c4"/><rect x="412.15" y="441.3" width="1.00" height="23.5" fill="#c2c4c6"/><rect x="413.60" y="441.3" width="1.00" height="23.5" fill="#c2c4c6"/><rect x="415.05" y="441.3" width="1.00" height="23.5" fill="#b2b8c4"/><rect x="417.95" y="441.3" width="1.00" height="23.5" fill="#b2b8c4"/><rect x="422.30" y="441.3" width="1.00" height="23.5" fill="#b2b8c4"/><rect x="428.10" y="441.3" width="1.00" height="23.5" fill="#c2c4c6"/><rect x="429.55" y="441.3" width="1.00" height="23.5" fill="#b2b8c4"/><rect x="432.45" y="441.3" width="1.00" height="23.5" fill="#c2c4c6"/><rect x="435.35" y="441.3" width="1.00" height="23.5" fill="#c2c4c6"/><rect x="441.15" y="441.3" width="1.00" height="23.5" fill="#c2c4c6"/><rect x="442.60" y="441.3" width="1.00" height="23.5" fill="#c2c4c6"/><rect x="446.95" y="441.3" width="1.00" height="23.5" fill="#b2b8c4"/><rect x="451.30" y="441.3" width="1.00" height="23.5" fill="#c2c4c6"/><rect x="454.20" y="441.3" width="1.00" height="23.5" fill="#c2c4c6"/><rect x="455.65" y="441.3" width="1.00" height="23.5" fill="#b2b8c4"/><rect x="458.55" y="441.3" width="1.00" height="23.5" fill="#c2c4c6"/><rect x="465.80" y="441.3" width="1.00" height="23.5" fill="#b2b8c4"/><rect x="487.55" y="441.3" width="1.00" height="23.5" fill="#b2b8c4"/><rect x="494.80" y="441.3" width="1.00" height="23.5" fill="#b2b8c4"/><rect x="496.25" y="441.3" width="1.00" height="23.5" fill="#b2b8c4"/><rect x="497.70" y="441.3" width="1.00" height="23.5" fill="#b2b8c4"/><rect x="500.60" y="441.3" width="1.00" height="23.5" fill="#b2b8c4"/><rect x="502.05" y="441.3" width="1.00" height="23.5" fill="#b2b8c4"/><rect x="506.40" y="441.3" width="1.00" height="23.5" fill="#b2b8c4"/><rect x="512.20" y="441.3" width="1.00" height="23.5" fill="#b2b8c4"/><rect x="522.35" y="441.3" width="1.00" height="23.5" fill="#b2b8c4"/><rect x="523.80" y="441.3" width="1.00" height="23.5" fill="#c2c4c6"/><rect x="526.70" y="441.3" width="1.00" height="23.5" fill="#b2b8c4"/><rect x="529.60" y="441.3" width="1.00" height="23.5" fill="#c2c4c6"/><rect x="531.05" y="441.3" width="1.00" height="23.5" fill="#c2c4c6"/><rect x="532.50" y="441.3" width="1.00" height="23.5" fill="#c2c4c6"/><rect x="533.95" y="441.3" width="1.00" height="23.5" fill="#c2c4c6"/><rect x="541.20" y="441.3" width="1.00" height="23.5" fill="#b2b8c4"/><rect x="542.65" y="441.3" width="1.00" height="23.5" fill="#c2c4c6"/><rect x="548.45" y="441.3" width="1.00" height="23.5" fill="#c2c4c6"/><rect x="549.90" y="441.3" width="1.00" height="23.5" fill="#b2b8c4"/><rect x="551.35" y="441.3" width="1.00" height="23.5" fill="#b2b8c4"/><rect x="554.25" y="441.3" width="1.00" height="23.5" fill="#c2c4c6"/><rect x="560.05" y="441.3" width="1.00" height="23.5" fill="#c2c4c6"/><rect x="562.95" y="441.3" width="1.00" height="23.5" fill="#b2b8c4"/><rect x="567.30" y="441.3" width="1.00" height="23.5" fill="#b2b8c4"/><rect x="568.75" y="441.3" width="1.00" height="23.5" fill="#c2c4c6"/><rect x="574.55" y="441.3" width="1.00" height="23.5" fill="#c2c4c6"/><rect x="576.00" y="441.3" width="1.00" height="23.5" fill="#c2c4c6"/><rect x="578.90" y="441.3" width="1.00" height="23.5" fill="#c2c4c6"/><rect x="590.50" y="441.3" width="1.00" height="23.5" fill="#b2b8c4"/><rect x="594.85" y="441.3" width="1.00" height="23.5" fill="#b2b8c4"/><rect x="597.75" y="441.3" width="1.00" height="23.5" fill="#b2b8c4"/><rect x="600.65" y="441.3" width="1.00" height="23.5" fill="#b2b8c4"/><rect x="610.80" y="441.3" width="1.00" height="23.5" fill="#c2c4c6"/><rect x="612.25" y="441.3" width="1.00" height="23.5" fill="#b2b8c4"/><rect x="615.15" y="441.3" width="1.00" height="23.5" fill="#b2b8c4"/><rect x="618.05" y="441.3" width="1.00" height="23.5" fill="#b2b8c4"/><rect x="619.50" y="441.3" width="1.00" height="23.5" fill="#b2b8c4"/><rect x="620.95" y="441.3" width="1.00" height="23.5" fill="#b2b8c4"/><rect x="628.20" y="441.3" width="1.00" height="23.5" fill="#c2c4c6"/><rect x="632.55" y="441.3" width="1.00" height="23.5" fill="#b2b8c4"/><rect x="634.00" y="441.3" width="1.00" height="23.5" fill="#b2b8c4"/><rect x="636.90" y="441.3" width="1.00" height="23.5" fill="#b2b8c4"/><rect x="639.80" y="441.3" width="1.00" height="23.5" fill="#c2c4c6"/><rect x="641.25" y="441.3" width="1.00" height="23.5" fill="#b2b8c4"/><rect x="644.15" y="441.3" width="1.00" height="23.5" fill="#c2c4c6"/><rect x="647.05" y="441.3" width="1.00" height="23.5" fill="#b2b8c4"/><rect x="649.95" y="441.3" width="1.00" height="23.5" fill="#c2c4c6"/><rect x="652.85" y="441.3" width="1.00" height="23.5" fill="#b2b8c4"/><rect x="657.20" y="441.3" width="1.00" height="23.5" fill="#c2c4c6"/><rect x="658.65" y="441.3" width="1.00" height="23.5" fill="#b2b8c4"/><rect x="660.10" y="441.3" width="1.00" height="23.5" fill="#c2c4c6"/><rect x="663.00" y="441.3" width="1.00" height="23.5" fill="#b2b8c4"/><rect x="665.90" y="441.3" width="1.00" height="23.5" fill="#b2b8c4"/><rect x="673.15" y="441.3" width="1.00" height="23.5" fill="#b2b8c4"/><rect x="676.05" y="441.3" width="1.00" height="23.5" fill="#b2b8c4"/><rect x="683.30" y="441.3" width="1.00" height="23.5" fill="#c2c4c6"/><rect x="684.75" y="441.3" width="1.00" height="23.5" fill="#c2c4c6"/><rect x="54.00" y="441.3" width="96.00" height="23.5" fill="#3263b3"/><rect x="56.00" y="441.3" width="0.50" height="23.5" fill="#8299c3"/><rect x="60.90" y="441.3" width="0.70" height="23.5" fill="#8299c3"/><rect x="62.90" y="441.3" width="1.10" height="23.5" fill="#babdc0"/><rect x="71.80" y="441.3" width="0.50" height="23.5" fill="#8299c3"/><rect x="74.90" y="441.3" width="1.70" height="23.5" fill="#babdc0"/><rect x="81.30" y="441.3" width="0.50" height="23.5" fill="#babdc0"/><rect x="84.90" y="441.3" width="0.50" height="23.5" fill="#babdc0"/><rect x="92.40" y="441.3" width="1.50" height="23.5" fill="#babdc0"/><rect x="107.00" y="441.3" width="1.20" height="23.5" fill="#babdc0"/><rect x="111.20" y="441.3" width="0.50" height="23.5" fill="#babdc0"/><rect x="116.50" y="441.3" width="4.40" height="23.5" fill="#8299c3"/><rect x="122.30" y="441.3" width="1.50" height="23.5" fill="#babdc0"/><rect x="125.30" y="441.3" width="0.70" height="23.5" fill="#babdc0"/><rect x="128.70" y="441.3" width="0.50" height="23.5" fill="#babdc0"/><rect x="131.80" y="441.3" width="2.20" height="23.5" fill="#babdc0"/><rect x="134.80" y="441.3" width="4.30" height="23.5" fill="#8299c3"/><rect x="140.60" y="441.3" width="1.40" height="23.5" fill="#babdc0"/><rect x="143.20" y="441.3" width="1.80" height="23.5" fill="#babdc0"/><rect x="145.00" y="441.3" width="5.00" height="23.5" fill="#8299c3"/><rect x="150.00" y="441.3" width="1.46" height="23.5" fill="#8299c3"/><rect x="151.46" y="441.3" width="4.38" height="23.5" fill="#3263b3"/><rect x="155.84" y="441.3" width="2.19" height="23.5" fill="#babdc0"/><rect x="158.03" y="441.3" width="2.92" height="23.5" fill="#4570b6"/><rect x="160.95" y="441.3" width="1.46" height="23.5" fill="#3263b3"/><rect x="162.41" y="441.3" width="1.46" height="23.5" fill="#babdc0"/><rect x="163.87" y="441.3" width="2.19" height="23.5" fill="#3263b3"/><rect x="166.06" y="441.3" width="3.65" height="23.5" fill="#8299c3"/><rect x="169.71" y="441.3" width="1.90" height="23.5" fill="#3263b3"/><rect x="171.61" y="441.3" width="2.48" height="23.5" fill="#babdc0"/><rect x="174.09" y="441.3" width="4.38" height="23.5" fill="#4570b6"/><rect x="178.47" y="441.3" width="3.36" height="23.5" fill="#babdc0"/><rect x="181.82" y="441.3" width="1.02" height="23.5" fill="#3263b3"/><rect x="182.85" y="441.3" width="1.46" height="23.5" fill="#babdc0"/><rect x="184.31" y="441.3" width="0.73" height="23.5" fill="#3263b3"/><rect x="185.04" y="441.3" width="1.46" height="23.5" fill="#babdc0"/><rect x="186.50" y="441.3" width="2.92" height="23.5" fill="#3263b3"/><rect x="189.42" y="441.3" width="4.38" height="23.5" fill="#8299c3"/><rect x="193.80" y="441.3" width="2.19" height="23.5" fill="#3263b3"/><rect x="195.99" y="441.3" width="1.46" height="23.5" fill="#babdc0"/><rect x="197.45" y="441.3" width="3.65" height="23.5" fill="#8299c3"/><rect x="201.09" y="441.3" width="1.46" height="23.5" fill="#babdc0"/><rect x="202.55" y="441.3" width="0.73" height="23.5" fill="#3263b3"/><rect x="203.28" y="441.3" width="1.46" height="23.5" fill="#8299c3"/><rect x="204.74" y="441.3" width="2.19" height="23.5" fill="#babdc0"/><rect x="206.93" y="441.3" width="2.92" height="23.5" fill="#4570b6"/><rect x="209.85" y="441.3" width="4.38" height="23.5" fill="#babdc0"/><rect x="214.23" y="441.3" width="1.46" height="23.5" fill="#3263b3"/><rect x="215.69" y="441.3" width="1.46" height="23.5" fill="#8299c3"/><rect x="217.15" y="441.3" width="1.46" height="23.5" fill="#3263b3"/><rect x="218.61" y="441.3" width="1.46" height="23.5" fill="#babdc0"/><rect x="220.07" y="441.3" width="1.46" height="23.5" fill="#3263b3"/><rect x="221.53" y="441.3" width="2.19" height="23.5" fill="#8299c3"/><rect x="223.72" y="441.3" width="3.65" height="23.5" fill="#3263b3"/><rect x="227.37" y="441.3" width="5.11" height="23.5" fill="#babdc0"/><rect x="232.48" y="441.3" width="0.73" height="23.5" fill="#3263b3"/><rect x="233.21" y="441.3" width="1.46" height="23.5" fill="#babdc0"/><rect x="234.67" y="441.3" width="1.46" height="23.5" fill="#3263b3"/><rect x="236.13" y="441.3" width="5.84" height="23.5" fill="#babdc0"/><rect x="241.97" y="441.3" width="0.73" height="23.5" fill="#4570b6"/><rect x="242.70" y="441.3" width="3.65" height="23.5" fill="#babdc0"/><rect x="246.35" y="441.3" width="3.65" height="23.5" fill="#3263b3"/><rect x="254.53" y="441.3" width="1.17" height="23.5" fill="#3263b3"/><rect x="257.88" y="441.3" width="0.88" height="23.5" fill="#3263b3"/><rect x="263.94" y="441.3" width="0.73" height="23.5" fill="#4570b6"/><rect x="270.15" y="441.3" width="1.46" height="23.5" fill="#3263b3"/><rect x="274.23" y="441.3" width="1.17" height="23.5" fill="#8299c3"/><rect x="279.93" y="441.3" width="0.88" height="23.5" fill="#3263b3"/><rect x="282.41" y="441.3" width="0.88" height="23.5" fill="#4570b6"/><rect x="284.89" y="441.3" width="1.75" height="23.5" fill="#3263b3"/><rect x="286.86" y="441.3" width="0.73" height="23.5" fill="#3263b3"/><rect x="290.15" y="441.3" width="0.88" height="23.5" fill="#3263b3"/><rect x="292.92" y="441.3" width="1.17" height="23.5" fill="#3263b3"/><rect x="297.74" y="441.3" width="0.88" height="23.5" fill="#8299c3"/><rect x="301.24" y="441.3" width="1.17" height="23.5" fill="#8299c3"/><rect x="305.84" y="441.3" width="0.73" height="23.5" fill="#4570b6"/><rect x="310.29" y="441.3" width="1.46" height="23.5" fill="#3263b3"/><rect x="313.87" y="441.3" width="0.73" height="23.5" fill="#3263b3"/><rect x="319.71" y="441.3" width="0.73" height="23.5" fill="#4570b6"/><rect x="322.55" y="441.3" width="0.88" height="23.5" fill="#3263b3"/><rect x="325.26" y="441.3" width="0.73" height="23.5" fill="#4570b6"/><rect x="328.83" y="441.3" width="0.88" height="23.5" fill="#3263b3"/><rect x="335.99" y="441.3" width="0.88" height="23.5" fill="#8299c3"/><rect x="338.98" y="441.3" width="0.73" height="23.5" fill="#4570b6"/><rect x="350.07" y="441.3" width="0.73" height="23.5" fill="#3263b3"/><rect x="376.57" y="441.3" width="0.88" height="23.5" fill="#8299c3"/><rect x="382.55" y="441.3" width="1.46" height="23.5" fill="#3263b3"/><rect x="384.74" y="441.3" width="0.58" height="23.5" fill="#4570b6"/><rect x="396.06" y="441.3" width="0.73" height="23.5" fill="#3263b3"/><rect x="408.32" y="441.3" width="0.73" height="23.5" fill="#4570b6"/><rect x="428.18" y="441.3" width="0.73" height="23.5" fill="#3263b3"/><rect x="437.30" y="441.3" width="1.17" height="23.5" fill="#4570b6"/><rect x="441.90" y="441.3" width="0.73" height="23.5" fill="#4570b6"/><rect x="448.91" y="441.3" width="0.73" height="23.5" fill="#4570b6"/><rect x="454.31" y="441.3" width="0.73" height="23.5" fill="#4570b6"/><rect x="464.96" y="441.3" width="0.73" height="23.5" fill="#4570b6"/><rect x="472.26" y="441.3" width="0.73" height="23.5" fill="#4570b6"/><rect x="475.18" y="441.3" width="0.73" height="23.5" fill="#4570b6"/><rect x="481.02" y="441.3" width="0.73" height="23.5" fill="#4570b6"/><rect x="489.05" y="441.3" width="0.73" height="23.5" fill="#4570b6"/><rect x="495.18" y="441.3" width="0.73" height="23.5" fill="#4570b6"/><rect x="503.36" y="441.3" width="0.73" height="23.5" fill="#4570b6"/><rect x="507.37" y="441.3" width="1.46" height="23.5" fill="#8299c3"/><rect x="518.25" y="441.3" width="0.73" height="23.5" fill="#4570b6"/><rect x="523.80" y="441.3" width="0.73" height="23.5" fill="#8299c3"/><rect x="535.04" y="441.3" width="0.73" height="23.5" fill="#4570b6"/><rect x="539.34" y="441.3" width="1.75" height="23.5" fill="#8299c3"/><rect x="545.26" y="441.3" width="0.73" height="23.5" fill="#4570b6"/><rect x="561.68" y="441.3" width="1.46" height="23.5" fill="#8299c3"/><rect x="568.25" y="441.3" width="1.46" height="23.5" fill="#8299c3"/><rect x="576.28" y="441.3" width="0.58" height="23.5" fill="#3263b3"/><rect x="582.12" y="441.3" width="0.58" height="23.5" fill="#4570b6"/><rect x="590.51" y="441.3" width="0.73" height="23.5" fill="#4570b6"/><rect x="594.16" y="441.3" width="0.73" height="23.5" fill="#4570b6"/><rect x="600.00" y="441.3" width="0.73" height="23.5" fill="#4570b6"/><rect x="602.92" y="441.3" width="0.73" height="23.5" fill="#8299c3"/><rect x="614.10" y="441.3" width="0.80" height="23.5" fill="#3263b3"/><rect x="655.10" y="441.3" width="0.80" height="23.5" fill="#4570b6"/><rect x="657.00" y="441.3" width="0.80" height="23.5" fill="#4570b6"/><rect x="678.05" y="441.3" width="0.70" height="23.5" fill="#8299c3"/><rect x="54" y="472.8" width="631" height="22.9" fill="#c48a89"/><rect x="54.00" y="472.8" width="1.50" height="22.899999999999977" fill="#c48686"/><rect x="55.50" y="472.8" width="1.50" height="22.899999999999977" fill="#c7918f"/><rect x="57.00" y="472.8" width="1.50" height="22.899999999999977" fill="#c07c7a"/><rect x="58.50" y="472.8" width="1.50" height="22.899999999999977" fill="#c48686"/><rect x="60.00" y="472.8" width="1.50" height="22.899999999999977" fill="#c9a0a0"/><rect x="61.50" y="472.8" width="1.50" height="22.899999999999977" fill="#c9a0a0"/><rect x="63.00" y="472.8" width="1.50" height="22.899999999999977" fill="#c58c8b"/><rect x="64.50" y="472.8" width="1.50" height="22.899999999999977" fill="#c58c8b"/><rect x="66.00" y="472.8" width="1.50" height="22.899999999999977" fill="#c58c8b"/><rect x="67.50" y="472.8" width="1.50" height="22.899999999999977" fill="#c7918f"/><rect x="69.00" y="472.8" width="1.50" height="22.899999999999977" fill="#c07c7a"/><rect x="70.50" y="472.8" width="1.50" height="22.899999999999977" fill="#c07c7a"/><rect x="72.00" y="472.8" width="1.50" height="22.899999999999977" fill="#c48686"/><rect x="73.50" y="472.8" width="1.50" height="22.899999999999977" fill="#c9a0a0"/><rect x="75.00" y="472.8" width="1.50" height="22.899999999999977" fill="#c07c7a"/><rect x="76.50" y="472.8" width="1.50" height="22.899999999999977" fill="#c58c8b"/><rect x="78.00" y="472.8" width="1.50" height="22.899999999999977" fill="#c9a0a0"/><rect x="79.50" y="472.8" width="1.50" height="22.899999999999977" fill="#c7918f"/><rect x="81.00" y="472.8" width="1.50" height="22.899999999999977" fill="#c58c8b"/><rect x="82.50" y="472.8" width="1.50" height="22.899999999999977" fill="#c58c8b"/><rect x="84.00" y="472.8" width="1.50" height="22.899999999999977" fill="#c7918f"/><rect x="85.50" y="472.8" width="1.50" height="22.899999999999977" fill="#c7918f"/><rect x="87.00" y="472.8" width="1.50" height="22.899999999999977" fill="#c9a0a0"/><rect x="88.50" y="472.8" width="1.50" height="22.899999999999977" fill="#c07c7a"/><rect x="90.00" y="472.8" width="1.50" height="22.899999999999977" fill="#c07c7a"/><rect x="91.50" y="472.8" width="1.50" height="22.899999999999977" fill="#c9a0a0"/><rect x="93.00" y="472.8" width="1.50" height="22.899999999999977" fill="#c7918f"/><rect x="94.50" y="472.8" width="1.50" height="22.899999999999977" fill="#c07c7a"/><rect x="96.00" y="472.8" width="1.50" height="22.899999999999977" fill="#c9a0a0"/><rect x="97.50" y="472.8" width="1.50" height="22.899999999999977" fill="#c9a0a0"/><rect x="99.00" y="472.8" width="1.50" height="22.899999999999977" fill="#c48686"/><rect x="100.50" y="472.8" width="1.50" height="22.899999999999977" fill="#c48686"/><rect x="102.00" y="472.8" width="1.50" height="22.899999999999977" fill="#c07c7a"/><rect x="103.50" y="472.8" width="1.50" height="22.899999999999977" fill="#c9a0a0"/><rect x="105.00" y="472.8" width="1.50" height="22.899999999999977" fill="#c9a0a0"/><rect x="106.50" y="472.8" width="1.50" height="22.899999999999977" fill="#c07c7a"/><rect x="108.00" y="472.8" width="1.50" height="22.899999999999977" fill="#c7918f"/><rect x="109.50" y="472.8" width="1.50" height="22.899999999999977" fill="#c9a0a0"/><rect x="111.00" y="472.8" width="1.50" height="22.899999999999977" fill="#c7918f"/><rect x="112.50" y="472.8" width="1.50" height="22.899999999999977" fill="#c58c8b"/><rect x="114.00" y="472.8" width="1.50" height="22.899999999999977" fill="#c48686"/><rect x="115.50" y="472.8" width="1.50" height="22.899999999999977" fill="#c7918f"/><rect x="117.00" y="472.8" width="1.50" height="22.899999999999977" fill="#c58c8b"/><rect x="118.50" y="472.8" width="1.50" height="22.899999999999977" fill="#c7918f"/><rect x="120.00" y="472.8" width="1.50" height="22.899999999999977" fill="#c07c7a"/><rect x="121.50" y="472.8" width="1.50" height="22.899999999999977" fill="#c58c8b"/><rect x="123.00" y="472.8" width="1.50" height="22.899999999999977" fill="#c48686"/><rect x="124.50" y="472.8" width="1.50" height="22.899999999999977" fill="#c48686"/><rect x="126.00" y="472.8" width="1.50" height="22.899999999999977" fill="#c7918f"/><rect x="127.50" y="472.8" width="1.50" height="22.899999999999977" fill="#c7918f"/><rect x="129.00" y="472.8" width="1.50" height="22.899999999999977" fill="#c7918f"/><rect x="130.50" y="472.8" width="1.50" height="22.899999999999977" fill="#c58c8b"/><rect x="132.00" y="472.8" width="1.50" height="22.899999999999977" fill="#c58c8b"/><rect x="133.50" y="472.8" width="1.50" height="22.899999999999977" fill="#c7918f"/><rect x="135.00" y="472.8" width="1.50" height="22.899999999999977" fill="#c48686"/><rect x="136.50" y="472.8" width="1.50" height="22.899999999999977" fill="#c07c7a"/><rect x="138.00" y="472.8" width="1.50" height="22.899999999999977" fill="#c48686"/><rect x="139.50" y="472.8" width="1.50" height="22.899999999999977" fill="#c58c8b"/><rect x="141.00" y="472.8" width="1.50" height="22.899999999999977" fill="#c9a0a0"/><rect x="142.50" y="472.8" width="1.50" height="22.899999999999977" fill="#c7918f"/><rect x="144.00" y="472.8" width="1.50" height="22.899999999999977" fill="#c9a0a0"/><rect x="145.50" y="472.8" width="1.50" height="22.899999999999977" fill="#c07c7a"/><rect x="147.00" y="472.8" width="1.50" height="22.899999999999977" fill="#c9a0a0"/><rect x="148.50" y="472.8" width="1.50" height="22.899999999999977" fill="#c07c7a"/><rect x="150.00" y="472.8" width="1.50" height="22.899999999999977" fill="#c7918f"/><rect x="151.50" y="472.8" width="1.50" height="22.899999999999977" fill="#c9a0a0"/><rect x="153.00" y="472.8" width="1.50" height="22.899999999999977" fill="#c7918f"/><rect x="154.50" y="472.8" width="1.50" height="22.899999999999977" fill="#c48686"/><rect x="156.00" y="472.8" width="1.50" height="22.899999999999977" fill="#c9a0a0"/><rect x="157.50" y="472.8" width="1.50" height="22.899999999999977" fill="#c07c7a"/><rect x="159.00" y="472.8" width="1.50" height="22.899999999999977" fill="#c9a0a0"/><rect x="160.50" y="472.8" width="1.50" height="22.899999999999977" fill="#c7918f"/><rect x="162.00" y="472.8" width="1.50" height="22.899999999999977" fill="#c7918f"/><rect x="163.50" y="472.8" width="1.50" height="22.899999999999977" fill="#c07c7a"/><rect x="165.00" y="472.8" width="1.50" height="22.899999999999977" fill="#c7918f"/><rect x="166.50" y="472.8" width="1.50" height="22.899999999999977" fill="#c07c7a"/><rect x="168.00" y="472.8" width="1.50" height="22.899999999999977" fill="#c48686"/><rect x="169.50" y="472.8" width="1.50" height="22.899999999999977" fill="#c9a0a0"/><rect x="171.00" y="472.8" width="1.50" height="22.899999999999977" fill="#c58c8b"/><rect x="172.50" y="472.8" width="1.50" height="22.899999999999977" fill="#c58c8b"/><rect x="174.00" y="472.8" width="1.50" height="22.899999999999977" fill="#c7918f"/><rect x="175.50" y="472.8" width="1.50" height="22.899999999999977" fill="#c9a0a0"/><rect x="177.00" y="472.8" width="1.50" height="22.899999999999977" fill="#c48686"/><rect x="178.50" y="472.8" width="1.50" height="22.899999999999977" fill="#c07c7a"/><rect x="180.00" y="472.8" width="1.50" height="22.899999999999977" fill="#c07c7a"/><rect x="181.50" y="472.8" width="1.50" height="22.899999999999977" fill="#c58c8b"/><rect x="183.00" y="472.8" width="1.50" height="22.899999999999977" fill="#c58c8b"/><rect x="184.50" y="472.8" width="1.50" height="22.899999999999977" fill="#c7918f"/><rect x="186.00" y="472.8" width="1.50" height="22.899999999999977" fill="#c58c8b"/><rect x="187.50" y="472.8" width="1.50" height="22.899999999999977" fill="#c9a0a0"/><rect x="189.00" y="472.8" width="1.50" height="22.899999999999977" fill="#c9a0a0"/><rect x="190.50" y="472.8" width="1.50" height="22.899999999999977" fill="#c07c7a"/><rect x="192.00" y="472.8" width="1.50" height="22.899999999999977" fill="#c9a0a0"/><rect x="193.50" y="472.8" width="1.50" height="22.899999999999977" fill="#c48686"/><rect x="195.00" y="472.8" width="1.50" height="22.899999999999977" fill="#c58c8b"/><rect x="196.50" y="472.8" width="1.50" height="22.899999999999977" fill="#c07c7a"/><rect x="198.00" y="472.8" width="1.50" height="22.899999999999977" fill="#c07c7a"/><rect x="199.50" y="472.8" width="1.50" height="22.899999999999977" fill="#c07c7a"/><rect x="201.00" y="472.8" width="1.50" height="22.899999999999977" fill="#c58c8b"/><rect x="202.50" y="472.8" width="1.50" height="22.899999999999977" fill="#c58c8b"/><rect x="204.00" y="472.8" width="1.50" height="22.899999999999977" fill="#c07c7a"/><rect x="205.50" y="472.8" width="1.50" height="22.899999999999977" fill="#c7918f"/><rect x="207.00" y="472.8" width="1.50" height="22.899999999999977" fill="#c7918f"/><rect x="208.50" y="472.8" width="1.50" height="22.899999999999977" fill="#c7918f"/><rect x="210.00" y="472.8" width="1.50" height="22.899999999999977" fill="#c7918f"/><rect x="211.50" y="472.8" width="1.50" height="22.899999999999977" fill="#c48686"/><rect x="213.00" y="472.8" width="1.50" height="22.899999999999977" fill="#c58c8b"/><rect x="214.50" y="472.8" width="1.50" height="22.899999999999977" fill="#c07c7a"/><rect x="216.00" y="472.8" width="1.50" height="22.899999999999977" fill="#c07c7a"/><rect x="217.50" y="472.8" width="1.50" height="22.899999999999977" fill="#c7918f"/><rect x="219.00" y="472.8" width="1.50" height="22.899999999999977" fill="#c07c7a"/><rect x="220.50" y="472.8" width="1.50" height="22.899999999999977" fill="#c07c7a"/><rect x="222.00" y="472.8" width="1.50" height="22.899999999999977" fill="#c9a0a0"/><rect x="223.50" y="472.8" width="1.50" height="22.899999999999977" fill="#c7918f"/><rect x="225.00" y="472.8" width="1.50" height="22.899999999999977" fill="#c48686"/><rect x="226.50" y="472.8" width="1.50" height="22.899999999999977" fill="#c48686"/><rect x="228.00" y="472.8" width="1.50" height="22.899999999999977" fill="#c58c8b"/><rect x="229.50" y="472.8" width="1.50" height="22.899999999999977" fill="#c58c8b"/><rect x="231.00" y="472.8" width="1.50" height="22.899999999999977" fill="#c7918f"/><rect x="232.50" y="472.8" width="1.50" height="22.899999999999977" fill="#c9a0a0"/><rect x="234.00" y="472.8" width="1.50" height="22.899999999999977" fill="#c58c8b"/><rect x="235.50" y="472.8" width="1.50" height="22.899999999999977" fill="#c7918f"/><rect x="237.00" y="472.8" width="1.50" height="22.899999999999977" fill="#c7918f"/><rect x="238.50" y="472.8" width="1.50" height="22.899999999999977" fill="#c58c8b"/><rect x="240.00" y="472.8" width="1.50" height="22.899999999999977" fill="#c07c7a"/><rect x="241.50" y="472.8" width="1.50" height="22.899999999999977" fill="#c07c7a"/><rect x="243.00" y="472.8" width="1.50" height="22.899999999999977" fill="#c07c7a"/><rect x="244.50" y="472.8" width="1.50" height="22.899999999999977" fill="#c58c8b"/><rect x="246.00" y="472.8" width="1.50" height="22.899999999999977" fill="#c58c8b"/><rect x="247.50" y="472.8" width="1.50" height="22.899999999999977" fill="#c7918f"/><rect x="249.00" y="472.8" width="1.50" height="22.899999999999977" fill="#c07c7a"/><rect x="250.50" y="472.8" width="1.50" height="22.899999999999977" fill="#c7918f"/><rect x="252.00" y="472.8" width="1.50" height="22.899999999999977" fill="#c58c8b"/><rect x="253.50" y="472.8" width="1.50" height="22.899999999999977" fill="#c9a0a0"/><rect x="255.00" y="472.8" width="1.50" height="22.899999999999977" fill="#c7918f"/><rect x="256.50" y="472.8" width="1.50" height="22.899999999999977" fill="#c7918f"/><rect x="258.00" y="472.8" width="1.50" height="22.899999999999977" fill="#c07c7a"/><rect x="259.50" y="472.8" width="1.50" height="22.899999999999977" fill="#c58c8b"/><rect x="261.00" y="472.8" width="1.50" height="22.899999999999977" fill="#c07c7a"/><rect x="262.50" y="472.8" width="1.50" height="22.899999999999977" fill="#c9a0a0"/><rect x="264.00" y="472.8" width="1.50" height="22.899999999999977" fill="#c9a0a0"/><rect x="265.50" y="472.8" width="1.50" height="22.899999999999977" fill="#c7918f"/><rect x="267.00" y="472.8" width="1.50" height="22.899999999999977" fill="#c48686"/><rect x="268.50" y="472.8" width="1.50" height="22.899999999999977" fill="#c58c8b"/><rect x="270.00" y="472.8" width="1.50" height="22.899999999999977" fill="#c07c7a"/><rect x="271.50" y="472.8" width="1.50" height="22.899999999999977" fill="#c7918f"/><rect x="273.00" y="472.8" width="1.50" height="22.899999999999977" fill="#c9a0a0"/><rect x="274.50" y="472.8" width="1.50" height="22.899999999999977" fill="#c48686"/><rect x="276.00" y="472.8" width="1.50" height="22.899999999999977" fill="#c48686"/><rect x="277.50" y="472.8" width="1.50" height="22.899999999999977" fill="#c7918f"/><rect x="279.00" y="472.8" width="1.50" height="22.899999999999977" fill="#c7918f"/><rect x="280.50" y="472.8" width="1.50" height="22.899999999999977" fill="#c07c7a"/><rect x="282.00" y="472.8" width="1.50" height="22.899999999999977" fill="#c07c7a"/><rect x="283.50" y="472.8" width="1.50" height="22.899999999999977" fill="#c58c8b"/><rect x="285.00" y="472.8" width="1.50" height="22.899999999999977" fill="#c07c7a"/><rect x="286.50" y="472.8" width="1.50" height="22.899999999999977" fill="#c07c7a"/><rect x="288.00" y="472.8" width="1.50" height="22.899999999999977" fill="#c9a0a0"/><rect x="289.50" y="472.8" width="1.50" height="22.899999999999977" fill="#c07c7a"/><rect x="291.00" y="472.8" width="1.50" height="22.899999999999977" fill="#c07c7a"/><rect x="292.50" y="472.8" width="1.50" height="22.899999999999977" fill="#c07c7a"/><rect x="294.00" y="472.8" width="1.50" height="22.899999999999977" fill="#c07c7a"/><rect x="295.50" y="472.8" width="1.50" height="22.899999999999977" fill="#c9a0a0"/><rect x="297.00" y="472.8" width="1.50" height="22.899999999999977" fill="#c7918f"/><rect x="298.50" y="472.8" width="1.50" height="22.899999999999977" fill="#c7918f"/><rect x="300.00" y="472.8" width="1.50" height="22.899999999999977" fill="#c48686"/><rect x="301.50" y="472.8" width="1.50" height="22.899999999999977" fill="#c7918f"/><rect x="303.00" y="472.8" width="1.50" height="22.899999999999977" fill="#c48686"/><rect x="304.50" y="472.8" width="1.50" height="22.899999999999977" fill="#c58c8b"/><rect x="306.00" y="472.8" width="1.50" height="22.899999999999977" fill="#c9a0a0"/><rect x="307.50" y="472.8" width="1.50" height="22.899999999999977" fill="#c7918f"/><rect x="309.00" y="472.8" width="1.50" height="22.899999999999977" fill="#c58c8b"/><rect x="310.50" y="472.8" width="1.50" height="22.899999999999977" fill="#c7918f"/><rect x="312.00" y="472.8" width="1.50" height="22.899999999999977" fill="#c07c7a"/><rect x="313.50" y="472.8" width="1.50" height="22.899999999999977" fill="#c7918f"/><rect x="315.00" y="472.8" width="1.50" height="22.899999999999977" fill="#c9a0a0"/><rect x="316.50" y="472.8" width="1.50" height="22.899999999999977" fill="#c48686"/><rect x="318.00" y="472.8" width="1.50" height="22.899999999999977" fill="#c7918f"/><rect x="319.50" y="472.8" width="1.50" height="22.899999999999977" fill="#c9a0a0"/><rect x="321.00" y="472.8" width="1.50" height="22.899999999999977" fill="#c58c8b"/><rect x="322.50" y="472.8" width="1.50" height="22.899999999999977" fill="#c07c7a"/><rect x="324.00" y="472.8" width="1.50" height="22.899999999999977" fill="#c48686"/><rect x="325.50" y="472.8" width="1.50" height="22.899999999999977" fill="#c48686"/><rect x="327.00" y="472.8" width="1.50" height="22.899999999999977" fill="#c07c7a"/><rect x="328.50" y="472.8" width="1.50" height="22.899999999999977" fill="#c9a0a0"/><rect x="330.00" y="472.8" width="1.50" height="22.899999999999977" fill="#c9a0a0"/><rect x="331.50" y="472.8" width="1.50" height="22.899999999999977" fill="#c7918f"/><rect x="333.00" y="472.8" width="1.50" height="22.899999999999977" fill="#c48686"/><rect x="334.50" y="472.8" width="1.50" height="22.899999999999977" fill="#c58c8b"/><rect x="336.00" y="472.8" width="1.50" height="22.899999999999977" fill="#c07c7a"/><rect x="337.50" y="472.8" width="1.50" height="22.899999999999977" fill="#c48686"/><rect x="339.00" y="472.8" width="1.50" height="22.899999999999977" fill="#c48686"/><rect x="340.50" y="472.8" width="1.50" height="22.899999999999977" fill="#c58c8b"/><rect x="342.00" y="472.8" width="1.50" height="22.899999999999977" fill="#c9a0a0"/><rect x="343.50" y="472.8" width="1.50" height="22.899999999999977" fill="#c58c8b"/><rect x="345.00" y="472.8" width="1.50" height="22.899999999999977" fill="#c58c8b"/><rect x="346.50" y="472.8" width="1.50" height="22.899999999999977" fill="#c7918f"/><rect x="348.00" y="472.8" width="1.50" height="22.899999999999977" fill="#c7918f"/><rect x="349.50" y="472.8" width="1.50" height="22.899999999999977" fill="#c9a0a0"/><rect x="351.00" y="472.8" width="1.50" height="22.899999999999977" fill="#c07c7a"/><rect x="352.50" y="472.8" width="1.50" height="22.899999999999977" fill="#c07c7a"/><rect x="354.00" y="472.8" width="1.50" height="22.899999999999977" fill="#c07c7a"/><rect x="355.50" y="472.8" width="1.50" height="22.899999999999977" fill="#c58c8b"/><rect x="357.00" y="472.8" width="1.50" height="22.899999999999977" fill="#c48686"/><rect x="358.50" y="472.8" width="1.50" height="22.899999999999977" fill="#c58c8b"/><rect x="360.00" y="472.8" width="1.50" height="22.899999999999977" fill="#c07c7a"/><rect x="361.50" y="472.8" width="1.50" height="22.899999999999977" fill="#c48686"/><rect x="363.00" y="472.8" width="1.50" height="22.899999999999977" fill="#c58c8b"/><rect x="364.50" y="472.8" width="1.50" height="22.899999999999977" fill="#c7918f"/><rect x="366.00" y="472.8" width="1.50" height="22.899999999999977" fill="#c48686"/><rect x="367.50" y="472.8" width="1.50" height="22.899999999999977" fill="#c48686"/><rect x="369.00" y="472.8" width="1.50" height="22.899999999999977" fill="#c9a0a0"/><rect x="370.50" y="472.8" width="1.50" height="22.899999999999977" fill="#c48686"/><rect x="372.00" y="472.8" width="1.50" height="22.899999999999977" fill="#c48686"/><rect x="373.50" y="472.8" width="1.50" height="22.899999999999977" fill="#c7918f"/><rect x="375.00" y="472.8" width="1.50" height="22.899999999999977" fill="#c07c7a"/><rect x="376.50" y="472.8" width="1.50" height="22.899999999999977" fill="#c9a0a0"/><rect x="378.00" y="472.8" width="1.50" height="22.899999999999977" fill="#c58c8b"/><rect x="379.50" y="472.8" width="1.50" height="22.899999999999977" fill="#c48686"/><rect x="381.00" y="472.8" width="1.50" height="22.899999999999977" fill="#c9a0a0"/><rect x="382.50" y="472.8" width="1.50" height="22.899999999999977" fill="#c7918f"/><rect x="384.00" y="472.8" width="1.50" height="22.899999999999977" fill="#c9a0a0"/><rect x="385.50" y="472.8" width="1.50" height="22.899999999999977" fill="#c48686"/><rect x="387.00" y="472.8" width="1.50" height="22.899999999999977" fill="#c58c8b"/><rect x="388.50" y="472.8" width="1.50" height="22.899999999999977" fill="#c7918f"/><rect x="390.00" y="472.8" width="1.50" height="22.899999999999977" fill="#c7918f"/><rect x="391.50" y="472.8" width="1.50" height="22.899999999999977" fill="#c48686"/><rect x="393.00" y="472.8" width="1.50" height="22.899999999999977" fill="#c48686"/><rect x="394.50" y="472.8" width="1.50" height="22.899999999999977" fill="#c48686"/><rect x="396.00" y="472.8" width="1.50" height="22.899999999999977" fill="#c58c8b"/><rect x="397.50" y="472.8" width="1.50" height="22.899999999999977" fill="#c9a0a0"/><rect x="399.00" y="472.8" width="1.50" height="22.899999999999977" fill="#c48686"/><rect x="400.50" y="472.8" width="1.50" height="22.899999999999977" fill="#c07c7a"/><rect x="402.00" y="472.8" width="1.50" height="22.899999999999977" fill="#c9a0a0"/><rect x="403.50" y="472.8" width="1.50" height="22.899999999999977" fill="#c58c8b"/><rect x="405.00" y="472.8" width="1.50" height="22.899999999999977" fill="#c07c7a"/><rect x="406.50" y="472.8" width="1.50" height="22.899999999999977" fill="#c7918f"/><rect x="408.00" y="472.8" width="1.50" height="22.899999999999977" fill="#c9a0a0"/><rect x="409.50" y="472.8" width="1.50" height="22.899999999999977" fill="#c48686"/><rect x="411.00" y="472.8" width="1.50" height="22.899999999999977" fill="#c48686"/><rect x="412.50" y="472.8" width="1.50" height="22.899999999999977" fill="#c58c8b"/><rect x="414.00" y="472.8" width="1.50" height="22.899999999999977" fill="#c7918f"/><rect x="415.50" y="472.8" width="1.50" height="22.899999999999977" fill="#c9a0a0"/><rect x="417.00" y="472.8" width="1.50" height="22.899999999999977" fill="#c9a0a0"/><rect x="418.50" y="472.8" width="1.50" height="22.899999999999977" fill="#c7918f"/><rect x="420.00" y="472.8" width="1.50" height="22.899999999999977" fill="#c9a0a0"/><rect x="421.50" y="472.8" width="1.50" height="22.899999999999977" fill="#c07c7a"/><rect x="423.00" y="472.8" width="1.50" height="22.899999999999977" fill="#c48686"/><rect x="424.50" y="472.8" width="1.50" height="22.899999999999977" fill="#c48686"/><rect x="426.00" y="472.8" width="1.50" height="22.899999999999977" fill="#c58c8b"/><rect x="427.50" y="472.8" width="1.50" height="22.899999999999977" fill="#c07c7a"/><rect x="429.00" y="472.8" width="1.50" height="22.899999999999977" fill="#c7918f"/><rect x="430.50" y="472.8" width="1.50" height="22.899999999999977" fill="#c07c7a"/><rect x="432.00" y="472.8" width="1.50" height="22.899999999999977" fill="#c7918f"/><rect x="433.50" y="472.8" width="1.50" height="22.899999999999977" fill="#c48686"/><rect x="435.00" y="472.8" width="1.50" height="22.899999999999977" fill="#c07c7a"/><rect x="436.50" y="472.8" width="1.50" height="22.899999999999977" fill="#c48686"/><rect x="438.00" y="472.8" width="1.50" height="22.899999999999977" fill="#c9a0a0"/><rect x="439.50" y="472.8" width="1.50" height="22.899999999999977" fill="#c9a0a0"/><rect x="441.00" y="472.8" width="1.50" height="22.899999999999977" fill="#c07c7a"/><rect x="442.50" y="472.8" width="1.50" height="22.899999999999977" fill="#c9a0a0"/><rect x="444.00" y="472.8" width="1.50" height="22.899999999999977" fill="#c07c7a"/><rect x="445.50" y="472.8" width="1.50" height="22.899999999999977" fill="#c07c7a"/><rect x="447.00" y="472.8" width="1.50" height="22.899999999999977" fill="#c9a0a0"/><rect x="448.50" y="472.8" width="1.50" height="22.899999999999977" fill="#c58c8b"/><rect x="450.00" y="472.8" width="1.50" height="22.899999999999977" fill="#c48686"/><rect x="451.50" y="472.8" width="1.50" height="22.899999999999977" fill="#c9a0a0"/><rect x="453.00" y="472.8" width="1.50" height="22.899999999999977" fill="#c48686"/><rect x="454.50" y="472.8" width="1.50" height="22.899999999999977" fill="#c9a0a0"/><rect x="456.00" y="472.8" width="1.50" height="22.899999999999977" fill="#c58c8b"/><rect x="457.50" y="472.8" width="1.50" height="22.899999999999977" fill="#c58c8b"/><rect x="459.00" y="472.8" width="1.50" height="22.899999999999977" fill="#c07c7a"/><rect x="460.50" y="472.8" width="1.50" height="22.899999999999977" fill="#c07c7a"/><rect x="462.00" y="472.8" width="1.50" height="22.899999999999977" fill="#c48686"/><rect x="463.50" y="472.8" width="1.50" height="22.899999999999977" fill="#c58c8b"/><rect x="465.00" y="472.8" width="1.50" height="22.899999999999977" fill="#c7918f"/><rect x="466.50" y="472.8" width="1.50" height="22.899999999999977" fill="#c7918f"/><rect x="468.00" y="472.8" width="1.50" height="22.899999999999977" fill="#c07c7a"/><rect x="469.50" y="472.8" width="1.50" height="22.899999999999977" fill="#c7918f"/><rect x="471.00" y="472.8" width="1.50" height="22.899999999999977" fill="#c07c7a"/><rect x="472.50" y="472.8" width="1.50" height="22.899999999999977" fill="#c48686"/><rect x="474.00" y="472.8" width="1.50" height="22.899999999999977" fill="#c58c8b"/><rect x="475.50" y="472.8" width="1.50" height="22.899999999999977" fill="#c9a0a0"/><rect x="477.00" y="472.8" width="1.50" height="22.899999999999977" fill="#c9a0a0"/><rect x="478.50" y="472.8" width="1.50" height="22.899999999999977" fill="#c7918f"/><rect x="480.00" y="472.8" width="1.50" height="22.899999999999977" fill="#c58c8b"/><rect x="481.50" y="472.8" width="1.50" height="22.899999999999977" fill="#c58c8b"/><rect x="483.00" y="472.8" width="1.50" height="22.899999999999977" fill="#c48686"/><rect x="484.50" y="472.8" width="1.50" height="22.899999999999977" fill="#c07c7a"/><rect x="486.00" y="472.8" width="1.50" height="22.899999999999977" fill="#c9a0a0"/><rect x="487.50" y="472.8" width="1.50" height="22.899999999999977" fill="#c48686"/><rect x="489.00" y="472.8" width="1.50" height="22.899999999999977" fill="#c7918f"/><rect x="490.50" y="472.8" width="1.50" height="22.899999999999977" fill="#c58c8b"/><rect x="492.00" y="472.8" width="1.50" height="22.899999999999977" fill="#c58c8b"/><rect x="493.50" y="472.8" width="1.50" height="22.899999999999977" fill="#c9a0a0"/><rect x="495.00" y="472.8" width="1.50" height="22.899999999999977" fill="#c48686"/><rect x="496.50" y="472.8" width="1.50" height="22.899999999999977" fill="#c9a0a0"/><rect x="498.00" y="472.8" width="1.50" height="22.899999999999977" fill="#c9a0a0"/><rect x="499.50" y="472.8" width="1.50" height="22.899999999999977" fill="#c9a0a0"/><rect x="501.00" y="472.8" width="1.50" height="22.899999999999977" fill="#c9a0a0"/><rect x="502.50" y="472.8" width="1.50" height="22.899999999999977" fill="#c48686"/><rect x="504.00" y="472.8" width="1.50" height="22.899999999999977" fill="#c58c8b"/><rect x="505.50" y="472.8" width="1.50" height="22.899999999999977" fill="#c7918f"/><rect x="507.00" y="472.8" width="1.50" height="22.899999999999977" fill="#c48686"/><rect x="508.50" y="472.8" width="1.50" height="22.899999999999977" fill="#c48686"/><rect x="510.00" y="472.8" width="1.50" height="22.899999999999977" fill="#c9a0a0"/><rect x="511.50" y="472.8" width="1.50" height="22.899999999999977" fill="#c7918f"/><rect x="513.00" y="472.8" width="1.50" height="22.899999999999977" fill="#c7918f"/><rect x="514.50" y="472.8" width="1.50" height="22.899999999999977" fill="#c7918f"/><rect x="516.00" y="472.8" width="1.50" height="22.899999999999977" fill="#c58c8b"/><rect x="517.50" y="472.8" width="1.50" height="22.899999999999977" fill="#c48686"/><rect x="519.00" y="472.8" width="1.50" height="22.899999999999977" fill="#c48686"/><rect x="520.50" y="472.8" width="1.50" height="22.899999999999977" fill="#c9a0a0"/><rect x="522.00" y="472.8" width="1.50" height="22.899999999999977" fill="#c58c8b"/><rect x="523.50" y="472.8" width="1.50" height="22.899999999999977" fill="#c07c7a"/><rect x="525.00" y="472.8" width="1.50" height="22.899999999999977" fill="#c58c8b"/><rect x="526.50" y="472.8" width="1.50" height="22.899999999999977" fill="#c48686"/><rect x="528.00" y="472.8" width="1.50" height="22.899999999999977" fill="#c7918f"/><rect x="529.50" y="472.8" width="1.50" height="22.899999999999977" fill="#c9a0a0"/><rect x="531.00" y="472.8" width="1.50" height="22.899999999999977" fill="#c48686"/><rect x="532.50" y="472.8" width="1.50" height="22.899999999999977" fill="#c07c7a"/><rect x="534.00" y="472.8" width="1.50" height="22.899999999999977" fill="#c7918f"/><rect x="535.50" y="472.8" width="1.50" height="22.899999999999977" fill="#c9a0a0"/><rect x="537.00" y="472.8" width="1.50" height="22.899999999999977" fill="#c07c7a"/><rect x="538.50" y="472.8" width="1.50" height="22.899999999999977" fill="#c07c7a"/><rect x="540.00" y="472.8" width="1.50" height="22.899999999999977" fill="#c58c8b"/><rect x="541.50" y="472.8" width="1.50" height="22.899999999999977" fill="#c58c8b"/><rect x="543.00" y="472.8" width="1.50" height="22.899999999999977" fill="#c58c8b"/><rect x="544.50" y="472.8" width="1.50" height="22.899999999999977" fill="#c7918f"/><rect x="546.00" y="472.8" width="1.50" height="22.899999999999977" fill="#c48686"/><rect x="547.50" y="472.8" width="1.50" height="22.899999999999977" fill="#c07c7a"/><rect x="549.00" y="472.8" width="1.50" height="22.899999999999977" fill="#c58c8b"/><rect x="550.50" y="472.8" width="1.50" height="22.899999999999977" fill="#c9a0a0"/><rect x="552.00" y="472.8" width="1.50" height="22.899999999999977" fill="#c07c7a"/><rect x="553.50" y="472.8" width="1.50" height="22.899999999999977" fill="#c9a0a0"/><rect x="555.00" y="472.8" width="1.50" height="22.899999999999977" fill="#c58c8b"/><rect x="556.50" y="472.8" width="1.50" height="22.899999999999977" fill="#c7918f"/><rect x="558.00" y="472.8" width="1.50" height="22.899999999999977" fill="#c48686"/><rect x="559.50" y="472.8" width="1.50" height="22.899999999999977" fill="#c58c8b"/><rect x="561.00" y="472.8" width="1.50" height="22.899999999999977" fill="#c48686"/><rect x="562.50" y="472.8" width="1.50" height="22.899999999999977" fill="#c7918f"/><rect x="564.00" y="472.8" width="1.50" height="22.899999999999977" fill="#c48686"/><rect x="565.50" y="472.8" width="1.50" height="22.899999999999977" fill="#c48686"/><rect x="567.00" y="472.8" width="1.50" height="22.899999999999977" fill="#c9a0a0"/><rect x="568.50" y="472.8" width="1.50" height="22.899999999999977" fill="#c9a0a0"/><rect x="570.00" y="472.8" width="1.50" height="22.899999999999977" fill="#c9a0a0"/><rect x="571.50" y="472.8" width="1.50" height="22.899999999999977" fill="#c07c7a"/><rect x="573.00" y="472.8" width="1.50" height="22.899999999999977" fill="#c58c8b"/><rect x="574.50" y="472.8" width="1.50" height="22.899999999999977" fill="#c48686"/><rect x="576.00" y="472.8" width="1.50" height="22.899999999999977" fill="#c7918f"/><rect x="577.50" y="472.8" width="1.50" height="22.899999999999977" fill="#c58c8b"/><rect x="579.00" y="472.8" width="1.50" height="22.899999999999977" fill="#c9a0a0"/><rect x="580.50" y="472.8" width="1.50" height="22.899999999999977" fill="#c07c7a"/><rect x="582.00" y="472.8" width="1.50" height="22.899999999999977" fill="#c07c7a"/><rect x="583.50" y="472.8" width="1.50" height="22.899999999999977" fill="#c58c8b"/><rect x="585.00" y="472.8" width="1.50" height="22.899999999999977" fill="#c7918f"/><rect x="586.50" y="472.8" width="1.50" height="22.899999999999977" fill="#c07c7a"/><rect x="588.00" y="472.8" width="1.50" height="22.899999999999977" fill="#c9a0a0"/><rect x="589.50" y="472.8" width="1.50" height="22.899999999999977" fill="#c58c8b"/><rect x="591.00" y="472.8" width="1.50" height="22.899999999999977" fill="#c07c7a"/><rect x="592.50" y="472.8" width="1.50" height="22.899999999999977" fill="#c9a0a0"/><rect x="594.00" y="472.8" width="1.50" height="22.899999999999977" fill="#c7918f"/><rect x="595.50" y="472.8" width="1.50" height="22.899999999999977" fill="#c58c8b"/><rect x="597.00" y="472.8" width="1.50" height="22.899999999999977" fill="#c9a0a0"/><rect x="598.50" y="472.8" width="1.50" height="22.899999999999977" fill="#c48686"/><rect x="600.00" y="472.8" width="1.50" height="22.899999999999977" fill="#c9a0a0"/><rect x="601.50" y="472.8" width="1.50" height="22.899999999999977" fill="#c07c7a"/><rect x="603.00" y="472.8" width="1.50" height="22.899999999999977" fill="#c9a0a0"/><rect x="604.50" y="472.8" width="1.50" height="22.899999999999977" fill="#c9a0a0"/><rect x="606.00" y="472.8" width="1.50" height="22.899999999999977" fill="#c48686"/><rect x="607.50" y="472.8" width="1.50" height="22.899999999999977" fill="#c07c7a"/><rect x="609.00" y="472.8" width="1.50" height="22.899999999999977" fill="#c58c8b"/><rect x="610.50" y="472.8" width="1.50" height="22.899999999999977" fill="#c9a0a0"/><rect x="612.00" y="472.8" width="1.50" height="22.899999999999977" fill="#c48686"/><rect x="613.50" y="472.8" width="1.50" height="22.899999999999977" fill="#c48686"/><rect x="615.00" y="472.8" width="1.50" height="22.899999999999977" fill="#c7918f"/><rect x="616.50" y="472.8" width="1.50" height="22.899999999999977" fill="#c9a0a0"/><rect x="618.00" y="472.8" width="1.50" height="22.899999999999977" fill="#c9a0a0"/><rect x="619.50" y="472.8" width="1.50" height="22.899999999999977" fill="#c48686"/><rect x="621.00" y="472.8" width="1.50" height="22.899999999999977" fill="#c9a0a0"/><rect x="622.50" y="472.8" width="1.50" height="22.899999999999977" fill="#c48686"/><rect x="624.00" y="472.8" width="1.50" height="22.899999999999977" fill="#c48686"/><rect x="625.50" y="472.8" width="1.50" height="22.899999999999977" fill="#c9a0a0"/><rect x="627.00" y="472.8" width="1.50" height="22.899999999999977" fill="#c7918f"/><rect x="628.50" y="472.8" width="1.50" height="22.899999999999977" fill="#c07c7a"/><rect x="630.00" y="472.8" width="1.50" height="22.899999999999977" fill="#c58c8b"/><rect x="631.50" y="472.8" width="1.50" height="22.899999999999977" fill="#c48686"/><rect x="633.00" y="472.8" width="1.50" height="22.899999999999977" fill="#c58c8b"/><rect x="634.50" y="472.8" width="1.50" height="22.899999999999977" fill="#c48686"/><rect x="636.00" y="472.8" width="1.50" height="22.899999999999977" fill="#c07c7a"/><rect x="637.50" y="472.8" width="1.50" height="22.899999999999977" fill="#c9a0a0"/><rect x="639.00" y="472.8" width="1.50" height="22.899999999999977" fill="#c7918f"/><rect x="640.50" y="472.8" width="1.50" height="22.899999999999977" fill="#c07c7a"/><rect x="642.00" y="472.8" width="1.50" height="22.899999999999977" fill="#c9a0a0"/><rect x="643.50" y="472.8" width="1.50" height="22.899999999999977" fill="#c58c8b"/><rect x="645.00" y="472.8" width="1.50" height="22.899999999999977" fill="#c48686"/><rect x="646.50" y="472.8" width="1.50" height="22.899999999999977" fill="#c58c8b"/><rect x="648.00" y="472.8" width="1.50" height="22.899999999999977" fill="#c48686"/><rect x="649.50" y="472.8" width="1.50" height="22.899999999999977" fill="#c7918f"/><rect x="651.00" y="472.8" width="1.50" height="22.899999999999977" fill="#c9a0a0"/><rect x="652.50" y="472.8" width="1.50" height="22.899999999999977" fill="#c48686"/><rect x="654.00" y="472.8" width="1.50" height="22.899999999999977" fill="#c9a0a0"/><rect x="655.50" y="472.8" width="1.50" height="22.899999999999977" fill="#c48686"/><rect x="657.00" y="472.8" width="1.50" height="22.899999999999977" fill="#c58c8b"/><rect x="658.50" y="472.8" width="1.50" height="22.899999999999977" fill="#c9a0a0"/><rect x="660.00" y="472.8" width="1.50" height="22.899999999999977" fill="#c7918f"/><rect x="661.50" y="472.8" width="1.50" height="22.899999999999977" fill="#c9a0a0"/><rect x="663.00" y="472.8" width="1.50" height="22.899999999999977" fill="#c48686"/><rect x="664.50" y="472.8" width="1.50" height="22.899999999999977" fill="#c7918f"/><rect x="666.00" y="472.8" width="1.50" height="22.899999999999977" fill="#c7918f"/><rect x="667.50" y="472.8" width="1.50" height="22.899999999999977" fill="#c58c8b"/><rect x="669.00" y="472.8" width="1.50" height="22.899999999999977" fill="#c58c8b"/><rect x="670.50" y="472.8" width="1.50" height="22.899999999999977" fill="#c9a0a0"/><rect x="672.00" y="472.8" width="1.50" height="22.899999999999977" fill="#c9a0a0"/><rect x="673.50" y="472.8" width="1.50" height="22.899999999999977" fill="#c58c8b"/><rect x="675.00" y="472.8" width="1.50" height="22.899999999999977" fill="#c9a0a0"/><rect x="676.50" y="472.8" width="1.50" height="22.899999999999977" fill="#c9a0a0"/><rect x="678.00" y="472.8" width="1.50" height="22.899999999999977" fill="#c07c7a"/><rect x="679.50" y="472.8" width="1.50" height="22.899999999999977" fill="#c7918f"/><rect x="681.00" y="472.8" width="1.50" height="22.899999999999977" fill="#c58c8b"/><rect x="682.50" y="472.8" width="1.50" height="22.899999999999977" fill="#c7918f"/><rect x="684.00" y="472.8" width="1.00" height="22.899999999999977" fill="#c58c8b"/><rect x="58.84" y="472.8" width="0.73" height="22.899999999999977" fill="#c9a7a7"/><rect x="63.22" y="472.8" width="1.46" height="22.899999999999977" fill="#c9a7a7"/><rect x="74.17" y="472.8" width="2.19" height="22.899999999999977" fill="#bf716e"/><rect x="79.28" y="472.8" width="1.46" height="22.899999999999977" fill="#b95753"/><rect x="85.85" y="472.8" width="1.46" height="22.899999999999977" fill="#c9a7a7"/><rect x="89.50" y="472.8" width="3.65" height="22.899999999999977" fill="#bf716e"/><rect x="102.64" y="472.8" width="1.46" height="22.899999999999977" fill="#b95753"/><rect x="105.55" y="472.8" width="2.92" height="22.899999999999977" fill="#c9a7a7"/><rect x="111.39" y="472.8" width="1.46" height="22.899999999999977" fill="#bf716e"/><rect x="124.53" y="472.8" width="1.46" height="22.899999999999977" fill="#c9a7a7"/><rect x="127.45" y="472.8" width="1.46" height="22.899999999999977" fill="#c9a7a7"/><rect x="131.83" y="472.8" width="1.46" height="22.899999999999977" fill="#bf716e"/><rect x="140.59" y="472.8" width="1.46" height="22.899999999999977" fill="#bf716e"/><rect x="144.97" y="472.8" width="1.46" height="22.899999999999977" fill="#bf716e"/><rect x="148.62" y="472.8" width="1.46" height="22.899999999999977" fill="#c9a7a7"/><rect x="153.65" y="472.8" width="1.46" height="22.899999999999977" fill="#c9a7a7"/><rect x="158.76" y="472.8" width="1.46" height="22.899999999999977" fill="#c9a7a7"/><rect x="166.06" y="472.8" width="2.92" height="22.899999999999977" fill="#bf716e"/><rect x="173.36" y="472.8" width="2.19" height="22.899999999999977" fill="#b95753"/><rect x="176.28" y="472.8" width="4.38" height="22.899999999999977" fill="#c9a7a7"/><rect x="181.39" y="472.8" width="1.46" height="22.899999999999977" fill="#c9a7a7"/><rect x="183.58" y="472.8" width="0.73" height="22.899999999999977" fill="#b95753"/><rect x="185.04" y="472.8" width="2.92" height="22.899999999999977" fill="#bf716e"/><rect x="193.80" y="472.8" width="2.19" height="22.899999999999977" fill="#c9a7a7"/><rect x="198.18" y="472.8" width="4.38" height="22.899999999999977" fill="#bf716e"/><rect x="203.28" y="472.8" width="1.46" height="22.899999999999977" fill="#bf716e"/><rect x="205.47" y="472.8" width="2.92" height="22.899999999999977" fill="#bf716e"/><rect x="209.12" y="472.8" width="2.19" height="22.899999999999977" fill="#b95753"/><rect x="215.69" y="472.8" width="2.92" height="22.899999999999977" fill="#c9a7a7"/><rect x="225.91" y="472.8" width="1.46" height="22.899999999999977" fill="#c9a7a7"/><rect x="231.75" y="472.8" width="2.92" height="22.899999999999977" fill="#b95753"/><rect x="237.59" y="472.8" width="2.92" height="22.899999999999977" fill="#c9a7a7"/><rect x="243.43" y="472.8" width="2.92" height="22.899999999999977" fill="#bf716e"/><rect x="250.00" y="472.8" width="5.84" height="22.899999999999977" fill="#c9a7a7"/><rect x="255.84" y="472.8" width="2.19" height="22.899999999999977" fill="#b95753"/><rect x="258.76" y="472.8" width="2.92" height="22.899999999999977" fill="#c9a7a7"/><rect x="267.52" y="472.8" width="2.19" height="22.899999999999977" fill="#c9a7a7"/><rect x="269.71" y="472.8" width="3.65" height="22.899999999999977" fill="#bf716e"/><rect x="279.20" y="472.8" width="2.19" height="22.899999999999977" fill="#c9a7a7"/><rect x="286.50" y="472.8" width="1.46" height="22.899999999999977" fill="#c9a7a7"/><rect x="293.80" y="472.8" width="2.92" height="22.899999999999977" fill="#b95753"/><rect x="301.09" y="472.8" width="2.19" height="22.899999999999977" fill="#c9a7a7"/><rect x="305.47" y="472.8" width="2.92" height="22.899999999999977" fill="#b95753"/><rect x="314.23" y="472.8" width="4.38" height="22.899999999999977" fill="#c9a7a7"/><rect x="325.91" y="472.8" width="1.46" height="22.899999999999977" fill="#c9a7a7"/><rect x="331.75" y="472.8" width="5.84" height="22.899999999999977" fill="#bf716e"/><rect x="343.43" y="472.8" width="6.57" height="22.899999999999977" fill="#bf716e"/><rect x="350.00" y="472.8" width="2.92" height="22.899999999999977" fill="#bf716e"/><rect x="354.38" y="472.8" width="1.46" height="22.899999999999977" fill="#c9a7a7"/><rect x="363.87" y="472.8" width="1.46" height="22.899999999999977" fill="#bf716e"/><rect x="366.06" y="472.8" width="2.92" height="22.899999999999977" fill="#c9a7a7"/><rect x="369.71" y="472.8" width="1.46" height="22.899999999999977" fill="#c9a7a7"/><rect x="378.47" y="472.8" width="2.19" height="22.899999999999977" fill="#bf716e"/><rect x="383.58" y="472.8" width="2.92" height="22.899999999999977" fill="#c9a7a7"/><rect x="398.18" y="472.8" width="2.19" height="22.899999999999977" fill="#bf716e"/><rect x="402.55" y="472.8" width="3.65" height="22.899999999999977" fill="#bf716e"/><rect x="406.20" y="472.8" width="5.11" height="22.899999999999977" fill="#c9a7a7"/><rect x="417.15" y="472.8" width="5.84" height="22.899999999999977" fill="#c9a7a7"/><rect x="424.45" y="472.8" width="3.65" height="22.899999999999977" fill="#b95753"/><rect x="431.75" y="472.8" width="2.92" height="22.899999999999977" fill="#c9a7a7"/><rect x="443.43" y="472.8" width="2.92" height="22.899999999999977" fill="#bf716e"/><rect x="450.00" y="472.8" width="2.92" height="22.899999999999977" fill="#c9a7a7"/><rect x="457.30" y="472.8" width="1.46" height="22.899999999999977" fill="#bf716e"/><rect x="463.14" y="472.8" width="1.46" height="22.899999999999977" fill="#bf716e"/><rect x="467.52" y="472.8" width="2.19" height="22.899999999999977" fill="#bf716e"/><rect x="475.55" y="472.8" width="1.46" height="22.899999999999977" fill="#bf716e"/><rect x="479.20" y="472.8" width="2.19" height="22.899999999999977" fill="#c9a7a7"/><rect x="482.85" y="472.8" width="3.65" height="22.899999999999977" fill="#bf716e"/><rect x="491.61" y="472.8" width="2.92" height="22.899999999999977" fill="#ae2c31"/><rect x="495.99" y="472.8" width="1.46" height="22.899999999999977" fill="#ae2c31"/><rect x="498.18" y="472.8" width="7.30" height="22.899999999999977" fill="#c9a7a7"/><rect x="506.20" y="472.8" width="1.46" height="22.899999999999977" fill="#b95753"/><rect x="511.31" y="472.8" width="2.92" height="22.899999999999977" fill="#bf716e"/><rect x="517.15" y="472.8" width="2.92" height="22.899999999999977" fill="#c9a7a7"/><rect x="527.37" y="472.8" width="2.92" height="22.899999999999977" fill="#c9a7a7"/><rect x="533.21" y="472.8" width="2.92" height="22.899999999999977" fill="#c9a7a7"/><rect x="540.51" y="472.8" width="2.92" height="22.899999999999977" fill="#bf716e"/><rect x="546.35" y="472.8" width="3.65" height="22.899999999999977" fill="#c9a7a7"/><rect x="550.00" y="472.8" width="1.46" height="22.899999999999977" fill="#bf716e"/><rect x="552.92" y="472.8" width="2.92" height="22.899999999999977" fill="#c9a7a7"/><rect x="560.95" y="472.8" width="1.46" height="22.899999999999977" fill="#b95753"/><rect x="564.60" y="472.8" width="2.19" height="22.899999999999977" fill="#c9a7a7"/><rect x="571.90" y="472.8" width="2.19" height="22.899999999999977" fill="#c9a7a7"/><rect x="580.66" y="472.8" width="2.19" height="22.899999999999977" fill="#c9a7a7"/><rect x="586.50" y="472.8" width="1.46" height="22.899999999999977" fill="#c9a7a7"/><rect x="595.26" y="472.8" width="2.19" height="22.899999999999977" fill="#bf716e"/><rect x="599.64" y="472.8" width="2.92" height="22.899999999999977" fill="#c9a7a7"/><rect x="604.74" y="472.8" width="2.92" height="22.899999999999977" fill="#bf716e"/><rect x="608.39" y="472.8" width="5.84" height="22.899999999999977" fill="#c9a7a7"/><rect x="616.42" y="472.8" width="2.19" height="22.899999999999977" fill="#b95753"/><rect x="620.07" y="472.8" width="2.92" height="22.899999999999977" fill="#c9a7a7"/><rect x="626.64" y="472.8" width="5.11" height="22.899999999999977" fill="#b95753"/><rect x="633.21" y="472.8" width="1.46" height="22.899999999999977" fill="#bf716e"/><rect x="600.00" y="472.8" width="3.72" height="22.899999999999977" fill="#c9a7a7"/><rect x="608.68" y="472.8" width="4.96" height="22.899999999999977" fill="#c9a7a7"/><rect x="619.85" y="472.8" width="1.86" height="22.899999999999977" fill="#c9a7a7"/><rect x="635.98" y="472.8" width="2.48" height="22.899999999999977" fill="#bf716e"/><rect x="640.94" y="472.8" width="2.48" height="22.899999999999977" fill="#c9a7a7"/><rect x="648.39" y="472.8" width="1.86" height="22.899999999999977" fill="#bf716e"/><rect x="652.11" y="472.8" width="12.41" height="22.899999999999977" fill="#c9a7a7"/><rect x="665.76" y="472.8" width="1.24" height="22.899999999999977" fill="#bf716e"/><rect x="669.48" y="472.8" width="7.44" height="22.899999999999977" fill="#c9a7a7"/><rect x="679.40" y="472.8" width="2.48" height="22.899999999999977" fill="#bf716e"/><rect x="682.51" y="472.8" width="2.48" height="22.899999999999977" fill="#c9a7a7"/><g font-family='"Liberation Sans", sans-serif' font-size="9.65" fill="#333" text-anchor="end"><text x="50" y="392.9">Histology</text><text x="50" y="423.1">No. of WGD</text><text x="50" y="433.5">events</text><text x="50" y="452.4">WGD</text><text x="50" y="463.0">clonality</text><text x="50" y="477.7">No. of</text><text x="50" y="488.5">sequenced</text><text x="50" y="499.3">regions</text></g><g font-family='"Liberation Sans", sans-serif' font-size="9.6" fill="#333"><text x="165" y="515">Clonality</text><rect x="165.6" y="524.1" width="11" height="10.8" fill="#2e3d84"/><text x="180.8" y="533">Clonal</text><rect x="165.6" y="545" width="11" height="10.8" fill="#8b1a1f"/><text x="180.8" y="553.8">Subclonal</text><text x="235" y="515">Histology</text><rect x="234.2" y="524.1" width="11" height="10.8" fill="#2e3d84"/><text x="250" y="527.9">Invasive</text><text x="250" y="536.9">adenocarcinoma</text><rect x="234.2" y="545.3" width="11" height="10.8" fill="#8b1a1f"/><text x="250" y="549">Squamous</text><text x="250" y="558">cell carcinoma</text><rect x="234.2" y="565" width="11" height="10.8" fill="#a1a4a7"/><text x="250" y="573.3">Other</text><text x="335" y="515">No. of WGD events</text><rect x="335.2" y="524.1" width="11" height="10.8" fill="#b4b7ba"/><text x="351.5" y="533">1</text><rect x="335.2" y="545.3" width="11" height="10.8" fill="#2b55a6"/><text x="351.5" y="553.8">2</text><text x="426" y="515">WGD clonality</text><rect x="426" y="524.1" width="11" height="10.8" fill="#b4b7ba"/><text x="441.2" y="533">Clonal</text><rect x="426" y="545" width="11" height="10.8" fill="#2b55a6"/><text x="441.2" y="553.8">Subclonal</text><text x="496.6" y="516.4">No. of regions</text></g><defs><linearGradient id="gr" x1="0" y1="0" x2="0" y2="1"><stop offset="0" stop-color="#a8232a"/><stop offset="0.5" stop-color="#b97070"/><stop offset="1" stop-color="#b4b4b4"/></linearGradient><clipPath id="rc"><polygon points="413.8,174.5 413.8,174.5 434.2,172.4 463.4,170 492.6,166.6 521.8,162.8 551,159.3 580.2,154 597.7,149.6 605,148.2 618.6,145 630,141.5 640,139.2 645.5,137.2 651,135.1 653.8,133 655.1,128.9 656.5,125.9 662,122.7 664.1,117.9 664.8,113.1 667.5,110.3 668.9,106.2 671.6,103.4 673.7,100 675.5,95 677.6,88.3 679.1,71.3 680,58 680.6,46.5 681.2,37 682,33 682.6,24 683.4,20 684,8.5 685,8 685,174.5"/></clipPath></defs><rect x="496.4" y="520.1" width="12.4" height="61" fill="url(#gr)"/><line x1="506" y1="541.5" x2="508.8" y2="541.5" stroke="#e8dada" stroke-width="0.8"/><line x1="506" y1="556.5" x2="508.8" y2="556.5" stroke="#e8dada" stroke-width="0.8"/><line x1="506" y1="571.5" x2="508.8" y2="571.5" stroke="#e8dada" stroke-width="0.8"/><g font-family='"Liberation Sans", sans-serif' font-size="9.6" fill="#333"><text x="512.2" y="528.9">10.0</text><text x="512.2" y="544.8">7.5</text><text x="512.2" y="559.6">5.0</text><text x="512.2" y="574.7">2.5</text></g></svg></body></html>
